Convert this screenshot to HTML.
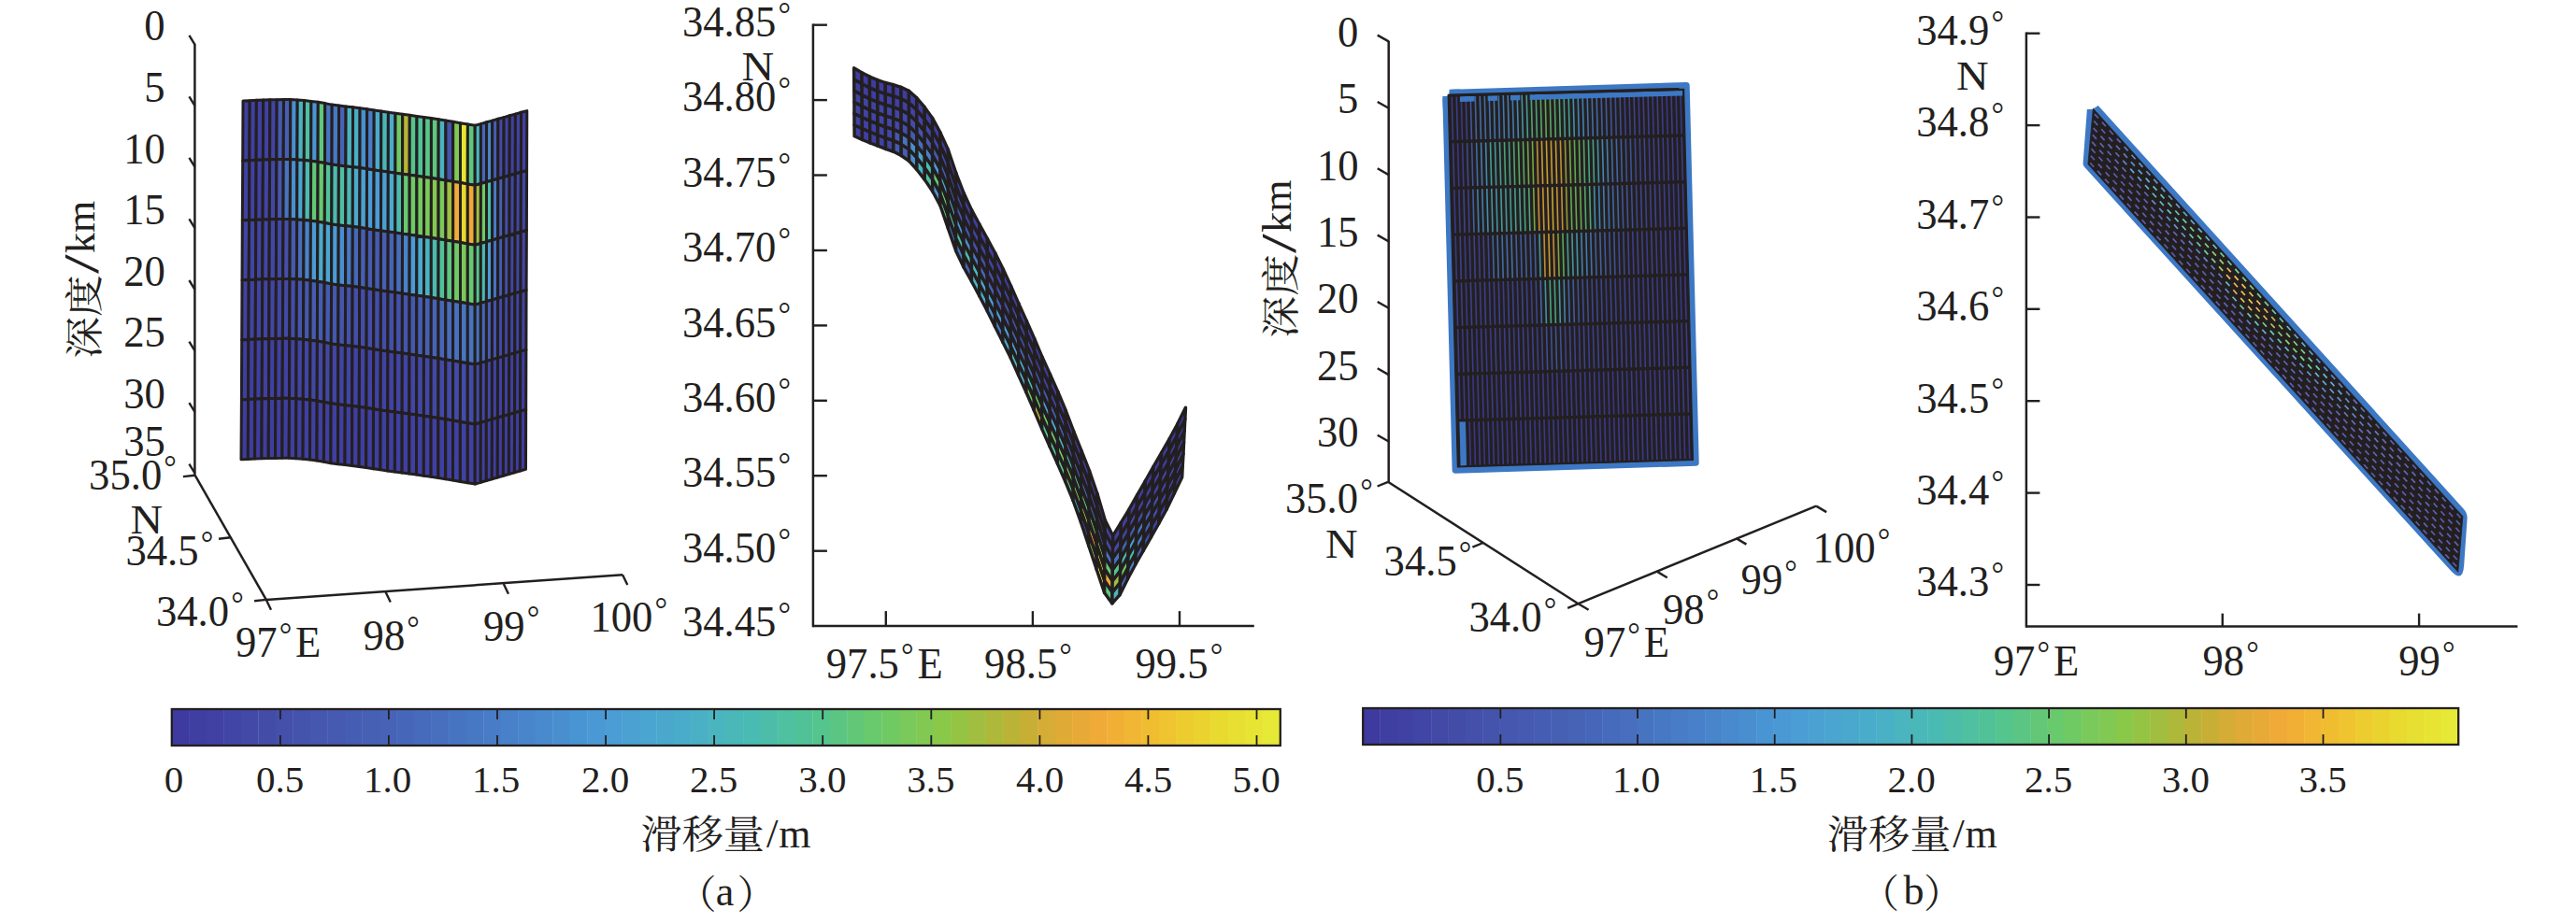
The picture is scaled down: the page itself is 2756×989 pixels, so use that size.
<!DOCTYPE html>
<html lang="zh"><head><meta charset="utf-8"><title>figure</title><style>html,body{margin:0;padding:0;background:#fff;overflow:hidden}svg{display:block}</style></head><body>
<svg width="2756" height="989" viewBox="0 0 2756 989" font-family='"Liberation Serif","Noto Serif CJK SC",serif' fill="#231f20">
<rect width="2756" height="989" fill="#ffffff"/>
<line x1="208.4" y1="47" x2="208.4" y2="508.7" stroke="#231f20" stroke-width="2.5" stroke-linecap="butt"/>
<line x1="208.4" y1="47.6" x2="202.4" y2="37.8" stroke="#231f20" stroke-width="2.4" stroke-linecap="butt"/>
<g transform="translate(154.3 43.4)"><text font-size="46.5" transform="scale(0.96 1)">0</text></g>
<line x1="208.4" y1="113.2" x2="202.4" y2="103.4" stroke="#231f20" stroke-width="2.4" stroke-linecap="butt"/>
<g transform="translate(154.3 109)"><text font-size="46.5" transform="scale(0.96 1)">5</text></g>
<line x1="208.4" y1="178.7" x2="202.4" y2="168.9" stroke="#231f20" stroke-width="2.4" stroke-linecap="butt"/>
<g transform="translate(132.3 174.5)"><text font-size="46.5" transform="scale(0.96 1)">10</text></g>
<line x1="208.4" y1="244.2" x2="202.4" y2="234.4" stroke="#231f20" stroke-width="2.4" stroke-linecap="butt"/>
<g transform="translate(132.3 240)"><text font-size="46.5" transform="scale(0.96 1)">15</text></g>
<line x1="208.4" y1="309.8" x2="202.4" y2="300" stroke="#231f20" stroke-width="2.4" stroke-linecap="butt"/>
<g transform="translate(132.3 305.6)"><text font-size="46.5" transform="scale(0.96 1)">20</text></g>
<line x1="208.4" y1="375.4" x2="202.4" y2="365.6" stroke="#231f20" stroke-width="2.4" stroke-linecap="butt"/>
<g transform="translate(132.3 371.2)"><text font-size="46.5" transform="scale(0.96 1)">25</text></g>
<line x1="208.4" y1="440.9" x2="202.4" y2="431.1" stroke="#231f20" stroke-width="2.4" stroke-linecap="butt"/>
<g transform="translate(132.3 436.7)"><text font-size="46.5" transform="scale(0.96 1)">30</text></g>
<line x1="208.4" y1="506.4" x2="202.4" y2="496.6" stroke="#231f20" stroke-width="2.4" stroke-linecap="butt"/>
<g transform="translate(132.3 487.7)"><text font-size="46.5" transform="scale(0.96 1)">35</text></g>
<line x1="208.6" y1="508.7" x2="284.8" y2="641.9" stroke="#231f20" stroke-width="2.5" stroke-linecap="butt"/>
<line x1="284.8" y1="641.9" x2="666.1" y2="615.2" stroke="#231f20" stroke-width="2.5" stroke-linecap="butt"/>
<line x1="208.6" y1="508.7" x2="195.9" y2="510.1" stroke="#231f20" stroke-width="2.4" stroke-linecap="butt"/>
<line x1="246.7" y1="575.3" x2="234" y2="576.7" stroke="#231f20" stroke-width="2.4" stroke-linecap="butt"/>
<line x1="284.8" y1="641.9" x2="272.1" y2="643.3" stroke="#231f20" stroke-width="2.4" stroke-linecap="butt"/>
<line x1="284.8" y1="641.9" x2="290" y2="652.7" stroke="#231f20" stroke-width="2.4" stroke-linecap="butt"/>
<line x1="412.6" y1="633.7" x2="417.8" y2="644.5" stroke="#231f20" stroke-width="2.4" stroke-linecap="butt"/>
<line x1="538.8" y1="625" x2="544" y2="635.8" stroke="#231f20" stroke-width="2.4" stroke-linecap="butt"/>
<line x1="666.1" y1="615.2" x2="671.3" y2="626" stroke="#231f20" stroke-width="2.4" stroke-linecap="butt"/>
<g transform="translate(95.1 524.1)"><text font-size="46.5" transform="scale(0.96 1)">35.0<tspan font-size="35.3" dx="2.2" dy="-12.2">°</tspan></text></g>
<g transform="translate(134.5 604.8)"><text font-size="46.5" transform="scale(0.96 1)">34.5<tspan font-size="35.3" dx="2.2" dy="-12.2">°</tspan></text></g>
<g transform="translate(167 670.3)"><text font-size="46.5" transform="scale(0.96 1)">34.0<tspan font-size="35.3" dx="2.2" dy="-12.2">°</tspan></text></g>
<g transform="translate(139.6 570.7)"><text font-size="44" transform="scale(1.09 1)">N</text></g>
<g transform="translate(251.9 703.3)"><text font-size="46.5" transform="scale(0.96 1)">97<tspan font-size="35.3" dx="2.2" dy="-12.2">°</tspan><tspan dx="4" dy="12.2">E</tspan></text></g>
<g transform="translate(388.6 696)"><text font-size="46.5" transform="scale(0.96 1)">98<tspan font-size="35.3" dx="2.2" dy="-12.2">°</tspan></text></g>
<g transform="translate(517 685.6)"><text font-size="46.5" transform="scale(0.96 1)">99<tspan font-size="35.3" dx="2.2" dy="-12.2">°</tspan></text></g>
<g transform="translate(631.5 676.2)"><text font-size="46.5" transform="scale(0.96 1)">100<tspan font-size="35.3" dx="2.2" dy="-12.2">°</tspan></text></g>
<g transform="translate(104.9 383.8) rotate(-90)"><text font-size="41.3" transform="scale(1.087 1)">深度</text></g>
<g transform="translate(105.1 293) rotate(-90)"><text font-size="52" transform="scale(1.43 1)">/</text></g>
<g transform="translate(100.5 270.9) rotate(-90)"><text font-size="44">km</text></g>
<g stroke="#231f20" stroke-width="3.0" stroke-linejoin="round">
<polygon points="260,108.1 267.2,107.7 266.9,171.7 259.7,172.1" fill="#403fa2"/>
<polygon points="267.2,107.7 274.4,107.3 274.1,171.3 266.9,171.7" fill="#403fa2"/>
<polygon points="274.4,107.3 281.7,107 281.4,170.9 274.1,171.3" fill="#403fa2"/>
<polygon points="281.7,107 288.9,106.8 288.6,170.8 281.4,170.9" fill="#4041a3"/>
<polygon points="288.9,106.8 296.2,106.7 295.9,170.6 288.6,170.8" fill="#4144a4"/>
<polygon points="296.2,106.7 303.5,106.5 303.2,170.5 295.9,170.6" fill="#455bb1"/>
<polygon points="303.5,106.5 310.8,106.5 310.6,170.5 303.2,170.5" fill="#465fb4"/>
<polygon points="310.8,106.5 318.2,107 317.9,170.9 310.6,170.5" fill="#498fd0"/>
<polygon points="318.2,107 325.5,107.5 325.3,171.4 317.9,170.9" fill="#4ab3c0"/>
<polygon points="325.5,107.5 332.9,108.4 332.7,172.3 325.3,171.4" fill="#4ebfa4"/>
<polygon points="332.9,108.4 340.3,109.3 340.1,173.3 332.7,172.3" fill="#4a95d3"/>
<polygon points="340.3,109.3 347.7,110.6 347.5,174.6 340.1,173.3" fill="#5ec77f"/>
<polygon points="347.7,110.6 355.2,112.1 355,176 347.5,174.6" fill="#4773c0"/>
<polygon points="355.2,112.1 362.6,113.1 362.4,177 355,176" fill="#4778c4"/>
<polygon points="362.6,113.1 370.1,113.9 369.9,177.9 362.4,177" fill="#4663b6"/>
<polygon points="370.1,113.9 377.6,114.7 377.4,178.7 369.9,177.9" fill="#4ab3c0"/>
<polygon points="377.6,114.7 385.1,115.7 385,179.6 377.4,178.7" fill="#4aaec7"/>
<polygon points="385.1,115.7 392.7,116.8 392.5,180.8 385,179.6" fill="#498fd0"/>
<polygon points="392.7,116.8 400.2,118 400.1,181.9 392.5,180.8" fill="#487dc7"/>
<polygon points="400.2,118 407.8,119.1 407.7,183.1 400.1,181.9" fill="#4aaacd"/>
<polygon points="407.8,119.1 415.4,120.2 415.3,184.1 407.7,183.1" fill="#4ab7b8"/>
<polygon points="415.4,120.2 423,121.2 422.9,185.2 415.3,184.1" fill="#4aaccb"/>
<polygon points="423,121.2 430.7,122.3 430.6,186.2 422.9,185.2" fill="#6fca65"/>
<polygon points="430.7,122.3 438.3,123.3 438.2,187.3 430.6,186.2" fill="#b7b438"/>
<polygon points="438.3,123.3 446,124.4 445.9,188.3 438.2,187.3" fill="#55c58d"/>
<polygon points="446,124.4 453.7,125.5 453.6,189.4 445.9,188.3" fill="#50c299"/>
<polygon points="453.7,125.5 461.4,126.6 461.4,190.5 453.6,189.4" fill="#59c686"/>
<polygon points="461.4,126.6 469.2,127.8 469.1,191.8 461.4,190.5" fill="#5ec77f"/>
<polygon points="469.2,127.8 476.9,129.1 476.9,193 469.1,191.8" fill="#4ab3c0"/>
<polygon points="476.9,129.1 484.7,130.3 484.7,194.3 476.9,193" fill="#4453ac"/>
<polygon points="484.7,130.3 492.5,131.7 492.5,195.6 484.7,194.3" fill="#7fc955"/>
<polygon points="492.5,131.7 500.4,133 500.3,196.9 492.5,195.6" fill="#e7e533"/>
<polygon points="500.4,133 508.2,134.3 508.2,198.2 500.3,196.9" fill="#5ec77f"/>
<polygon points="508.2,134.3 514.4,132.6 514.4,196.5 508.2,198.2" fill="#4ab5bc"/>
<polygon points="514.4,132.6 520.6,130.8 520.5,194.8 514.4,196.5" fill="#4668ba"/>
<polygon points="520.6,130.8 526.7,129.1 526.7,193 520.5,194.8" fill="#4986cc"/>
<polygon points="526.7,129.1 532.9,127.3 532.8,191.3 526.7,193" fill="#465fb4"/>
<polygon points="532.9,127.3 539.1,125.6 539,189.5 532.8,191.3" fill="#434ba7"/>
<polygon points="539.1,125.6 545.3,123.8 545.1,187.8 539,189.5" fill="#4144a4"/>
<polygon points="545.3,123.8 551.4,122.1 551.3,186 545.1,187.8" fill="#4041a3"/>
<polygon points="551.4,122.1 557.6,120.3 557.4,184.3 551.3,186" fill="#4041a3"/>
<polygon points="557.6,120.3 563.8,118.6 563.6,182.6 557.4,184.3" fill="#4041a3"/>
<polygon points="259.7,172.1 266.9,171.7 266.6,235.6 259.3,236" fill="#4041a3"/>
<polygon points="266.9,171.7 274.1,171.3 273.8,235.2 266.6,235.6" fill="#4041a3"/>
<polygon points="274.1,171.3 281.4,170.9 281.1,234.9 273.8,235.2" fill="#4041a3"/>
<polygon points="281.4,170.9 288.6,170.8 288.3,234.7 281.1,234.9" fill="#4144a4"/>
<polygon points="288.6,170.8 295.9,170.6 295.6,234.6 288.3,234.7" fill="#4246a5"/>
<polygon points="295.9,170.6 303.2,170.5 303,234.4 295.6,234.6" fill="#4557af"/>
<polygon points="303.2,170.5 310.6,170.5 310.3,234.4 303,234.4" fill="#4773c0"/>
<polygon points="310.6,170.5 317.9,170.9 317.7,234.9 310.3,234.4" fill="#498fd0"/>
<polygon points="317.9,170.9 325.3,171.4 325,235.4 317.7,234.9" fill="#4aa5d0"/>
<polygon points="325.3,171.4 332.7,172.3 332.4,236.3 325,235.4" fill="#4bbbaf"/>
<polygon points="332.7,172.3 340.1,173.3 339.9,237.2 332.4,236.3" fill="#62c878"/>
<polygon points="340.1,173.3 347.5,174.6 347.3,238.5 339.9,237.2" fill="#66c972"/>
<polygon points="347.5,174.6 355,176 354.8,240 347.3,238.5" fill="#50c299"/>
<polygon points="355,176 362.4,177 362.2,241 354.8,240" fill="#4bbbaf"/>
<polygon points="362.4,177 369.9,177.9 369.7,241.8 362.2,241" fill="#4ebfa4"/>
<polygon points="369.9,177.9 377.4,178.7 377.3,242.6 369.7,241.8" fill="#4ab7b8"/>
<polygon points="377.4,178.7 385,179.6 384.8,243.6 377.3,242.6" fill="#4aaacd"/>
<polygon points="385,179.6 392.5,180.8 392.4,244.7 384.8,243.6" fill="#4aa0d3"/>
<polygon points="392.5,180.8 400.1,181.9 399.9,245.9 392.4,244.7" fill="#4a9bd6"/>
<polygon points="400.1,181.9 407.7,183.1 407.5,247 399.9,245.9" fill="#4a9bd6"/>
<polygon points="407.7,183.1 415.3,184.1 415.2,248.1 407.5,247" fill="#4aa0d3"/>
<polygon points="415.3,184.1 422.9,185.2 422.8,249.1 415.2,248.1" fill="#4aaacd"/>
<polygon points="422.9,185.2 430.6,186.2 430.5,250.2 422.8,249.1" fill="#4bbbaf"/>
<polygon points="430.6,186.2 438.2,187.3 438.2,251.2 430.5,250.2" fill="#66c972"/>
<polygon points="438.2,187.3 445.9,188.3 445.9,252.3 438.2,251.2" fill="#6fca65"/>
<polygon points="445.9,188.3 453.6,189.4 453.6,253.4 445.9,252.3" fill="#74c960"/>
<polygon points="453.6,189.4 461.4,190.5 461.3,254.5 453.6,253.4" fill="#7ac95a"/>
<polygon points="461.4,190.5 469.1,191.8 469.1,255.7 461.3,254.5" fill="#84c950"/>
<polygon points="469.1,191.8 476.9,193 476.9,257 469.1,255.7" fill="#7ac95a"/>
<polygon points="476.9,193 484.7,194.3 484.7,258.2 476.9,257" fill="#9fbf41"/>
<polygon points="484.7,194.3 492.5,195.6 492.5,259.6 484.7,258.2" fill="#f2ab38"/>
<polygon points="492.5,195.6 500.3,196.9 500.3,260.9 492.5,259.6" fill="#e8d82e"/>
<polygon points="500.3,196.9 508.2,198.2 508.2,262.2 500.3,260.9" fill="#eeaa38"/>
<polygon points="508.2,198.2 514.4,196.5 514.3,260.5 508.2,262.2" fill="#9fbf41"/>
<polygon points="514.4,196.5 520.5,194.8 520.5,258.7 514.3,260.5" fill="#6fca65"/>
<polygon points="520.5,194.8 526.7,193 526.6,257 520.5,258.7" fill="#4bbbaf"/>
<polygon points="526.7,193 532.8,191.3 532.7,255.2 526.6,257" fill="#487dc7"/>
<polygon points="532.8,191.3 539,189.5 538.8,253.5 532.7,255.2" fill="#465fb4"/>
<polygon points="539,189.5 545.1,187.8 545,251.7 538.8,253.5" fill="#444faa"/>
<polygon points="545.1,187.8 551.3,186 551.1,250 545,251.7" fill="#4246a5"/>
<polygon points="551.3,186 557.4,184.3 557.2,248.2 551.1,250" fill="#4246a5"/>
<polygon points="557.4,184.3 563.6,182.6 563.4,246.5 557.2,248.2" fill="#4246a5"/>
<polygon points="259.3,236 266.6,235.6 266.2,299.6 259,300" fill="#4144a4"/>
<polygon points="266.6,235.6 273.8,235.2 273.5,299.2 266.2,299.6" fill="#4144a4"/>
<polygon points="273.8,235.2 281.1,234.9 280.8,298.8 273.5,299.2" fill="#4144a4"/>
<polygon points="281.1,234.9 288.3,234.7 288,298.7 280.8,298.8" fill="#4246a5"/>
<polygon points="288.3,234.7 295.6,234.6 295.4,298.5 288,298.7" fill="#4246a5"/>
<polygon points="295.6,234.6 303,234.4 302.7,298.4 295.4,298.5" fill="#4248a6"/>
<polygon points="303,234.4 310.3,234.4 310,298.4 302.7,298.4" fill="#444faa"/>
<polygon points="310.3,234.4 317.7,234.9 317.4,298.8 310,298.4" fill="#455bb1"/>
<polygon points="317.7,234.9 325,235.4 324.8,299.3 317.4,298.8" fill="#476dbd"/>
<polygon points="325,235.4 332.4,236.3 332.2,300.2 324.8,299.3" fill="#4883ca"/>
<polygon points="332.4,236.3 339.9,237.2 339.6,301.2 332.2,300.2" fill="#4a9bd6"/>
<polygon points="339.9,237.2 347.3,238.5 347.1,302.5 339.6,301.2" fill="#4aaacd"/>
<polygon points="347.3,238.5 354.8,240 354.6,303.9 347.1,302.5" fill="#4aa5d0"/>
<polygon points="354.8,240 362.2,241 362,304.9 354.6,303.9" fill="#4a9bd6"/>
<polygon points="362.2,241 369.7,241.8 369.6,305.8 362,304.9" fill="#498fd0"/>
<polygon points="369.7,241.8 377.3,242.6 377.1,306.6 369.6,305.8" fill="#4778c4"/>
<polygon points="377.3,242.6 384.8,243.6 384.6,307.5 377.1,306.6" fill="#4668ba"/>
<polygon points="384.8,243.6 392.4,244.7 392.2,308.7 384.6,307.5" fill="#465fb4"/>
<polygon points="392.4,244.7 399.9,245.9 399.8,309.8 392.2,308.7" fill="#455bb1"/>
<polygon points="399.9,245.9 407.5,247 407.4,311 399.8,309.8" fill="#455bb1"/>
<polygon points="407.5,247 415.2,248.1 415,312 407.4,311" fill="#465fb4"/>
<polygon points="415.2,248.1 422.8,249.1 422.7,313.1 415,312" fill="#4663b6"/>
<polygon points="422.8,249.1 430.5,250.2 430.4,314.1 422.7,313.1" fill="#476dbd"/>
<polygon points="430.5,250.2 438.2,251.2 438.1,315.2 430.4,314.1" fill="#4883ca"/>
<polygon points="438.2,251.2 445.9,252.3 445.8,316.2 438.1,315.2" fill="#4a9bd6"/>
<polygon points="445.9,252.3 453.6,253.4 453.5,317.3 445.8,316.2" fill="#4aaacd"/>
<polygon points="453.6,253.4 461.3,254.5 461.3,318.4 453.5,317.3" fill="#4ab3c0"/>
<polygon points="461.3,254.5 469.1,255.7 469,319.7 461.3,318.4" fill="#4bbbaf"/>
<polygon points="469.1,255.7 476.9,257 476.8,320.9 469,319.7" fill="#50c299"/>
<polygon points="476.9,257 484.7,258.2 484.6,322.2 476.8,320.9" fill="#5ec77f"/>
<polygon points="484.7,258.2 492.5,259.6 492.5,323.5 484.6,322.2" fill="#6fca65"/>
<polygon points="492.5,259.6 500.3,260.9 500.3,324.8 492.5,323.5" fill="#7ac95a"/>
<polygon points="500.3,260.9 508.2,262.2 508.2,326.2 500.3,324.8" fill="#66c972"/>
<polygon points="508.2,262.2 514.3,260.5 514.3,324.4 508.2,326.2" fill="#55c58d"/>
<polygon points="514.3,260.5 520.5,258.7 520.4,322.7 514.3,324.4" fill="#4bbbaf"/>
<polygon points="520.5,258.7 526.6,257 526.5,320.9 520.4,322.7" fill="#4a9bd6"/>
<polygon points="526.6,257 532.7,255.2 532.6,319.2 526.5,320.9" fill="#4773c0"/>
<polygon points="532.7,255.2 538.8,253.5 538.7,317.4 532.6,319.2" fill="#455bb1"/>
<polygon points="538.8,253.5 545,251.7 544.8,315.7 538.7,317.4" fill="#444faa"/>
<polygon points="545,251.7 551.1,250 550.9,313.9 544.8,315.7" fill="#4246a5"/>
<polygon points="551.1,250 557.2,248.2 557,312.2 550.9,313.9" fill="#4246a5"/>
<polygon points="557.2,248.2 563.4,246.5 563.1,310.5 557,312.2" fill="#4246a5"/>
<polygon points="259,300 266.2,299.6 265.9,363.5 258.7,363.9" fill="#4143a3"/>
<polygon points="266.2,299.6 273.5,299.2 273.2,363.1 265.9,363.5" fill="#4143a3"/>
<polygon points="273.5,299.2 280.8,298.8 280.5,362.8 273.2,363.1" fill="#4143a3"/>
<polygon points="280.8,298.8 288,298.7 287.8,362.6 280.5,362.8" fill="#4145a4"/>
<polygon points="288,298.7 295.4,298.5 295.1,362.5 287.8,362.6" fill="#4145a4"/>
<polygon points="295.4,298.5 302.7,298.4 302.4,362.3 295.1,362.5" fill="#4145a4"/>
<polygon points="302.7,298.4 310,298.4 309.8,362.3 302.4,362.3" fill="#4249a6"/>
<polygon points="310,298.4 317.4,298.8 317.1,362.8 309.8,362.3" fill="#434da9"/>
<polygon points="317.4,298.8 324.8,299.3 324.5,363.3 317.1,362.8" fill="#4455ad"/>
<polygon points="324.8,299.3 332.2,300.2 332,364.2 324.5,363.3" fill="#4558af"/>
<polygon points="332.2,300.2 339.6,301.2 339.4,365.1 332,364.2" fill="#455cb2"/>
<polygon points="339.6,301.2 347.1,302.5 346.9,366.4 339.4,365.1" fill="#455cb2"/>
<polygon points="347.1,302.5 354.6,303.9 354.3,367.9 346.9,366.4" fill="#455ab0"/>
<polygon points="354.6,303.9 362,304.9 361.8,368.9 354.3,367.9" fill="#4558af"/>
<polygon points="362,304.9 369.6,305.8 369.4,369.7 361.8,368.9" fill="#4455ad"/>
<polygon points="369.6,305.8 377.1,306.6 376.9,370.5 369.4,369.7" fill="#4451ab"/>
<polygon points="377.1,306.6 384.6,307.5 384.5,371.5 376.9,370.5" fill="#444faa"/>
<polygon points="384.6,307.5 392.2,308.7 392.1,372.6 384.5,371.5" fill="#434da9"/>
<polygon points="392.2,308.7 399.8,309.8 399.7,373.8 392.1,372.6" fill="#434da9"/>
<polygon points="399.8,309.8 407.4,311 407.3,374.9 399.7,373.8" fill="#434da9"/>
<polygon points="407.4,311 415,312 414.9,376 407.3,374.9" fill="#434da9"/>
<polygon points="415,312 422.7,313.1 422.6,377 414.9,376" fill="#444faa"/>
<polygon points="422.7,313.1 430.4,314.1 430.3,378.1 422.6,377" fill="#4451ab"/>
<polygon points="430.4,314.1 438.1,315.2 438,379.1 430.3,378.1" fill="#4455ad"/>
<polygon points="438.1,315.2 445.8,316.2 445.7,380.2 438,379.1" fill="#4558af"/>
<polygon points="445.8,316.2 453.5,317.3 453.4,381.3 445.7,380.2" fill="#455cb2"/>
<polygon points="453.5,317.3 461.3,318.4 461.2,382.4 453.4,381.3" fill="#465fb4"/>
<polygon points="461.3,318.4 469,319.7 469,383.6 461.2,382.4" fill="#4663b6"/>
<polygon points="469,319.7 476.8,320.9 476.8,384.9 469,383.6" fill="#4667b9"/>
<polygon points="476.8,320.9 484.6,322.2 484.6,386.1 476.8,384.9" fill="#476cbc"/>
<polygon points="484.6,322.2 492.5,323.5 492.5,387.5 484.6,386.1" fill="#4771bf"/>
<polygon points="492.5,323.5 500.3,324.8 500.3,388.8 492.5,387.5" fill="#4775c2"/>
<polygon points="500.3,324.8 508.2,326.2 508.2,390.1 500.3,388.8" fill="#4773c0"/>
<polygon points="508.2,326.2 514.3,324.4 514.3,388.4 508.2,390.1" fill="#4771bf"/>
<polygon points="514.3,324.4 520.4,322.7 520.4,386.6 514.3,388.4" fill="#4667b9"/>
<polygon points="520.4,322.7 526.5,320.9 526.4,384.9 520.4,386.6" fill="#455cb2"/>
<polygon points="526.5,320.9 532.6,319.2 532.5,383.1 526.4,384.9" fill="#4451ab"/>
<polygon points="532.6,319.2 538.7,317.4 538.6,381.4 532.5,383.1" fill="#4249a6"/>
<polygon points="538.7,317.4 544.8,315.7 544.7,379.6 538.6,381.4" fill="#4145a4"/>
<polygon points="544.8,315.7 550.9,313.9 550.8,377.9 544.7,379.6" fill="#4145a4"/>
<polygon points="550.9,313.9 557,312.2 556.8,376.1 550.8,377.9" fill="#4143a3"/>
<polygon points="557,312.2 563.1,310.5 562.9,374.4 556.8,376.1" fill="#4143a3"/>
<polygon points="258.7,363.9 265.9,363.5 265.6,427.5 258.4,427.9" fill="#3f3ea1"/>
<polygon points="265.9,363.5 273.2,363.1 272.9,427.1 265.6,427.5" fill="#3f3ea1"/>
<polygon points="273.2,363.1 280.5,362.8 280.2,426.7 272.9,427.1" fill="#3f3ea1"/>
<polygon points="280.5,362.8 287.8,362.6 287.5,426.6 280.2,426.7" fill="#403fa2"/>
<polygon points="287.8,362.6 295.1,362.5 294.8,426.4 287.5,426.6" fill="#403fa2"/>
<polygon points="295.1,362.5 302.4,362.3 302.1,426.3 294.8,426.4" fill="#403fa2"/>
<polygon points="302.4,362.3 309.8,362.3 309.5,426.3 302.1,426.3" fill="#4041a2"/>
<polygon points="309.8,362.3 317.1,362.8 316.9,426.7 309.5,426.3" fill="#4142a3"/>
<polygon points="317.1,362.8 324.5,363.3 324.3,427.2 316.9,426.7" fill="#4144a4"/>
<polygon points="324.5,363.3 332,364.2 331.7,428.1 324.3,427.2" fill="#4145a5"/>
<polygon points="332,364.2 339.4,365.1 339.2,429.1 331.7,428.1" fill="#4247a5"/>
<polygon points="339.4,365.1 346.9,366.4 346.7,430.4 339.2,429.1" fill="#4247a5"/>
<polygon points="346.9,366.4 354.3,367.9 354.1,431.8 346.7,430.4" fill="#4247a5"/>
<polygon points="354.3,367.9 361.8,368.9 361.7,432.8 354.1,431.8" fill="#4145a5"/>
<polygon points="361.8,368.9 369.4,369.7 369.2,433.7 361.7,432.8" fill="#4144a4"/>
<polygon points="369.4,369.7 376.9,370.5 376.7,434.5 369.2,433.7" fill="#4144a4"/>
<polygon points="376.9,370.5 384.5,371.5 384.3,435.4 376.7,434.5" fill="#4142a3"/>
<polygon points="384.5,371.5 392.1,372.6 391.9,436.6 384.3,435.4" fill="#4142a3"/>
<polygon points="392.1,372.6 399.7,373.8 399.5,437.7 391.9,436.6" fill="#4142a3"/>
<polygon points="399.7,373.8 407.3,374.9 407.1,438.9 399.5,437.7" fill="#4142a3"/>
<polygon points="407.3,374.9 414.9,376 414.8,439.9 407.1,438.9" fill="#4142a3"/>
<polygon points="414.9,376 422.6,377 422.5,441 414.8,439.9" fill="#4142a3"/>
<polygon points="422.6,377 430.3,378.1 430.2,442 422.5,441" fill="#4144a4"/>
<polygon points="430.3,378.1 438,379.1 437.9,443.1 430.2,442" fill="#4144a4"/>
<polygon points="438,379.1 445.7,380.2 445.6,444.1 437.9,443.1" fill="#4145a5"/>
<polygon points="445.7,380.2 453.4,381.3 453.4,445.2 445.6,444.1" fill="#4247a5"/>
<polygon points="453.4,381.3 461.2,382.4 461.1,446.3 453.4,445.2" fill="#4247a5"/>
<polygon points="461.2,382.4 469,383.6 468.9,447.6 461.1,446.3" fill="#4248a6"/>
<polygon points="469,383.6 476.8,384.9 476.7,448.8 468.9,447.6" fill="#4249a7"/>
<polygon points="476.8,384.9 484.6,386.1 484.6,450.1 476.7,448.8" fill="#4249a7"/>
<polygon points="484.6,386.1 492.5,387.5 492.4,451.4 484.6,450.1" fill="#434ba7"/>
<polygon points="492.5,387.5 500.3,388.8 500.3,452.7 492.4,451.4" fill="#434ca8"/>
<polygon points="500.3,388.8 508.2,390.1 508.2,454.1 500.3,452.7" fill="#434ca8"/>
<polygon points="508.2,390.1 514.3,388.4 514.3,452.3 508.2,454.1" fill="#434ba7"/>
<polygon points="514.3,388.4 520.4,386.6 520.3,450.6 514.3,452.3" fill="#4248a6"/>
<polygon points="520.4,386.6 526.4,384.9 526.4,448.8 520.3,450.6" fill="#4145a5"/>
<polygon points="526.4,384.9 532.5,383.1 532.4,447.1 526.4,448.8" fill="#4142a3"/>
<polygon points="532.5,383.1 538.6,381.4 538.5,445.3 532.4,447.1" fill="#4041a2"/>
<polygon points="538.6,381.4 544.7,379.6 544.5,443.6 538.5,445.3" fill="#403fa2"/>
<polygon points="544.7,379.6 550.8,377.9 550.6,441.8 544.5,443.6" fill="#403fa2"/>
<polygon points="550.8,377.9 556.8,376.1 556.6,440.1 550.6,441.8" fill="#3f3ea1"/>
<polygon points="556.8,376.1 562.9,374.4 562.7,438.4 556.6,440.1" fill="#3f3ea1"/>
<polygon points="258.4,427.9 265.6,427.5 265.3,491.4 258,491.8" fill="#3f3ca0"/>
<polygon points="265.6,427.5 272.9,427.1 272.6,491 265.3,491.4" fill="#3f3ca0"/>
<polygon points="272.9,427.1 280.2,426.7 279.9,490.7 272.6,491" fill="#3f3ca0"/>
<polygon points="280.2,426.7 287.5,426.6 287.2,490.5 279.9,490.7" fill="#3f3da0"/>
<polygon points="287.5,426.6 294.8,426.4 294.5,490.4 287.2,490.5" fill="#3f3da0"/>
<polygon points="294.8,426.4 302.1,426.3 301.9,490.2 294.5,490.4" fill="#3f3da0"/>
<polygon points="302.1,426.3 309.5,426.3 309.2,490.2 301.9,490.2" fill="#3f3da0"/>
<polygon points="309.5,426.3 316.9,426.7 316.6,490.7 309.2,490.2" fill="#3f3ea1"/>
<polygon points="316.9,426.7 324.3,427.2 324.1,491.2 316.6,490.7" fill="#3f3ea1"/>
<polygon points="324.3,427.2 331.7,428.1 331.5,492.1 324.1,491.2" fill="#403fa2"/>
<polygon points="331.7,428.1 339.2,429.1 339,493 331.5,492.1" fill="#403fa2"/>
<polygon points="339.2,429.1 346.7,430.4 346.4,494.3 339,493" fill="#403fa2"/>
<polygon points="346.7,430.4 354.1,431.8 353.9,495.8 346.4,494.3" fill="#403fa2"/>
<polygon points="354.1,431.8 361.7,432.8 361.5,496.8 353.9,495.8" fill="#403fa2"/>
<polygon points="361.7,432.8 369.2,433.7 369,497.6 361.5,496.8" fill="#403fa2"/>
<polygon points="369.2,433.7 376.7,434.5 376.6,498.4 369,497.6" fill="#3f3ea1"/>
<polygon points="376.7,434.5 384.3,435.4 384.1,499.4 376.6,498.4" fill="#3f3ea1"/>
<polygon points="384.3,435.4 391.9,436.6 391.7,500.5 384.1,499.4" fill="#3f3ea1"/>
<polygon points="391.9,436.6 399.5,437.7 399.4,501.7 391.7,500.5" fill="#3f3ea1"/>
<polygon points="399.5,437.7 407.1,438.9 407,502.8 399.4,501.7" fill="#3f3ea1"/>
<polygon points="407.1,438.9 414.8,439.9 414.7,503.9 407,502.8" fill="#3f3ea1"/>
<polygon points="414.8,439.9 422.5,441 422.4,504.9 414.7,503.9" fill="#3f3ea1"/>
<polygon points="422.5,441 430.2,442 430.1,506 422.4,504.9" fill="#3f3ea1"/>
<polygon points="430.2,442 437.9,443.1 437.8,507 430.1,506" fill="#403fa2"/>
<polygon points="437.9,443.1 445.6,444.1 445.5,508.1 437.8,507" fill="#403fa2"/>
<polygon points="445.6,444.1 453.4,445.2 453.3,509.2 445.5,508.1" fill="#403fa2"/>
<polygon points="453.4,445.2 461.1,446.3 461.1,510.3 453.3,509.2" fill="#403fa2"/>
<polygon points="461.1,446.3 468.9,447.6 468.9,511.5 461.1,510.3" fill="#4040a2"/>
<polygon points="468.9,447.6 476.7,448.8 476.7,512.8 468.9,511.5" fill="#4040a2"/>
<polygon points="476.7,448.8 484.6,450.1 484.5,514 476.7,512.8" fill="#4040a2"/>
<polygon points="484.6,450.1 492.4,451.4 492.4,515.4 484.5,514" fill="#4041a3"/>
<polygon points="492.4,451.4 500.3,452.7 500.3,516.7 492.4,515.4" fill="#4041a3"/>
<polygon points="500.3,452.7 508.2,454.1 508.2,518 500.3,516.7" fill="#4041a3"/>
<polygon points="508.2,454.1 514.3,452.3 514.2,516.3 508.2,518" fill="#4040a2"/>
<polygon points="514.3,452.3 520.3,450.6 520.3,514.5 514.2,516.3" fill="#403fa2"/>
<polygon points="520.3,450.6 526.4,448.8 526.3,512.8 520.3,514.5" fill="#403fa2"/>
<polygon points="526.4,448.8 532.4,447.1 532.3,511 526.3,512.8" fill="#3f3ea1"/>
<polygon points="532.4,447.1 538.5,445.3 538.4,509.3 532.3,511" fill="#3f3da0"/>
<polygon points="538.5,445.3 544.5,443.6 544.4,507.5 538.4,509.3" fill="#3f3da0"/>
<polygon points="544.5,443.6 550.6,441.8 550.4,505.8 544.4,507.5" fill="#3f3da0"/>
<polygon points="550.6,441.8 556.6,440.1 556.4,504 550.4,505.8" fill="#3f3ca0"/>
<polygon points="556.6,440.1 562.7,438.4 562.5,502.3 556.4,504" fill="#3f3ca0"/>
</g>
<line x1="869.9" y1="25.5" x2="869.9" y2="671.3" stroke="#231f20" stroke-width="2.5" stroke-linecap="butt"/>
<line x1="869.9" y1="670.1" x2="1341.8" y2="670.1" stroke="#231f20" stroke-width="2.5" stroke-linecap="butt"/>
<line x1="869.9" y1="26.7" x2="884.9" y2="26.7" stroke="#231f20" stroke-width="2.4" stroke-linecap="butt"/>
<g transform="translate(730 38.9)"><text font-size="46.5" transform="scale(0.96 1)">34.85<tspan font-size="35.3" dx="2.2" dy="-12.2">°</tspan></text></g>
<line x1="869.9" y1="107.1" x2="884.9" y2="107.1" stroke="#231f20" stroke-width="2.4" stroke-linecap="butt"/>
<g transform="translate(730 119.3)"><text font-size="46.5" transform="scale(0.96 1)">34.80<tspan font-size="35.3" dx="2.2" dy="-12.2">°</tspan></text></g>
<line x1="869.9" y1="187.5" x2="884.9" y2="187.5" stroke="#231f20" stroke-width="2.4" stroke-linecap="butt"/>
<g transform="translate(730 199.7)"><text font-size="46.5" transform="scale(0.96 1)">34.75<tspan font-size="35.3" dx="2.2" dy="-12.2">°</tspan></text></g>
<line x1="869.9" y1="268" x2="884.9" y2="268" stroke="#231f20" stroke-width="2.4" stroke-linecap="butt"/>
<g transform="translate(730 280.2)"><text font-size="46.5" transform="scale(0.96 1)">34.70<tspan font-size="35.3" dx="2.2" dy="-12.2">°</tspan></text></g>
<line x1="869.9" y1="348.4" x2="884.9" y2="348.4" stroke="#231f20" stroke-width="2.4" stroke-linecap="butt"/>
<g transform="translate(730 360.6)"><text font-size="46.5" transform="scale(0.96 1)">34.65<tspan font-size="35.3" dx="2.2" dy="-12.2">°</tspan></text></g>
<line x1="869.9" y1="428.8" x2="884.9" y2="428.8" stroke="#231f20" stroke-width="2.4" stroke-linecap="butt"/>
<g transform="translate(730 441)"><text font-size="46.5" transform="scale(0.96 1)">34.60<tspan font-size="35.3" dx="2.2" dy="-12.2">°</tspan></text></g>
<line x1="869.9" y1="509.2" x2="884.9" y2="509.2" stroke="#231f20" stroke-width="2.4" stroke-linecap="butt"/>
<g transform="translate(730 521.4)"><text font-size="46.5" transform="scale(0.96 1)">34.55<tspan font-size="35.3" dx="2.2" dy="-12.2">°</tspan></text></g>
<line x1="869.9" y1="589.7" x2="884.9" y2="589.7" stroke="#231f20" stroke-width="2.4" stroke-linecap="butt"/>
<g transform="translate(730 601.9)"><text font-size="46.5" transform="scale(0.96 1)">34.50<tspan font-size="35.3" dx="2.2" dy="-12.2">°</tspan></text></g>
<g transform="translate(730 681.1)"><text font-size="46.5" transform="scale(0.96 1)">34.45<tspan font-size="35.3" dx="2.2" dy="-12.2">°</tspan></text></g>
<line x1="947.8" y1="670.1" x2="947.8" y2="654.1" stroke="#231f20" stroke-width="2.4" stroke-linecap="butt"/>
<line x1="1104.9" y1="670.1" x2="1104.9" y2="654.1" stroke="#231f20" stroke-width="2.4" stroke-linecap="butt"/>
<line x1="1262" y1="670.1" x2="1262" y2="654.1" stroke="#231f20" stroke-width="2.4" stroke-linecap="butt"/>
<g transform="translate(883.8 725.5)"><text font-size="46.5" transform="scale(0.96 1)">97.5<tspan font-size="35.3" dx="2.2" dy="-12.2">°</tspan><tspan dx="4" dy="12.2">E</tspan></text></g>
<g transform="translate(1053.1 725.5)"><text font-size="46.5" transform="scale(0.96 1)">98.5<tspan font-size="35.3" dx="2.2" dy="-12.2">°</tspan></text></g>
<g transform="translate(1214.5 725.5)"><text font-size="46.5" transform="scale(0.96 1)">99.5<tspan font-size="35.3" dx="2.2" dy="-12.2">°</tspan></text></g>
<g transform="translate(793.6 86.1)"><text font-size="44" transform="scale(1.09 1)">N</text></g>
<g stroke="#231f20" stroke-width="3.4" stroke-linejoin="round">
<polygon points="914.1,145.8 922.4,149.5 922.4,137.5 914,133.7" fill="#403fa2"/>
<polygon points="922.4,149.5 930.8,153 930.7,141.2 922.4,137.5" fill="#403fa2"/>
<polygon points="930.8,153 939.2,156.2 939.1,144.5 930.7,141.2" fill="#403fa2"/>
<polygon points="939.2,156.2 947.5,159.4 947.5,147.6 939.1,144.5" fill="#4041a3"/>
<polygon points="947.5,159.4 955.9,162.3 955.8,150.4 947.5,147.6" fill="#4144a4"/>
<polygon points="955.9,162.3 964.2,166.5 964.2,154.3 955.8,150.4" fill="#455bb1"/>
<polygon points="964.2,166.5 972.6,172.3 972.6,159.8 964.2,154.3" fill="#465fb4"/>
<polygon points="972.6,172.3 980.9,181.5 980.9,168.7 972.6,159.8" fill="#498fd0"/>
<polygon points="980.9,181.5 989.3,192.4 989.3,179.5 980.9,168.7" fill="#4ab3c0"/>
<polygon points="989.3,192.4 997.7,204.7 997.7,191.7 989.3,179.5" fill="#4ebfa4"/>
<polygon points="997.7,204.7 1006,220.3 1006,207.3 997.7,191.7" fill="#4a95d3"/>
<polygon points="1006,220.3 1014.4,244.6 1014.4,230.6 1006,207.3" fill="#5ec77f"/>
<polygon points="1014.4,244.6 1022.7,268.5 1022.7,254.6 1014.4,230.6" fill="#4773c0"/>
<polygon points="1022.7,268.5 1031.1,286.2 1031.1,272.9 1022.7,254.6" fill="#4778c4"/>
<polygon points="1031.1,286.2 1039.5,301.2 1039.5,288.5 1031.1,272.9" fill="#4663b6"/>
<polygon points="1039.5,301.2 1047.8,316.7 1047.8,303.9 1039.5,288.5" fill="#4ab3c0"/>
<polygon points="1047.8,316.7 1056.2,332.8 1056.2,320 1047.8,303.9" fill="#4aaec7"/>
<polygon points="1056.2,332.8 1064.5,349.6 1064.6,336.5 1056.2,320" fill="#498fd0"/>
<polygon points="1064.5,349.6 1072.9,366.3 1072.9,353.2 1064.6,336.5" fill="#487dc7"/>
<polygon points="1072.9,366.3 1081.3,383.1 1081.3,370.3 1072.9,353.2" fill="#4aaacd"/>
<polygon points="1081.3,383.1 1089.6,401.6 1089.7,388.8 1081.3,370.3" fill="#4ab7b8"/>
<polygon points="1089.6,401.6 1098,420 1098,407.2 1089.7,388.8" fill="#4aaccb"/>
<polygon points="1098,420 1106.3,439.3 1106.4,426.5 1098,407.2" fill="#6fca65"/>
<polygon points="1106.3,439.3 1114.7,459.1 1114.8,446.3 1106.4,426.5" fill="#b7b438"/>
<polygon points="1114.7,459.1 1123,477.9 1123.1,465 1114.8,446.3" fill="#55c58d"/>
<polygon points="1123,477.9 1131.4,496.4 1131.5,483.6 1123.1,465" fill="#50c299"/>
<polygon points="1131.4,496.4 1139.8,515.5 1139.9,502.8 1131.5,483.6" fill="#59c686"/>
<polygon points="1139.8,515.5 1148.1,535.8 1148.2,523.5 1139.9,502.8" fill="#5ec77f"/>
<polygon points="1148.1,535.8 1156.5,559.1 1156.6,546.4 1148.2,523.5" fill="#4ab3c0"/>
<polygon points="1156.5,559.1 1164.8,584.1 1164.9,570.8 1156.6,546.4" fill="#4453ac"/>
<polygon points="1164.8,584.1 1173.2,609.5 1173.3,595.9 1164.9,570.8" fill="#7fc955"/>
<polygon points="1173.2,609.5 1181.6,634.5 1181.7,621.5 1173.3,595.9" fill="#e7e533"/>
<polygon points="1181.6,634.5 1189.9,645.9 1190,633.8 1181.7,621.5" fill="#5ec77f"/>
<polygon points="1189.9,645.9 1198.2,636.5 1198.4,623.6 1190,633.8" fill="#4ab5bc"/>
<polygon points="1198.2,636.5 1206.5,619.8 1206.8,607.4 1198.4,623.6" fill="#4668ba"/>
<polygon points="1206.5,619.8 1214.8,604.2 1215.1,591.8 1206.8,607.4" fill="#4986cc"/>
<polygon points="1214.8,604.2 1223.1,589.6 1223.5,577.1 1215.1,591.8" fill="#465fb4"/>
<polygon points="1223.1,589.6 1231.4,575.1 1231.9,562.5 1223.5,577.1" fill="#434ba7"/>
<polygon points="1231.4,575.1 1239.7,560.5 1240.2,547.9 1231.9,562.5" fill="#4144a4"/>
<polygon points="1239.7,560.5 1248.1,545.2 1248.6,532.6 1240.2,547.9" fill="#4041a3"/>
<polygon points="1248.1,545.2 1256.4,528 1256.9,515.6 1248.6,532.6" fill="#4041a3"/>
<polygon points="1256.4,528 1264.7,510.7 1265.3,498.3 1256.9,515.6" fill="#4041a3"/>
<polygon points="914,133.7 922.4,137.5 922.3,125.5 913.9,121.5" fill="#4041a3"/>
<polygon points="922.4,137.5 930.7,141.2 930.7,129.4 922.3,125.5" fill="#4041a3"/>
<polygon points="930.7,141.2 939.1,144.5 939,132.7 930.7,129.4" fill="#4041a3"/>
<polygon points="939.1,144.5 947.5,147.6 947.4,135.8 939,132.7" fill="#4144a4"/>
<polygon points="947.5,147.6 955.8,150.4 955.8,138.4 947.4,135.8" fill="#4246a5"/>
<polygon points="955.8,150.4 964.2,154.3 964.2,142.1 955.8,138.4" fill="#4557af"/>
<polygon points="964.2,154.3 972.6,159.8 972.5,147.3 964.2,142.1" fill="#4773c0"/>
<polygon points="972.6,159.8 980.9,168.7 980.9,155.9 972.5,147.3" fill="#498fd0"/>
<polygon points="980.9,168.7 989.3,179.5 989.3,166.5 980.9,155.9" fill="#4aa5d0"/>
<polygon points="989.3,179.5 997.7,191.7 997.6,178.6 989.3,166.5" fill="#4bbbaf"/>
<polygon points="997.7,191.7 1006,207.3 1006,194.2 997.6,178.6" fill="#62c878"/>
<polygon points="1006,207.3 1014.4,230.6 1014.4,216.5 1006,194.2" fill="#66c972"/>
<polygon points="1014.4,230.6 1022.7,254.6 1022.8,240.7 1014.4,216.5" fill="#50c299"/>
<polygon points="1022.7,254.6 1031.1,272.9 1031.1,259.7 1022.8,240.7" fill="#4bbbaf"/>
<polygon points="1031.1,272.9 1039.5,288.5 1039.5,275.8 1031.1,259.7" fill="#4ebfa4"/>
<polygon points="1039.5,288.5 1047.8,303.9 1047.9,291.2 1039.5,275.8" fill="#4ab7b8"/>
<polygon points="1047.8,303.9 1056.2,320 1056.2,307.1 1047.9,291.2" fill="#4aaacd"/>
<polygon points="1056.2,320 1064.6,336.5 1064.6,323.4 1056.2,307.1" fill="#4aa0d3"/>
<polygon points="1064.6,336.5 1072.9,353.2 1073,340.2 1064.6,323.4" fill="#4a9bd6"/>
<polygon points="1072.9,353.2 1081.3,370.3 1081.4,357.5 1073,340.2" fill="#4a9bd6"/>
<polygon points="1081.3,370.3 1089.7,388.8 1089.7,376.1 1081.4,357.5" fill="#4aa0d3"/>
<polygon points="1089.7,388.8 1098,407.2 1098.1,394.5 1089.7,376.1" fill="#4aaacd"/>
<polygon points="1098,407.2 1106.4,426.5 1106.5,413.7 1098.1,394.5" fill="#4bbbaf"/>
<polygon points="1106.4,426.5 1114.8,446.3 1114.8,433.5 1106.5,413.7" fill="#66c972"/>
<polygon points="1114.8,446.3 1123.1,465 1123.2,452.2 1114.8,433.5" fill="#6fca65"/>
<polygon points="1123.1,465 1131.5,483.6 1131.6,470.8 1123.2,452.2" fill="#74c960"/>
<polygon points="1131.5,483.6 1139.9,502.8 1139.9,490.2 1131.6,470.8" fill="#7ac95a"/>
<polygon points="1139.9,502.8 1148.2,523.5 1148.3,511.1 1139.9,490.2" fill="#84c950"/>
<polygon points="1148.2,523.5 1156.6,546.4 1156.7,533.7 1148.3,511.1" fill="#7ac95a"/>
<polygon points="1156.6,546.4 1164.9,570.8 1165.1,557.4 1156.7,533.7" fill="#9fbf41"/>
<polygon points="1164.9,570.8 1173.3,595.9 1173.4,582.4 1165.1,557.4" fill="#f2ab38"/>
<polygon points="1173.3,595.9 1181.7,621.5 1181.8,608.6 1173.4,582.4" fill="#e8d82e"/>
<polygon points="1181.7,621.5 1190,633.8 1190.2,621.8 1181.8,608.6" fill="#eeaa38"/>
<polygon points="1190,633.8 1198.4,623.6 1198.6,610.8 1190.2,621.8" fill="#9fbf41"/>
<polygon points="1198.4,623.6 1206.8,607.4 1207,594.9 1198.6,610.8" fill="#6fca65"/>
<polygon points="1206.8,607.4 1215.1,591.8 1215.4,579.4 1207,594.9" fill="#4bbbaf"/>
<polygon points="1215.1,591.8 1223.5,577.1 1223.9,564.7 1215.4,579.4" fill="#487dc7"/>
<polygon points="1223.5,577.1 1231.9,562.5 1232.3,549.9 1223.9,564.7" fill="#465fb4"/>
<polygon points="1231.9,562.5 1240.2,547.9 1240.7,535.2 1232.3,549.9" fill="#444faa"/>
<polygon points="1240.2,547.9 1248.6,532.6 1249.1,520 1240.7,535.2" fill="#4246a5"/>
<polygon points="1248.6,532.6 1256.9,515.6 1257.5,503.2 1249.1,520" fill="#4246a5"/>
<polygon points="1256.9,515.6 1265.3,498.3 1266,485.8 1257.5,503.2" fill="#4246a5"/>
<polygon points="913.9,121.5 922.3,125.5 922.2,113.6 913.9,109.3" fill="#4144a4"/>
<polygon points="922.3,125.5 930.7,129.4 930.6,117.6 922.2,113.6" fill="#4144a4"/>
<polygon points="930.7,129.4 939,132.7 939,120.9 930.6,117.6" fill="#4144a4"/>
<polygon points="939,132.7 947.4,135.8 947.4,123.9 939,120.9" fill="#4246a5"/>
<polygon points="947.4,135.8 955.8,138.4 955.7,126.5 947.4,123.9" fill="#4246a5"/>
<polygon points="955.8,138.4 964.2,142.1 964.1,129.9 955.7,126.5" fill="#4248a6"/>
<polygon points="964.2,142.1 972.5,147.3 972.5,134.8 964.1,129.9" fill="#444faa"/>
<polygon points="972.5,147.3 980.9,155.9 980.9,143.1 972.5,134.8" fill="#455bb1"/>
<polygon points="980.9,155.9 989.3,166.5 989.3,153.6 980.9,143.1" fill="#476dbd"/>
<polygon points="989.3,166.5 997.6,178.6 997.6,165.6 989.3,153.6" fill="#4883ca"/>
<polygon points="997.6,178.6 1006,194.2 1006,181.1 997.6,165.6" fill="#4a9bd6"/>
<polygon points="1006,194.2 1014.4,216.5 1014.4,202.4 1006,181.1" fill="#4aaacd"/>
<polygon points="1014.4,216.5 1022.8,240.7 1022.8,226.8 1014.4,202.4" fill="#4aa5d0"/>
<polygon points="1022.8,240.7 1031.1,259.7 1031.1,246.5 1022.8,226.8" fill="#4a9bd6"/>
<polygon points="1031.1,259.7 1039.5,275.8 1039.5,263 1031.1,246.5" fill="#498fd0"/>
<polygon points="1039.5,275.8 1047.9,291.2 1047.9,278.5 1039.5,263" fill="#4778c4"/>
<polygon points="1047.9,291.2 1056.2,307.1 1056.3,294.2 1047.9,278.5" fill="#4668ba"/>
<polygon points="1056.2,307.1 1064.6,323.4 1064.7,310.3 1056.3,294.2" fill="#465fb4"/>
<polygon points="1064.6,323.4 1073,340.2 1073,327.1 1064.7,310.3" fill="#455bb1"/>
<polygon points="1073,340.2 1081.4,357.5 1081.4,344.7 1073,327.1" fill="#455bb1"/>
<polygon points="1081.4,357.5 1089.7,376.1 1089.8,363.3 1081.4,344.7" fill="#465fb4"/>
<polygon points="1089.7,376.1 1098.1,394.5 1098.2,381.8 1089.8,363.3" fill="#4663b6"/>
<polygon points="1098.1,394.5 1106.5,413.7 1106.5,400.9 1098.2,381.8" fill="#476dbd"/>
<polygon points="1106.5,413.7 1114.8,433.5 1114.9,420.7 1106.5,400.9" fill="#4883ca"/>
<polygon points="1114.8,433.5 1123.2,452.2 1123.3,439.3 1114.9,420.7" fill="#4a9bd6"/>
<polygon points="1123.2,452.2 1131.6,470.8 1131.7,457.9 1123.3,439.3" fill="#4aaacd"/>
<polygon points="1131.6,470.8 1139.9,490.2 1140,477.5 1131.7,457.9" fill="#4ab3c0"/>
<polygon points="1139.9,490.2 1148.3,511.1 1148.4,498.7 1140,477.5" fill="#4bbbaf"/>
<polygon points="1148.3,511.1 1156.7,533.7 1156.8,520.9 1148.4,498.7" fill="#50c299"/>
<polygon points="1156.7,533.7 1165.1,557.4 1165.2,544 1156.8,520.9" fill="#5ec77f"/>
<polygon points="1165.1,557.4 1173.4,582.4 1173.6,568.8 1165.2,544" fill="#6fca65"/>
<polygon points="1173.4,582.4 1181.8,608.6 1181.9,595.6 1173.6,568.8" fill="#7ac95a"/>
<polygon points="1181.8,608.6 1190.2,621.8 1190.3,609.7 1181.9,595.6" fill="#66c972"/>
<polygon points="1190.2,621.8 1198.6,610.8 1198.8,597.9 1190.3,609.7" fill="#55c58d"/>
<polygon points="1198.6,610.8 1207,594.9 1207.3,582.5 1198.8,597.9" fill="#4bbbaf"/>
<polygon points="1207,594.9 1215.4,579.4 1215.7,567 1207.3,582.5" fill="#4a9bd6"/>
<polygon points="1215.4,579.4 1223.9,564.7 1224.2,552.2 1215.7,567" fill="#4773c0"/>
<polygon points="1223.9,564.7 1232.3,549.9 1232.7,537.4 1224.2,552.2" fill="#455bb1"/>
<polygon points="1232.3,549.9 1240.7,535.2 1241.2,522.6 1232.7,537.4" fill="#444faa"/>
<polygon points="1240.7,535.2 1249.1,520 1249.6,507.4 1241.2,522.6" fill="#4246a5"/>
<polygon points="1249.1,520 1257.5,503.2 1258.1,490.8 1249.6,507.4" fill="#4246a5"/>
<polygon points="1257.5,503.2 1266,485.8 1266.6,473.4 1258.1,490.8" fill="#4246a5"/>
<polygon points="913.9,109.3 922.2,113.6 922.2,101.6 913.8,97.1" fill="#4143a3"/>
<polygon points="922.2,113.6 930.6,117.6 930.6,105.7 922.2,101.6" fill="#4143a3"/>
<polygon points="930.6,117.6 939,120.9 938.9,109.1 930.6,105.7" fill="#4143a3"/>
<polygon points="939,120.9 947.4,123.9 947.3,112.1 938.9,109.1" fill="#4145a4"/>
<polygon points="947.4,123.9 955.7,126.5 955.7,114.5 947.3,112.1" fill="#4145a4"/>
<polygon points="955.7,126.5 964.1,129.9 964.1,117.7 955.7,114.5" fill="#4145a4"/>
<polygon points="964.1,129.9 972.5,134.8 972.5,122.3 964.1,117.7" fill="#4249a6"/>
<polygon points="972.5,134.8 980.9,143.1 980.9,130.4 972.5,122.3" fill="#434da9"/>
<polygon points="980.9,143.1 989.3,153.6 989.2,140.6 980.9,130.4" fill="#4455ad"/>
<polygon points="989.3,153.6 997.6,165.6 997.6,152.5 989.2,140.6" fill="#4558af"/>
<polygon points="997.6,165.6 1006,181.1 1006,168 997.6,152.5" fill="#455cb2"/>
<polygon points="1006,181.1 1014.4,202.4 1014.4,188.4 1006,168" fill="#455cb2"/>
<polygon points="1014.4,202.4 1022.8,226.8 1022.8,212.9 1014.4,188.4" fill="#455ab0"/>
<polygon points="1022.8,226.8 1031.1,246.5 1031.2,233.2 1022.8,212.9" fill="#4558af"/>
<polygon points="1031.1,246.5 1039.5,263 1039.5,250.3 1031.2,233.2" fill="#4455ad"/>
<polygon points="1039.5,263 1047.9,278.5 1047.9,265.7 1039.5,250.3" fill="#4451ab"/>
<polygon points="1047.9,278.5 1056.3,294.2 1056.3,281.4 1047.9,265.7" fill="#444faa"/>
<polygon points="1056.3,294.2 1064.7,310.3 1064.7,297.2 1056.3,281.4" fill="#434da9"/>
<polygon points="1064.7,310.3 1073,327.1 1073.1,314 1064.7,297.2" fill="#434da9"/>
<polygon points="1073,327.1 1081.4,344.7 1081.5,331.9 1073.1,314" fill="#434da9"/>
<polygon points="1081.4,344.7 1089.8,363.3 1089.8,350.6 1081.5,331.9" fill="#434da9"/>
<polygon points="1089.8,363.3 1098.2,381.8 1098.2,369 1089.8,350.6" fill="#444faa"/>
<polygon points="1098.2,381.8 1106.5,400.9 1106.6,388.1 1098.2,369" fill="#4451ab"/>
<polygon points="1106.5,400.9 1114.9,420.7 1115,407.9 1106.6,388.1" fill="#4455ad"/>
<polygon points="1114.9,420.7 1123.3,439.3 1123.4,426.4 1115,407.9" fill="#4558af"/>
<polygon points="1123.3,439.3 1131.7,457.9 1131.8,445.1 1123.4,426.4" fill="#455cb2"/>
<polygon points="1131.7,457.9 1140,477.5 1140.1,464.8 1131.8,445.1" fill="#465fb4"/>
<polygon points="1140,477.5 1148.4,498.7 1148.5,486.4 1140.1,464.8" fill="#4663b6"/>
<polygon points="1148.4,498.7 1156.8,520.9 1156.9,508.2 1148.5,486.4" fill="#4667b9"/>
<polygon points="1156.8,520.9 1165.2,544 1165.3,530.7 1156.9,508.2" fill="#476cbc"/>
<polygon points="1165.2,544 1173.6,568.8 1173.7,555.3 1165.3,530.7" fill="#4771bf"/>
<polygon points="1173.6,568.8 1181.9,595.6 1182.1,582.7 1173.7,555.3" fill="#4775c2"/>
<polygon points="1181.9,595.6 1190.3,609.7 1190.4,597.6 1182.1,582.7" fill="#4773c0"/>
<polygon points="1190.3,609.7 1198.8,597.9 1199,585.1 1190.4,597.6" fill="#4771bf"/>
<polygon points="1198.8,597.9 1207.3,582.5 1207.5,570 1199,585.1" fill="#4667b9"/>
<polygon points="1207.3,582.5 1215.7,567 1216,554.7 1207.5,570" fill="#455cb2"/>
<polygon points="1215.7,567 1224.2,552.2 1224.6,539.7 1216,554.7" fill="#4451ab"/>
<polygon points="1224.2,552.2 1232.7,537.4 1233.1,524.8 1224.6,539.7" fill="#4249a6"/>
<polygon points="1232.7,537.4 1241.2,522.6 1241.6,509.9 1233.1,524.8" fill="#4145a4"/>
<polygon points="1241.2,522.6 1249.6,507.4 1250.2,494.8 1241.6,509.9" fill="#4145a4"/>
<polygon points="1249.6,507.4 1258.1,490.8 1258.7,478.4 1250.2,494.8" fill="#4143a3"/>
<polygon points="1258.1,490.8 1266.6,473.4 1267.2,461 1258.7,478.4" fill="#4143a3"/>
<polygon points="913.8,97.1 922.2,101.6 922.1,89.6 913.7,85" fill="#3f3ea1"/>
<polygon points="922.2,101.6 930.6,105.7 930.5,93.9 922.1,89.6" fill="#3f3ea1"/>
<polygon points="930.6,105.7 938.9,109.1 938.9,97.4 930.5,93.9" fill="#3f3ea1"/>
<polygon points="938.9,109.1 947.3,112.1 947.3,100.3 938.9,97.4" fill="#403fa2"/>
<polygon points="947.3,112.1 955.7,114.5 955.7,102.6 947.3,100.3" fill="#403fa2"/>
<polygon points="955.7,114.5 964.1,117.7 964.1,105.5 955.7,102.6" fill="#403fa2"/>
<polygon points="964.1,117.7 972.5,122.3 972.4,109.9 964.1,105.5" fill="#4041a2"/>
<polygon points="972.5,122.3 980.9,130.4 980.8,117.6 972.4,109.9" fill="#4142a3"/>
<polygon points="980.9,130.4 989.2,140.6 989.2,127.7 980.8,117.6" fill="#4144a4"/>
<polygon points="989.2,140.6 997.6,152.5 997.6,139.5 989.2,127.7" fill="#4145a5"/>
<polygon points="997.6,152.5 1006,168 1006,155 997.6,139.5" fill="#4247a5"/>
<polygon points="1006,168 1014.4,188.4 1014.4,174.3 1006,155" fill="#4247a5"/>
<polygon points="1014.4,188.4 1022.8,212.9 1022.8,199 1014.4,174.3" fill="#4247a5"/>
<polygon points="1022.8,212.9 1031.2,233.2 1031.2,220 1022.8,199" fill="#4145a5"/>
<polygon points="1031.2,233.2 1039.5,250.3 1039.6,237.6 1031.2,220" fill="#4144a4"/>
<polygon points="1039.5,250.3 1047.9,265.7 1047.9,253 1039.6,237.6" fill="#4144a4"/>
<polygon points="1047.9,265.7 1056.3,281.4 1056.3,268.5 1047.9,253" fill="#4142a3"/>
<polygon points="1056.3,281.4 1064.7,297.2 1064.7,284.1 1056.3,268.5" fill="#4142a3"/>
<polygon points="1064.7,297.2 1073.1,314 1073.1,301 1064.7,284.1" fill="#4142a3"/>
<polygon points="1073.1,314 1081.5,331.9 1081.5,319.1 1073.1,301" fill="#4142a3"/>
<polygon points="1081.5,331.9 1089.8,350.6 1089.9,337.8 1081.5,319.1" fill="#4142a3"/>
<polygon points="1089.8,350.6 1098.2,369 1098.3,356.3 1089.9,337.8" fill="#4142a3"/>
<polygon points="1098.2,369 1106.6,388.1 1106.7,375.3 1098.3,356.3" fill="#4144a4"/>
<polygon points="1106.6,388.1 1115,407.9 1115.1,395.1 1106.7,375.3" fill="#4144a4"/>
<polygon points="1115,407.9 1123.4,426.4 1123.5,413.6 1115.1,395.1" fill="#4145a5"/>
<polygon points="1123.4,426.4 1131.8,445.1 1131.8,432.3 1123.5,413.6" fill="#4247a5"/>
<polygon points="1131.8,445.1 1140.1,464.8 1140.2,452.2 1131.8,432.3" fill="#4247a5"/>
<polygon points="1140.1,464.8 1148.5,486.4 1148.6,474 1140.2,452.2" fill="#4248a6"/>
<polygon points="1148.5,486.4 1156.9,508.2 1157,495.5 1148.6,474" fill="#4249a7"/>
<polygon points="1156.9,508.2 1165.3,530.7 1165.4,517.3 1157,495.5" fill="#4249a7"/>
<polygon points="1165.3,530.7 1173.7,555.3 1173.8,541.7 1165.4,517.3" fill="#434ba7"/>
<polygon points="1173.7,555.3 1182.1,582.7 1182.2,569.7 1173.8,541.7" fill="#434ca8"/>
<polygon points="1182.1,582.7 1190.4,597.6 1190.6,585.5 1182.2,569.7" fill="#434ca8"/>
<polygon points="1190.4,597.6 1199,585.1 1199.2,572.3 1190.6,585.5" fill="#434ba7"/>
<polygon points="1199,585.1 1207.5,570 1207.8,557.5 1199.2,572.3" fill="#4248a6"/>
<polygon points="1207.5,570 1216,554.7 1216.3,542.3 1207.8,557.5" fill="#4145a5"/>
<polygon points="1216,554.7 1224.6,539.7 1224.9,527.2 1216.3,542.3" fill="#4142a3"/>
<polygon points="1224.6,539.7 1233.1,524.8 1233.5,512.2 1224.9,527.2" fill="#4041a2"/>
<polygon points="1233.1,524.8 1241.6,509.9 1242.1,497.2 1233.5,512.2" fill="#403fa2"/>
<polygon points="1241.6,509.9 1250.2,494.8 1250.7,482.2 1242.1,497.2" fill="#403fa2"/>
<polygon points="1250.2,494.8 1258.7,478.4 1259.3,466 1250.7,482.2" fill="#3f3ea1"/>
<polygon points="1258.7,478.4 1267.2,461 1267.9,448.5 1259.3,466" fill="#3f3ea1"/>
<polygon points="913.7,85 922.1,89.6 922,77.7 913.6,72.8" fill="#3f3ca0"/>
<polygon points="922.1,89.6 930.5,93.9 930.4,82.1 922,77.7" fill="#3f3ca0"/>
<polygon points="930.5,93.9 938.9,97.4 938.8,85.6 930.4,82.1" fill="#3f3ca0"/>
<polygon points="938.9,97.4 947.3,100.3 947.2,88.5 938.8,85.6" fill="#3f3da0"/>
<polygon points="947.3,100.3 955.7,102.6 955.6,90.6 947.2,88.5" fill="#3f3da0"/>
<polygon points="955.7,102.6 964.1,105.5 964,93.3 955.6,90.6" fill="#3f3da0"/>
<polygon points="964.1,105.5 972.4,109.9 972.4,97.4 964,93.3" fill="#3f3da0"/>
<polygon points="972.4,109.9 980.8,117.6 980.8,104.8 972.4,97.4" fill="#3f3ea1"/>
<polygon points="980.8,117.6 989.2,127.7 989.2,114.7 980.8,104.8" fill="#3f3ea1"/>
<polygon points="989.2,127.7 997.6,139.5 997.6,126.4 989.2,114.7" fill="#403fa2"/>
<polygon points="997.6,139.5 1006,155 1006,141.9 997.6,126.4" fill="#403fa2"/>
<polygon points="1006,155 1014.4,174.3 1014.4,160.3 1006,141.9" fill="#403fa2"/>
<polygon points="1014.4,174.3 1022.8,199 1022.8,185.1 1014.4,160.3" fill="#403fa2"/>
<polygon points="1022.8,199 1031.2,220 1031.2,206.8 1022.8,185.1" fill="#403fa2"/>
<polygon points="1031.2,220 1039.6,237.6 1039.6,224.9 1031.2,206.8" fill="#403fa2"/>
<polygon points="1039.6,237.6 1047.9,253 1048,240.3 1039.6,224.9" fill="#3f3ea1"/>
<polygon points="1047.9,253 1056.3,268.5 1056.4,255.6 1048,240.3" fill="#3f3ea1"/>
<polygon points="1056.3,268.5 1064.7,284.1 1064.8,271 1056.4,255.6" fill="#3f3ea1"/>
<polygon points="1064.7,284.1 1073.1,301 1073.2,287.9 1064.8,271" fill="#3f3ea1"/>
<polygon points="1073.1,301 1081.5,319.1 1081.6,306.3 1073.2,287.9" fill="#3f3ea1"/>
<polygon points="1081.5,319.1 1089.9,337.8 1090,325.1 1081.6,306.3" fill="#3f3ea1"/>
<polygon points="1089.9,337.8 1098.3,356.3 1098.4,343.6 1090,325.1" fill="#3f3ea1"/>
<polygon points="1098.3,356.3 1106.7,375.3 1106.7,362.5 1098.4,343.6" fill="#3f3ea1"/>
<polygon points="1106.7,375.3 1115.1,395.1 1115.1,382.3 1106.7,362.5" fill="#403fa2"/>
<polygon points="1115.1,395.1 1123.5,413.6 1123.5,400.7 1115.1,382.3" fill="#403fa2"/>
<polygon points="1123.5,413.6 1131.8,432.3 1131.9,419.5 1123.5,400.7" fill="#403fa2"/>
<polygon points="1131.8,432.3 1140.2,452.2 1140.3,439.5 1131.9,419.5" fill="#403fa2"/>
<polygon points="1140.2,452.2 1148.6,474 1148.7,461.6 1140.3,439.5" fill="#4040a2"/>
<polygon points="1148.6,474 1157,495.5 1157.1,482.7 1148.7,461.6" fill="#4040a2"/>
<polygon points="1157,495.5 1165.4,517.3 1165.5,503.9 1157.1,482.7" fill="#4040a2"/>
<polygon points="1165.4,517.3 1173.8,541.7 1173.9,528.2 1165.5,503.9" fill="#4041a3"/>
<polygon points="1173.8,541.7 1182.2,569.7 1182.3,556.8 1173.9,528.2" fill="#4041a3"/>
<polygon points="1182.2,569.7 1190.6,585.5 1190.7,573.4 1182.3,556.8" fill="#4041a3"/>
<polygon points="1190.6,585.5 1199.2,572.3 1199.3,559.4 1190.7,573.4" fill="#4040a2"/>
<polygon points="1199.2,572.3 1207.8,557.5 1208,545.1 1199.3,559.4" fill="#403fa2"/>
<polygon points="1207.8,557.5 1216.3,542.3 1216.6,529.9 1208,545.1" fill="#403fa2"/>
<polygon points="1216.3,542.3 1224.9,527.2 1225.3,514.8 1216.6,529.9" fill="#3f3ea1"/>
<polygon points="1224.9,527.2 1233.5,512.2 1233.9,499.7 1225.3,514.8" fill="#3f3da0"/>
<polygon points="1233.5,512.2 1242.1,497.2 1242.6,484.6 1233.9,499.7" fill="#3f3da0"/>
<polygon points="1242.1,497.2 1250.7,482.2 1251.2,469.6 1242.6,484.6" fill="#3f3da0"/>
<polygon points="1250.7,482.2 1259.3,466 1259.9,453.6 1251.2,469.6" fill="#3f3ca0"/>
<polygon points="1259.3,466 1267.9,448.5 1268.5,436.1 1259.9,453.6" fill="#3f3ca0"/>
</g>
<line x1="1485.7" y1="43.8" x2="1485.7" y2="516" stroke="#231f20" stroke-width="2.5" stroke-linecap="butt"/>
<line x1="1485.7" y1="44.4" x2="1473.7" y2="37.6" stroke="#231f20" stroke-width="2.4" stroke-linecap="butt"/>
<g transform="translate(1431 49.9)"><text font-size="46.5" transform="scale(0.96 1)">0</text></g>
<line x1="1485.7" y1="115.8" x2="1473.7" y2="109" stroke="#231f20" stroke-width="2.4" stroke-linecap="butt"/>
<g transform="translate(1431 121.2)"><text font-size="46.5" transform="scale(0.96 1)">5</text></g>
<line x1="1485.7" y1="187.1" x2="1473.7" y2="180.3" stroke="#231f20" stroke-width="2.4" stroke-linecap="butt"/>
<g transform="translate(1409 192.6)"><text font-size="46.5" transform="scale(0.96 1)">10</text></g>
<line x1="1485.7" y1="258.4" x2="1473.7" y2="251.6" stroke="#231f20" stroke-width="2.4" stroke-linecap="butt"/>
<g transform="translate(1409 263.9)"><text font-size="46.5" transform="scale(0.96 1)">15</text></g>
<line x1="1485.7" y1="329.8" x2="1473.7" y2="323" stroke="#231f20" stroke-width="2.4" stroke-linecap="butt"/>
<g transform="translate(1409 335.3)"><text font-size="46.5" transform="scale(0.96 1)">20</text></g>
<line x1="1485.7" y1="401.1" x2="1473.7" y2="394.3" stroke="#231f20" stroke-width="2.4" stroke-linecap="butt"/>
<g transform="translate(1409 406.6)"><text font-size="46.5" transform="scale(0.96 1)">25</text></g>
<line x1="1485.7" y1="472.5" x2="1473.7" y2="465.7" stroke="#231f20" stroke-width="2.4" stroke-linecap="butt"/>
<g transform="translate(1409 478)"><text font-size="46.5" transform="scale(0.96 1)">30</text></g>
<line x1="1485" y1="515.8" x2="1688.6" y2="646.2" stroke="#231f20" stroke-width="2.5" stroke-linecap="butt"/>
<line x1="1688.6" y1="646.2" x2="1943.1" y2="541.6" stroke="#231f20" stroke-width="2.5" stroke-linecap="butt"/>
<line x1="1485" y1="515.8" x2="1473.6" y2="520.5" stroke="#231f20" stroke-width="2.4" stroke-linecap="butt"/>
<line x1="1586.8" y1="581" x2="1575.4" y2="585.7" stroke="#231f20" stroke-width="2.4" stroke-linecap="butt"/>
<line x1="1688.6" y1="646.2" x2="1677.2" y2="650.9" stroke="#231f20" stroke-width="2.4" stroke-linecap="butt"/>
<line x1="1688.6" y1="646.2" x2="1699.6" y2="652.7" stroke="#231f20" stroke-width="2.4" stroke-linecap="butt"/>
<line x1="1772.7" y1="611.7" x2="1783.7" y2="618.2" stroke="#231f20" stroke-width="2.4" stroke-linecap="butt"/>
<line x1="1857.4" y1="576.1" x2="1868.4" y2="582.6" stroke="#231f20" stroke-width="2.4" stroke-linecap="butt"/>
<line x1="1943.1" y1="541.6" x2="1954.1" y2="548.1" stroke="#231f20" stroke-width="2.4" stroke-linecap="butt"/>
<g transform="translate(1375 548.8)"><text font-size="46.5" transform="scale(0.96 1)">35.0<tspan font-size="35.3" dx="2.2" dy="-12.2">°</tspan></text></g>
<g transform="translate(1480.6 616.4)"><text font-size="46.5" transform="scale(0.96 1)">34.5<tspan font-size="35.3" dx="2.2" dy="-12.2">°</tspan></text></g>
<g transform="translate(1571.5 676.1)"><text font-size="46.5" transform="scale(0.96 1)">34.0<tspan font-size="35.3" dx="2.2" dy="-12.2">°</tspan></text></g>
<g transform="translate(1418 596.9)"><text font-size="44" transform="scale(1.09 1)">N</text></g>
<g transform="translate(1694.6 703.4)"><text font-size="46.5" transform="scale(0.96 1)">97<tspan font-size="35.3" dx="2.2" dy="-12.2">°</tspan><tspan dx="4" dy="12.2">E</tspan></text></g>
<g transform="translate(1779 667.5)"><text font-size="46.5" transform="scale(0.96 1)">98<tspan font-size="35.3" dx="2.2" dy="-12.2">°</tspan></text></g>
<g transform="translate(1862.6 635.8)"><text font-size="46.5" transform="scale(0.96 1)">99<tspan font-size="35.3" dx="2.2" dy="-12.2">°</tspan></text></g>
<g transform="translate(1939.6 602)"><text font-size="46.5" transform="scale(0.96 1)">100<tspan font-size="35.3" dx="2.2" dy="-12.2">°</tspan></text></g>
<g transform="translate(1385.4 361.7) rotate(-90)"><text font-size="41.3" transform="scale(1.087 1)">深度</text></g>
<g transform="translate(1385.6 270.9) rotate(-90)"><text font-size="52" transform="scale(1.43 1)">/</text></g>
<g transform="translate(1381 248.8) rotate(-90)"><text font-size="44">km</text></g>
<polygon points="1554.2,99.4 1804.1,91.6 1814.1,495.2 1557.2,503.1 1547,106.6 1554.2,106.6" fill="#3d78c4" stroke="#3d78c4" stroke-width="7.2" stroke-linejoin="round"/>
<polygon points="1550.6,95.8 1562,95.5 1562,104 1550.6,104" fill="#3d78c4"/>
<polygon points="1543.4,103 1551,103 1551,116 1543.8,116" fill="#3d78c4"/>
<polygon points="1549.2,102 1801.6,95.3 1811.4,492.5 1559.4,499.9" fill="#231f20" stroke="#231f20" stroke-width="1.2" stroke-linejoin="miter"/>
<line x1="1553.3" y1="103.6" x2="1554.5" y2="149.9" stroke="#3a3a88" stroke-width="1.6"/>
<line x1="1558.3" y1="103.5" x2="1559.5" y2="149.8" stroke="#3b3d8a" stroke-width="1.6"/>
<line x1="1563.3" y1="103.3" x2="1564.5" y2="149.7" stroke="#3a3888" stroke-width="1.6"/>
<line x1="1568.3" y1="103.2" x2="1569.5" y2="149.5" stroke="#3c3f8b" stroke-width="1.6"/>
<line x1="1573.3" y1="103.1" x2="1574.5" y2="149.4" stroke="#3f589a" stroke-width="1.6"/>
<line x1="1578.3" y1="102.9" x2="1579.5" y2="149.3" stroke="#4065a2" stroke-width="1.6"/>
<line x1="1583.3" y1="102.8" x2="1584.5" y2="149.1" stroke="#406fa8" stroke-width="1.6"/>
<line x1="1588.3" y1="102.7" x2="1589.5" y2="149" stroke="#406ca6" stroke-width="1.6"/>
<line x1="1593.3" y1="102.5" x2="1594.5" y2="148.9" stroke="#406ea8" stroke-width="1.6"/>
<line x1="1598.3" y1="102.4" x2="1599.4" y2="148.7" stroke="#4177ac" stroke-width="1.6"/>
<line x1="1603.3" y1="102.3" x2="1604.4" y2="148.6" stroke="#4072a9" stroke-width="1.6"/>
<line x1="1608.3" y1="102.1" x2="1609.4" y2="148.5" stroke="#4179ad" stroke-width="1.6"/>
<line x1="1613.2" y1="102" x2="1614.4" y2="148.3" stroke="#427eb0" stroke-width="1.6"/>
<line x1="1618.2" y1="101.9" x2="1619.4" y2="148.2" stroke="#4179ad" stroke-width="1.6"/>
<line x1="1623.2" y1="101.7" x2="1624.4" y2="148" stroke="#4289ae" stroke-width="1.6"/>
<line x1="1628.2" y1="101.6" x2="1629.4" y2="147.9" stroke="#4294a2" stroke-width="1.6"/>
<line x1="1633.2" y1="101.5" x2="1634.4" y2="147.8" stroke="#449e8f" stroke-width="1.6"/>
<line x1="1638.2" y1="101.3" x2="1639.4" y2="147.6" stroke="#4ca475" stroke-width="1.6"/>
<line x1="1643.2" y1="101.2" x2="1644.4" y2="147.5" stroke="#4ba478" stroke-width="1.6"/>
<line x1="1648.2" y1="101.1" x2="1649.4" y2="147.4" stroke="#54a669" stroke-width="1.6"/>
<line x1="1653.2" y1="100.9" x2="1654.3" y2="147.2" stroke="#64a853" stroke-width="1.6"/>
<line x1="1658.2" y1="100.8" x2="1659.3" y2="147.1" stroke="#58a764" stroke-width="1.6"/>
<line x1="1663.2" y1="100.7" x2="1664.3" y2="147" stroke="#56a765" stroke-width="1.6"/>
<line x1="1668.2" y1="100.5" x2="1669.3" y2="146.8" stroke="#4fa572" stroke-width="1.6"/>
<line x1="1673.1" y1="100.4" x2="1674.3" y2="146.7" stroke="#459f8b" stroke-width="1.6"/>
<line x1="1678.1" y1="100.3" x2="1679.3" y2="146.6" stroke="#449e90" stroke-width="1.6"/>
<line x1="1683.1" y1="100.1" x2="1684.3" y2="146.4" stroke="#4290a9" stroke-width="1.6"/>
<line x1="1688.1" y1="100" x2="1689.3" y2="146.3" stroke="#4283b2" stroke-width="1.6"/>
<line x1="1693.1" y1="99.9" x2="1694.3" y2="146.2" stroke="#4282b2" stroke-width="1.6"/>
<line x1="1698.1" y1="99.7" x2="1699.3" y2="146" stroke="#4174aa" stroke-width="1.6"/>
<line x1="1703.1" y1="99.6" x2="1704.3" y2="145.9" stroke="#406ea8" stroke-width="1.6"/>
<line x1="1708.1" y1="99.5" x2="1709.2" y2="145.8" stroke="#406ba6" stroke-width="1.6"/>
<line x1="1713.1" y1="99.4" x2="1714.2" y2="145.6" stroke="#405d9d" stroke-width="1.6"/>
<line x1="1718.1" y1="99.2" x2="1719.2" y2="145.5" stroke="#3f5c9c" stroke-width="1.6"/>
<line x1="1723.1" y1="99.1" x2="1724.2" y2="145.4" stroke="#3f5598" stroke-width="1.6"/>
<line x1="1728.1" y1="99" x2="1729.2" y2="145.2" stroke="#3e4c92" stroke-width="1.6"/>
<line x1="1733" y1="98.8" x2="1734.2" y2="145.1" stroke="#3e4b91" stroke-width="1.6"/>
<line x1="1738" y1="98.7" x2="1739.2" y2="145" stroke="#3c418c" stroke-width="1.6"/>
<line x1="1743" y1="98.6" x2="1744.2" y2="144.8" stroke="#3c408b" stroke-width="1.6"/>
<line x1="1748" y1="98.4" x2="1749.2" y2="144.7" stroke="#3c448d" stroke-width="1.6"/>
<line x1="1753" y1="98.3" x2="1754.2" y2="144.6" stroke="#3b3d8a" stroke-width="1.6"/>
<line x1="1758" y1="98.2" x2="1759.2" y2="144.4" stroke="#3c3f8b" stroke-width="1.6"/>
<line x1="1763" y1="98" x2="1764.1" y2="144.3" stroke="#3c408c" stroke-width="1.6"/>
<line x1="1768" y1="97.9" x2="1769.1" y2="144.2" stroke="#3a3a88" stroke-width="1.6"/>
<line x1="1773" y1="97.8" x2="1774.1" y2="144" stroke="#3b3f8b" stroke-width="1.6"/>
<line x1="1778" y1="97.6" x2="1779.1" y2="143.9" stroke="#3b3c8a" stroke-width="1.6"/>
<line x1="1783" y1="97.5" x2="1784.1" y2="143.8" stroke="#393888" stroke-width="1.6"/>
<line x1="1788" y1="97.4" x2="1789.1" y2="143.6" stroke="#3b3d8a" stroke-width="1.6"/>
<line x1="1793" y1="97.2" x2="1794.1" y2="143.5" stroke="#393888" stroke-width="1.6"/>
<line x1="1797.9" y1="97.1" x2="1799.1" y2="143.3" stroke="#393887" stroke-width="1.6"/>
<line x1="1554.6" y1="153.3" x2="1555.8" y2="199.7" stroke="#3b3d8a" stroke-width="1.6"/>
<line x1="1559.6" y1="153.2" x2="1560.8" y2="199.5" stroke="#3a3888" stroke-width="1.6"/>
<line x1="1564.6" y1="153.1" x2="1565.8" y2="199.4" stroke="#3b3c8a" stroke-width="1.6"/>
<line x1="1569.6" y1="152.9" x2="1570.8" y2="199.3" stroke="#3d4990" stroke-width="1.6"/>
<line x1="1574.6" y1="152.8" x2="1575.8" y2="199.1" stroke="#3f5498" stroke-width="1.6"/>
<line x1="1579.6" y1="152.7" x2="1580.8" y2="199" stroke="#406ca6" stroke-width="1.6"/>
<line x1="1584.6" y1="152.5" x2="1585.7" y2="198.8" stroke="#417caf" stroke-width="1.6"/>
<line x1="1589.6" y1="152.4" x2="1590.7" y2="198.7" stroke="#4288af" stroke-width="1.6"/>
<line x1="1594.5" y1="152.3" x2="1595.7" y2="198.6" stroke="#429c98" stroke-width="1.6"/>
<line x1="1599.5" y1="152.1" x2="1600.7" y2="198.4" stroke="#429a98" stroke-width="1.6"/>
<line x1="1604.5" y1="152" x2="1605.7" y2="198.3" stroke="#449d91" stroke-width="1.6"/>
<line x1="1609.5" y1="151.9" x2="1610.7" y2="198.2" stroke="#48a37d" stroke-width="1.6"/>
<line x1="1614.5" y1="151.7" x2="1615.7" y2="198" stroke="#47a183" stroke-width="1.6"/>
<line x1="1619.5" y1="151.6" x2="1620.7" y2="197.9" stroke="#50a570" stroke-width="1.6"/>
<line x1="1624.5" y1="151.4" x2="1625.7" y2="197.8" stroke="#59a861" stroke-width="1.6"/>
<line x1="1629.5" y1="151.3" x2="1630.7" y2="197.6" stroke="#58a763" stroke-width="1.6"/>
<line x1="1634.5" y1="151.2" x2="1635.6" y2="197.5" stroke="#70a847" stroke-width="1.6"/>
<line x1="1639.5" y1="151" x2="1640.6" y2="197.4" stroke="#78a640" stroke-width="1.6"/>
<line x1="1644.5" y1="150.9" x2="1645.6" y2="197.2" stroke="#be8f33" stroke-width="1.6"/>
<line x1="1649.4" y1="150.8" x2="1650.6" y2="197.1" stroke="#c89b2f" stroke-width="1.6"/>
<line x1="1654.4" y1="150.6" x2="1655.6" y2="196.9" stroke="#c79c2f" stroke-width="1.6"/>
<line x1="1659.4" y1="150.5" x2="1660.6" y2="196.8" stroke="#c79e2e" stroke-width="1.6"/>
<line x1="1664.4" y1="150.4" x2="1665.6" y2="196.7" stroke="#c89a30" stroke-width="1.6"/>
<line x1="1669.4" y1="150.2" x2="1670.6" y2="196.5" stroke="#bc8f33" stroke-width="1.6"/>
<line x1="1674.4" y1="150.1" x2="1675.6" y2="196.4" stroke="#979834" stroke-width="1.6"/>
<line x1="1679.4" y1="150" x2="1680.6" y2="196.3" stroke="#76a741" stroke-width="1.6"/>
<line x1="1684.4" y1="149.8" x2="1685.5" y2="196.1" stroke="#60a857" stroke-width="1.6"/>
<line x1="1689.4" y1="149.7" x2="1690.5" y2="196" stroke="#63a854" stroke-width="1.6"/>
<line x1="1694.4" y1="149.6" x2="1695.5" y2="195.9" stroke="#54a66a" stroke-width="1.6"/>
<line x1="1699.4" y1="149.4" x2="1700.5" y2="195.7" stroke="#48a47c" stroke-width="1.6"/>
<line x1="1704.3" y1="149.3" x2="1705.5" y2="195.6" stroke="#47a184" stroke-width="1.6"/>
<line x1="1709.3" y1="149.2" x2="1710.5" y2="195.4" stroke="#4292a6" stroke-width="1.6"/>
<line x1="1714.3" y1="149" x2="1715.5" y2="195.3" stroke="#4288af" stroke-width="1.6"/>
<line x1="1719.3" y1="148.9" x2="1720.5" y2="195.2" stroke="#427eb0" stroke-width="1.6"/>
<line x1="1724.3" y1="148.8" x2="1725.5" y2="195" stroke="#406aa5" stroke-width="1.6"/>
<line x1="1729.3" y1="148.6" x2="1730.5" y2="194.9" stroke="#4067a4" stroke-width="1.6"/>
<line x1="1734.3" y1="148.5" x2="1735.4" y2="194.8" stroke="#405e9d" stroke-width="1.6"/>
<line x1="1739.3" y1="148.4" x2="1740.4" y2="194.6" stroke="#3e5296" stroke-width="1.6"/>
<line x1="1744.3" y1="148.2" x2="1745.4" y2="194.5" stroke="#3e5195" stroke-width="1.6"/>
<line x1="1749.3" y1="148.1" x2="1750.4" y2="194.4" stroke="#3d478f" stroke-width="1.6"/>
<line x1="1754.3" y1="148" x2="1755.4" y2="194.2" stroke="#3c428c" stroke-width="1.6"/>
<line x1="1759.2" y1="147.8" x2="1760.4" y2="194.1" stroke="#3d468e" stroke-width="1.6"/>
<line x1="1764.2" y1="147.7" x2="1765.4" y2="194" stroke="#3b3f8b" stroke-width="1.6"/>
<line x1="1769.2" y1="147.6" x2="1770.4" y2="193.8" stroke="#3c408c" stroke-width="1.6"/>
<line x1="1774.2" y1="147.4" x2="1775.4" y2="193.7" stroke="#3c418c" stroke-width="1.6"/>
<line x1="1779.2" y1="147.3" x2="1780.3" y2="193.5" stroke="#3a3b88" stroke-width="1.6"/>
<line x1="1784.2" y1="147.2" x2="1785.3" y2="193.4" stroke="#3b3f8b" stroke-width="1.6"/>
<line x1="1789.2" y1="147" x2="1790.3" y2="193.3" stroke="#3b3c89" stroke-width="1.6"/>
<line x1="1794.2" y1="146.9" x2="1795.3" y2="193.1" stroke="#393887" stroke-width="1.6"/>
<line x1="1799.2" y1="146.7" x2="1800.3" y2="193" stroke="#3b3c89" stroke-width="1.6"/>
<line x1="1555.9" y1="203.1" x2="1557.1" y2="249.4" stroke="#3a3b89" stroke-width="1.6"/>
<line x1="1560.9" y1="202.9" x2="1562.1" y2="249.3" stroke="#3b3c89" stroke-width="1.6"/>
<line x1="1565.9" y1="202.8" x2="1567.1" y2="249.1" stroke="#3c448d" stroke-width="1.6"/>
<line x1="1570.9" y1="202.7" x2="1572" y2="249" stroke="#3c408b" stroke-width="1.6"/>
<line x1="1575.9" y1="202.5" x2="1577" y2="248.8" stroke="#40609f" stroke-width="1.6"/>
<line x1="1580.8" y1="202.4" x2="1582" y2="248.7" stroke="#417cae" stroke-width="1.6"/>
<line x1="1585.8" y1="202.2" x2="1587" y2="248.6" stroke="#427fb0" stroke-width="1.6"/>
<line x1="1590.8" y1="202.1" x2="1592" y2="248.4" stroke="#428dac" stroke-width="1.6"/>
<line x1="1595.8" y1="202" x2="1597" y2="248.3" stroke="#4294a4" stroke-width="1.6"/>
<line x1="1600.8" y1="201.8" x2="1602" y2="248.2" stroke="#4293a5" stroke-width="1.6"/>
<line x1="1605.8" y1="201.7" x2="1607" y2="248" stroke="#429c98" stroke-width="1.6"/>
<line x1="1610.8" y1="201.6" x2="1612" y2="247.9" stroke="#42999b" stroke-width="1.6"/>
<line x1="1615.8" y1="201.4" x2="1616.9" y2="247.7" stroke="#429c97" stroke-width="1.6"/>
<line x1="1620.8" y1="201.3" x2="1621.9" y2="247.6" stroke="#46a087" stroke-width="1.6"/>
<line x1="1625.7" y1="201.2" x2="1626.9" y2="247.5" stroke="#449e90" stroke-width="1.6"/>
<line x1="1630.7" y1="201" x2="1631.9" y2="247.3" stroke="#47a281" stroke-width="1.6"/>
<line x1="1635.7" y1="200.9" x2="1636.9" y2="247.2" stroke="#4ba478" stroke-width="1.6"/>
<line x1="1640.7" y1="200.8" x2="1641.9" y2="247.1" stroke="#7ca43e" stroke-width="1.6"/>
<line x1="1645.7" y1="200.6" x2="1646.9" y2="246.9" stroke="#c58f34" stroke-width="1.6"/>
<line x1="1650.7" y1="200.5" x2="1651.9" y2="246.8" stroke="#c89432" stroke-width="1.6"/>
<line x1="1655.7" y1="200.3" x2="1656.9" y2="246.6" stroke="#c89a30" stroke-width="1.6"/>
<line x1="1660.7" y1="200.2" x2="1661.8" y2="246.5" stroke="#c5a62c" stroke-width="1.6"/>
<line x1="1665.7" y1="200.1" x2="1666.8" y2="246.4" stroke="#c89133" stroke-width="1.6"/>
<line x1="1670.7" y1="199.9" x2="1671.8" y2="246.2" stroke="#c18f33" stroke-width="1.6"/>
<line x1="1675.6" y1="199.8" x2="1676.8" y2="246.1" stroke="#929a36" stroke-width="1.6"/>
<line x1="1680.6" y1="199.7" x2="1681.8" y2="246" stroke="#63a854" stroke-width="1.6"/>
<line x1="1685.6" y1="199.5" x2="1686.8" y2="245.8" stroke="#68a850" stroke-width="1.6"/>
<line x1="1690.6" y1="199.4" x2="1691.8" y2="245.7" stroke="#63a854" stroke-width="1.6"/>
<line x1="1695.6" y1="199.3" x2="1696.8" y2="245.5" stroke="#55a768" stroke-width="1.6"/>
<line x1="1700.6" y1="199.1" x2="1701.8" y2="245.4" stroke="#4aa479" stroke-width="1.6"/>
<line x1="1705.6" y1="199" x2="1706.7" y2="245.3" stroke="#4290aa" stroke-width="1.6"/>
<line x1="1710.6" y1="198.8" x2="1711.7" y2="245.1" stroke="#427fb0" stroke-width="1.6"/>
<line x1="1715.6" y1="198.7" x2="1716.7" y2="245" stroke="#427db0" stroke-width="1.6"/>
<line x1="1720.6" y1="198.6" x2="1721.7" y2="244.9" stroke="#406ea8" stroke-width="1.6"/>
<line x1="1725.5" y1="198.4" x2="1726.7" y2="244.7" stroke="#4068a4" stroke-width="1.6"/>
<line x1="1730.5" y1="198.3" x2="1731.7" y2="244.6" stroke="#4064a1" stroke-width="1.6"/>
<line x1="1735.5" y1="198.2" x2="1736.7" y2="244.4" stroke="#3f5698" stroke-width="1.6"/>
<line x1="1740.5" y1="198" x2="1741.7" y2="244.3" stroke="#3f5498" stroke-width="1.6"/>
<line x1="1745.5" y1="197.9" x2="1746.7" y2="244.2" stroke="#3e4e94" stroke-width="1.6"/>
<line x1="1750.5" y1="197.8" x2="1751.6" y2="244" stroke="#3c448e" stroke-width="1.6"/>
<line x1="1755.5" y1="197.6" x2="1756.6" y2="243.9" stroke="#3d478f" stroke-width="1.6"/>
<line x1="1760.5" y1="197.5" x2="1761.6" y2="243.8" stroke="#3c428c" stroke-width="1.6"/>
<line x1="1765.5" y1="197.4" x2="1766.6" y2="243.6" stroke="#3c408c" stroke-width="1.6"/>
<line x1="1770.5" y1="197.2" x2="1771.6" y2="243.5" stroke="#3c448d" stroke-width="1.6"/>
<line x1="1775.4" y1="197.1" x2="1776.6" y2="243.3" stroke="#3b3c89" stroke-width="1.6"/>
<line x1="1780.4" y1="196.9" x2="1781.6" y2="243.2" stroke="#3b3e8b" stroke-width="1.6"/>
<line x1="1785.4" y1="196.8" x2="1786.6" y2="243.1" stroke="#3c3f8b" stroke-width="1.6"/>
<line x1="1790.4" y1="196.7" x2="1791.6" y2="242.9" stroke="#393888" stroke-width="1.6"/>
<line x1="1795.4" y1="196.5" x2="1796.5" y2="242.8" stroke="#3b3c89" stroke-width="1.6"/>
<line x1="1800.4" y1="196.4" x2="1801.5" y2="242.7" stroke="#3a3988" stroke-width="1.6"/>
<line x1="1557.2" y1="252.8" x2="1558.4" y2="299.1" stroke="#393888" stroke-width="1.6"/>
<line x1="1562.2" y1="252.7" x2="1563.3" y2="299" stroke="#3c408b" stroke-width="1.6"/>
<line x1="1567.1" y1="252.5" x2="1568.3" y2="298.9" stroke="#3b3c89" stroke-width="1.6"/>
<line x1="1572.1" y1="252.4" x2="1573.3" y2="298.7" stroke="#3b3c89" stroke-width="1.6"/>
<line x1="1577.1" y1="252.2" x2="1578.3" y2="298.6" stroke="#3c438c" stroke-width="1.6"/>
<line x1="1582.1" y1="252.1" x2="1583.3" y2="298.4" stroke="#3b3d8a" stroke-width="1.6"/>
<line x1="1587.1" y1="252" x2="1588.3" y2="298.3" stroke="#3c418c" stroke-width="1.6"/>
<line x1="1592.1" y1="251.8" x2="1593.3" y2="298.2" stroke="#3c448e" stroke-width="1.6"/>
<line x1="1597.1" y1="251.7" x2="1598.3" y2="298" stroke="#4064a1" stroke-width="1.6"/>
<line x1="1602.1" y1="251.6" x2="1603.2" y2="297.9" stroke="#406ca7" stroke-width="1.6"/>
<line x1="1607.1" y1="251.4" x2="1608.2" y2="297.7" stroke="#406ea8" stroke-width="1.6"/>
<line x1="1612" y1="251.3" x2="1613.2" y2="297.6" stroke="#406da8" stroke-width="1.6"/>
<line x1="1617" y1="251.1" x2="1618.2" y2="297.5" stroke="#4070a9" stroke-width="1.6"/>
<line x1="1622" y1="251" x2="1623.2" y2="297.3" stroke="#40609f" stroke-width="1.6"/>
<line x1="1627" y1="250.9" x2="1628.2" y2="297.2" stroke="#3f5b9c" stroke-width="1.6"/>
<line x1="1632" y1="250.7" x2="1633.2" y2="297" stroke="#40609f" stroke-width="1.6"/>
<line x1="1637" y1="250.6" x2="1638.2" y2="296.9" stroke="#3f599b" stroke-width="1.6"/>
<line x1="1642" y1="250.5" x2="1643.1" y2="296.8" stroke="#405d9d" stroke-width="1.6"/>
<line x1="1647" y1="250.3" x2="1648.1" y2="296.6" stroke="#4295a1" stroke-width="1.6"/>
<line x1="1652" y1="250.2" x2="1653.1" y2="296.5" stroke="#bc8f32" stroke-width="1.6"/>
<line x1="1656.9" y1="250" x2="1658.1" y2="296.3" stroke="#c79d2f" stroke-width="1.6"/>
<line x1="1661.9" y1="249.9" x2="1663.1" y2="296.2" stroke="#c58f34" stroke-width="1.6"/>
<line x1="1666.9" y1="249.8" x2="1668.1" y2="296.1" stroke="#7aa53f" stroke-width="1.6"/>
<line x1="1671.9" y1="249.6" x2="1673.1" y2="295.9" stroke="#5ba85d" stroke-width="1.6"/>
<line x1="1676.9" y1="249.5" x2="1678.1" y2="295.8" stroke="#449f8d" stroke-width="1.6"/>
<line x1="1681.9" y1="249.4" x2="1683.1" y2="295.6" stroke="#42989e" stroke-width="1.6"/>
<line x1="1686.9" y1="249.2" x2="1688" y2="295.5" stroke="#4292a7" stroke-width="1.6"/>
<line x1="1691.9" y1="249.1" x2="1693" y2="295.4" stroke="#4281b1" stroke-width="1.6"/>
<line x1="1696.9" y1="248.9" x2="1698" y2="295.2" stroke="#417bae" stroke-width="1.6"/>
<line x1="1701.8" y1="248.8" x2="1703" y2="295.1" stroke="#406fa8" stroke-width="1.6"/>
<line x1="1706.8" y1="248.7" x2="1708" y2="295" stroke="#4060a0" stroke-width="1.6"/>
<line x1="1711.8" y1="248.5" x2="1713" y2="294.8" stroke="#4062a0" stroke-width="1.6"/>
<line x1="1716.8" y1="248.4" x2="1718" y2="294.7" stroke="#3f599b" stroke-width="1.6"/>
<line x1="1721.8" y1="248.3" x2="1723" y2="294.5" stroke="#3f5397" stroke-width="1.6"/>
<line x1="1726.8" y1="248.1" x2="1727.9" y2="294.4" stroke="#3f5497" stroke-width="1.6"/>
<line x1="1731.8" y1="248" x2="1732.9" y2="294.3" stroke="#3d4a91" stroke-width="1.6"/>
<line x1="1736.8" y1="247.8" x2="1737.9" y2="294.1" stroke="#3d488f" stroke-width="1.6"/>
<line x1="1741.8" y1="247.7" x2="1742.9" y2="294" stroke="#3c448e" stroke-width="1.6"/>
<line x1="1746.7" y1="247.6" x2="1747.9" y2="293.8" stroke="#3b3e8b" stroke-width="1.6"/>
<line x1="1751.7" y1="247.4" x2="1752.9" y2="293.7" stroke="#3c438c" stroke-width="1.6"/>
<line x1="1756.7" y1="247.3" x2="1757.9" y2="293.6" stroke="#3c418c" stroke-width="1.6"/>
<line x1="1761.7" y1="247.2" x2="1762.9" y2="293.4" stroke="#3b3c89" stroke-width="1.6"/>
<line x1="1766.7" y1="247" x2="1767.8" y2="293.3" stroke="#3c428c" stroke-width="1.6"/>
<line x1="1771.7" y1="246.9" x2="1772.8" y2="293.1" stroke="#3b3c8a" stroke-width="1.6"/>
<line x1="1776.7" y1="246.7" x2="1777.8" y2="293" stroke="#3a3c89" stroke-width="1.6"/>
<line x1="1781.7" y1="246.6" x2="1782.8" y2="292.9" stroke="#3c408c" stroke-width="1.6"/>
<line x1="1786.7" y1="246.5" x2="1787.8" y2="292.7" stroke="#3a3988" stroke-width="1.6"/>
<line x1="1791.6" y1="246.3" x2="1792.8" y2="292.6" stroke="#3a3c89" stroke-width="1.6"/>
<line x1="1796.6" y1="246.2" x2="1797.8" y2="292.4" stroke="#3b3c8a" stroke-width="1.6"/>
<line x1="1801.6" y1="246.1" x2="1802.8" y2="292.3" stroke="#393687" stroke-width="1.6"/>
<line x1="1558.4" y1="302.5" x2="1559.6" y2="348.9" stroke="#3b3c8a" stroke-width="1.6"/>
<line x1="1563.4" y1="302.4" x2="1564.6" y2="348.7" stroke="#3b3c8a" stroke-width="1.6"/>
<line x1="1568.4" y1="302.3" x2="1569.6" y2="348.6" stroke="#3a3888" stroke-width="1.6"/>
<line x1="1573.4" y1="302.1" x2="1574.6" y2="348.4" stroke="#3c408b" stroke-width="1.6"/>
<line x1="1578.4" y1="302" x2="1579.6" y2="348.3" stroke="#3b3c89" stroke-width="1.6"/>
<line x1="1583.4" y1="301.8" x2="1584.6" y2="348.2" stroke="#3a3c89" stroke-width="1.6"/>
<line x1="1588.4" y1="301.7" x2="1589.5" y2="348" stroke="#3c418c" stroke-width="1.6"/>
<line x1="1593.4" y1="301.6" x2="1594.5" y2="347.9" stroke="#3a3c89" stroke-width="1.6"/>
<line x1="1598.3" y1="301.4" x2="1599.5" y2="347.7" stroke="#3b3f8b" stroke-width="1.6"/>
<line x1="1603.3" y1="301.3" x2="1604.5" y2="347.6" stroke="#3c418c" stroke-width="1.6"/>
<line x1="1608.3" y1="301.1" x2="1609.5" y2="347.5" stroke="#3b3c89" stroke-width="1.6"/>
<line x1="1613.3" y1="301" x2="1614.5" y2="347.3" stroke="#3c428c" stroke-width="1.6"/>
<line x1="1618.3" y1="300.9" x2="1619.5" y2="347.2" stroke="#3c408c" stroke-width="1.6"/>
<line x1="1623.3" y1="300.7" x2="1624.5" y2="347" stroke="#3b3d8a" stroke-width="1.6"/>
<line x1="1628.3" y1="300.6" x2="1629.4" y2="346.9" stroke="#3c448d" stroke-width="1.6"/>
<line x1="1633.3" y1="300.4" x2="1634.4" y2="346.8" stroke="#3c408c" stroke-width="1.6"/>
<line x1="1638.2" y1="300.3" x2="1639.4" y2="346.6" stroke="#3c408c" stroke-width="1.6"/>
<line x1="1643.2" y1="300.2" x2="1644.4" y2="346.5" stroke="#3d458e" stroke-width="1.6"/>
<line x1="1648.2" y1="300" x2="1649.4" y2="346.3" stroke="#4068a4" stroke-width="1.6"/>
<line x1="1653.2" y1="299.9" x2="1654.4" y2="346.2" stroke="#4290a8" stroke-width="1.6"/>
<line x1="1658.2" y1="299.7" x2="1659.4" y2="346" stroke="#48a47c" stroke-width="1.6"/>
<line x1="1663.2" y1="299.6" x2="1664.4" y2="345.9" stroke="#47a282" stroke-width="1.6"/>
<line x1="1668.2" y1="299.5" x2="1669.3" y2="345.8" stroke="#42999b" stroke-width="1.6"/>
<line x1="1673.2" y1="299.3" x2="1674.3" y2="345.6" stroke="#4284b1" stroke-width="1.6"/>
<line x1="1678.1" y1="299.2" x2="1679.3" y2="345.5" stroke="#4066a3" stroke-width="1.6"/>
<line x1="1683.1" y1="299" x2="1684.3" y2="345.3" stroke="#405c9c" stroke-width="1.6"/>
<line x1="1688.1" y1="298.9" x2="1689.3" y2="345.2" stroke="#3e5195" stroke-width="1.6"/>
<line x1="1693.1" y1="298.8" x2="1694.3" y2="345.1" stroke="#3e4d93" stroke-width="1.6"/>
<line x1="1698.1" y1="298.6" x2="1699.3" y2="344.9" stroke="#3e4c92" stroke-width="1.6"/>
<line x1="1703.1" y1="298.5" x2="1704.2" y2="344.8" stroke="#3c448e" stroke-width="1.6"/>
<line x1="1708.1" y1="298.4" x2="1709.2" y2="344.6" stroke="#3d468f" stroke-width="1.6"/>
<line x1="1713.1" y1="298.2" x2="1714.2" y2="344.5" stroke="#3c448d" stroke-width="1.6"/>
<line x1="1718.1" y1="298.1" x2="1719.2" y2="344.4" stroke="#3b3c8a" stroke-width="1.6"/>
<line x1="1723" y1="297.9" x2="1724.2" y2="344.2" stroke="#3c428c" stroke-width="1.6"/>
<line x1="1728" y1="297.8" x2="1729.2" y2="344.1" stroke="#3b3e8b" stroke-width="1.6"/>
<line x1="1733" y1="297.7" x2="1734.2" y2="343.9" stroke="#3b3c8a" stroke-width="1.6"/>
<line x1="1738" y1="297.5" x2="1739.2" y2="343.8" stroke="#3c418c" stroke-width="1.6"/>
<line x1="1743" y1="297.4" x2="1744.1" y2="343.6" stroke="#3a3c89" stroke-width="1.6"/>
<line x1="1748" y1="297.2" x2="1749.1" y2="343.5" stroke="#3b3d8a" stroke-width="1.6"/>
<line x1="1753" y1="297.1" x2="1754.1" y2="343.4" stroke="#3c408c" stroke-width="1.6"/>
<line x1="1758" y1="297" x2="1759.1" y2="343.2" stroke="#3a3988" stroke-width="1.6"/>
<line x1="1762.9" y1="296.8" x2="1764.1" y2="343.1" stroke="#3b3e8b" stroke-width="1.6"/>
<line x1="1767.9" y1="296.7" x2="1769.1" y2="342.9" stroke="#3b3d8a" stroke-width="1.6"/>
<line x1="1772.9" y1="296.5" x2="1774.1" y2="342.8" stroke="#3a3888" stroke-width="1.6"/>
<line x1="1777.9" y1="296.4" x2="1779.1" y2="342.7" stroke="#3b3f8b" stroke-width="1.6"/>
<line x1="1782.9" y1="296.3" x2="1784" y2="342.5" stroke="#3a3a88" stroke-width="1.6"/>
<line x1="1787.9" y1="296.1" x2="1789" y2="342.4" stroke="#3a3988" stroke-width="1.6"/>
<line x1="1792.9" y1="296" x2="1794" y2="342.2" stroke="#3b3d8a" stroke-width="1.6"/>
<line x1="1797.9" y1="295.8" x2="1799" y2="342.1" stroke="#393787" stroke-width="1.6"/>
<line x1="1802.8" y1="295.7" x2="1804" y2="342" stroke="#3a3a88" stroke-width="1.6"/>
<line x1="1559.7" y1="352.3" x2="1560.9" y2="398.6" stroke="#3b3c89" stroke-width="1.6"/>
<line x1="1564.7" y1="352.1" x2="1565.9" y2="398.5" stroke="#393787" stroke-width="1.6"/>
<line x1="1569.7" y1="352" x2="1570.9" y2="398.3" stroke="#3b3c89" stroke-width="1.6"/>
<line x1="1574.7" y1="351.8" x2="1575.9" y2="398.2" stroke="#3b3c89" stroke-width="1.6"/>
<line x1="1579.7" y1="351.7" x2="1580.8" y2="398" stroke="#393888" stroke-width="1.6"/>
<line x1="1584.6" y1="351.6" x2="1585.8" y2="397.9" stroke="#3b3e8b" stroke-width="1.6"/>
<line x1="1589.6" y1="351.4" x2="1590.8" y2="397.8" stroke="#3a3b88" stroke-width="1.6"/>
<line x1="1594.6" y1="351.3" x2="1595.8" y2="397.6" stroke="#3a3a88" stroke-width="1.6"/>
<line x1="1599.6" y1="351.1" x2="1600.8" y2="397.5" stroke="#3c408c" stroke-width="1.6"/>
<line x1="1604.6" y1="351" x2="1605.8" y2="397.3" stroke="#3a3a88" stroke-width="1.6"/>
<line x1="1609.6" y1="350.9" x2="1610.8" y2="397.2" stroke="#3b3d8a" stroke-width="1.6"/>
<line x1="1614.6" y1="350.7" x2="1615.7" y2="397" stroke="#3c408c" stroke-width="1.6"/>
<line x1="1619.6" y1="350.6" x2="1620.7" y2="396.9" stroke="#3a3a88" stroke-width="1.6"/>
<line x1="1624.5" y1="350.4" x2="1625.7" y2="396.8" stroke="#3c408c" stroke-width="1.6"/>
<line x1="1629.5" y1="350.3" x2="1630.7" y2="396.6" stroke="#3c3f8b" stroke-width="1.6"/>
<line x1="1634.5" y1="350.2" x2="1635.7" y2="396.5" stroke="#3b3c89" stroke-width="1.6"/>
<line x1="1639.5" y1="350" x2="1640.7" y2="396.3" stroke="#3c428c" stroke-width="1.6"/>
<line x1="1644.5" y1="349.9" x2="1645.7" y2="396.2" stroke="#3b3e8a" stroke-width="1.6"/>
<line x1="1649.5" y1="349.7" x2="1650.6" y2="396" stroke="#3c438d" stroke-width="1.6"/>
<line x1="1654.5" y1="349.6" x2="1655.6" y2="395.9" stroke="#3e4f94" stroke-width="1.6"/>
<line x1="1659.5" y1="349.4" x2="1660.6" y2="395.7" stroke="#3e5095" stroke-width="1.6"/>
<line x1="1664.4" y1="349.3" x2="1665.6" y2="395.6" stroke="#3f5498" stroke-width="1.6"/>
<line x1="1669.4" y1="349.2" x2="1670.6" y2="395.5" stroke="#3e4f94" stroke-width="1.6"/>
<line x1="1674.4" y1="349" x2="1675.6" y2="395.3" stroke="#3c438c" stroke-width="1.6"/>
<line x1="1679.4" y1="348.9" x2="1680.6" y2="395.2" stroke="#3c448e" stroke-width="1.6"/>
<line x1="1684.4" y1="348.7" x2="1685.5" y2="395" stroke="#3c418c" stroke-width="1.6"/>
<line x1="1689.4" y1="348.6" x2="1690.5" y2="394.9" stroke="#3b3f8b" stroke-width="1.6"/>
<line x1="1694.4" y1="348.5" x2="1695.5" y2="394.7" stroke="#3c448d" stroke-width="1.6"/>
<line x1="1699.3" y1="348.3" x2="1700.5" y2="394.6" stroke="#3b3f8b" stroke-width="1.6"/>
<line x1="1704.3" y1="348.2" x2="1705.5" y2="394.5" stroke="#3c408b" stroke-width="1.6"/>
<line x1="1709.3" y1="348" x2="1710.5" y2="394.3" stroke="#3c438c" stroke-width="1.6"/>
<line x1="1714.3" y1="347.9" x2="1715.5" y2="394.2" stroke="#3b3c89" stroke-width="1.6"/>
<line x1="1719.3" y1="347.8" x2="1720.5" y2="394" stroke="#3c408c" stroke-width="1.6"/>
<line x1="1724.3" y1="347.6" x2="1725.4" y2="393.9" stroke="#3c408c" stroke-width="1.6"/>
<line x1="1729.3" y1="347.5" x2="1730.4" y2="393.7" stroke="#3a3c89" stroke-width="1.6"/>
<line x1="1734.3" y1="347.3" x2="1735.4" y2="393.6" stroke="#3c418c" stroke-width="1.6"/>
<line x1="1739.2" y1="347.2" x2="1740.4" y2="393.5" stroke="#3b3d8a" stroke-width="1.6"/>
<line x1="1744.2" y1="347" x2="1745.4" y2="393.3" stroke="#3a3c89" stroke-width="1.6"/>
<line x1="1749.2" y1="346.9" x2="1750.4" y2="393.2" stroke="#3c408c" stroke-width="1.6"/>
<line x1="1754.2" y1="346.8" x2="1755.4" y2="393" stroke="#3a3b88" stroke-width="1.6"/>
<line x1="1759.2" y1="346.6" x2="1760.3" y2="392.9" stroke="#3b3c8a" stroke-width="1.6"/>
<line x1="1764.2" y1="346.5" x2="1765.3" y2="392.7" stroke="#3b3f8b" stroke-width="1.6"/>
<line x1="1769.2" y1="346.3" x2="1770.3" y2="392.6" stroke="#3a3888" stroke-width="1.6"/>
<line x1="1774.1" y1="346.2" x2="1775.3" y2="392.5" stroke="#3b3d8a" stroke-width="1.6"/>
<line x1="1779.1" y1="346.1" x2="1780.3" y2="392.3" stroke="#3b3c89" stroke-width="1.6"/>
<line x1="1784.1" y1="345.9" x2="1785.3" y2="392.2" stroke="#393888" stroke-width="1.6"/>
<line x1="1789.1" y1="345.8" x2="1790.3" y2="392" stroke="#3b3e8a" stroke-width="1.6"/>
<line x1="1794.1" y1="345.6" x2="1795.2" y2="391.9" stroke="#3a3988" stroke-width="1.6"/>
<line x1="1799.1" y1="345.5" x2="1800.2" y2="391.7" stroke="#393888" stroke-width="1.6"/>
<line x1="1804.1" y1="345.4" x2="1805.2" y2="391.6" stroke="#3b3d8a" stroke-width="1.6"/>
<line x1="1561" y1="402" x2="1562.2" y2="448.3" stroke="#393787" stroke-width="1.6"/>
<line x1="1566" y1="401.9" x2="1567.2" y2="448.2" stroke="#3a3988" stroke-width="1.6"/>
<line x1="1571" y1="401.7" x2="1572.1" y2="448.1" stroke="#3b3c89" stroke-width="1.6"/>
<line x1="1575.9" y1="401.6" x2="1577.1" y2="447.9" stroke="#393687" stroke-width="1.6"/>
<line x1="1580.9" y1="401.4" x2="1582.1" y2="447.8" stroke="#3a3b89" stroke-width="1.6"/>
<line x1="1585.9" y1="401.3" x2="1587.1" y2="447.6" stroke="#3a3a88" stroke-width="1.6"/>
<line x1="1590.9" y1="401.2" x2="1592.1" y2="447.5" stroke="#393687" stroke-width="1.6"/>
<line x1="1595.9" y1="401" x2="1597.1" y2="447.3" stroke="#3b3c8a" stroke-width="1.6"/>
<line x1="1600.9" y1="400.9" x2="1602.1" y2="447.2" stroke="#393888" stroke-width="1.6"/>
<line x1="1605.9" y1="400.7" x2="1607" y2="447" stroke="#393888" stroke-width="1.6"/>
<line x1="1610.8" y1="400.6" x2="1612" y2="446.9" stroke="#3b3c8a" stroke-width="1.6"/>
<line x1="1615.8" y1="400.4" x2="1617" y2="446.8" stroke="#393787" stroke-width="1.6"/>
<line x1="1620.8" y1="400.3" x2="1622" y2="446.6" stroke="#3a3a88" stroke-width="1.6"/>
<line x1="1625.8" y1="400.2" x2="1627" y2="446.5" stroke="#3b3c89" stroke-width="1.6"/>
<line x1="1630.8" y1="400" x2="1632" y2="446.3" stroke="#393687" stroke-width="1.6"/>
<line x1="1635.8" y1="399.9" x2="1636.9" y2="446.2" stroke="#3a3c89" stroke-width="1.6"/>
<line x1="1640.8" y1="399.7" x2="1641.9" y2="446" stroke="#3a3a88" stroke-width="1.6"/>
<line x1="1645.7" y1="399.6" x2="1646.9" y2="445.9" stroke="#393787" stroke-width="1.6"/>
<line x1="1650.7" y1="399.4" x2="1651.9" y2="445.7" stroke="#3b3c8a" stroke-width="1.6"/>
<line x1="1655.7" y1="399.3" x2="1656.9" y2="445.6" stroke="#393888" stroke-width="1.6"/>
<line x1="1660.7" y1="399.1" x2="1661.9" y2="445.5" stroke="#393888" stroke-width="1.6"/>
<line x1="1665.7" y1="399" x2="1666.9" y2="445.3" stroke="#3b3c8a" stroke-width="1.6"/>
<line x1="1670.7" y1="398.9" x2="1671.8" y2="445.2" stroke="#393687" stroke-width="1.6"/>
<line x1="1675.7" y1="398.7" x2="1676.8" y2="445" stroke="#3a3a88" stroke-width="1.6"/>
<line x1="1680.6" y1="398.6" x2="1681.8" y2="444.9" stroke="#3a3c89" stroke-width="1.6"/>
<line x1="1685.6" y1="398.4" x2="1686.8" y2="444.7" stroke="#393687" stroke-width="1.6"/>
<line x1="1690.6" y1="398.3" x2="1691.8" y2="444.6" stroke="#3b3c89" stroke-width="1.6"/>
<line x1="1695.6" y1="398.1" x2="1696.8" y2="444.4" stroke="#3a3988" stroke-width="1.6"/>
<line x1="1700.6" y1="398" x2="1701.8" y2="444.3" stroke="#393787" stroke-width="1.6"/>
<line x1="1705.6" y1="397.9" x2="1706.7" y2="444.1" stroke="#3b3c8a" stroke-width="1.6"/>
<line x1="1710.6" y1="397.7" x2="1711.7" y2="444" stroke="#393887" stroke-width="1.6"/>
<line x1="1715.6" y1="397.6" x2="1716.7" y2="443.9" stroke="#3a3888" stroke-width="1.6"/>
<line x1="1720.5" y1="397.4" x2="1721.7" y2="443.7" stroke="#3b3c89" stroke-width="1.6"/>
<line x1="1725.5" y1="397.3" x2="1726.7" y2="443.6" stroke="#393687" stroke-width="1.6"/>
<line x1="1730.5" y1="397.1" x2="1731.7" y2="443.4" stroke="#3a3b88" stroke-width="1.6"/>
<line x1="1735.5" y1="397" x2="1736.6" y2="443.3" stroke="#3a3b88" stroke-width="1.6"/>
<line x1="1740.5" y1="396.9" x2="1741.6" y2="443.1" stroke="#393687" stroke-width="1.6"/>
<line x1="1745.5" y1="396.7" x2="1746.6" y2="443" stroke="#3b3c89" stroke-width="1.6"/>
<line x1="1750.5" y1="396.6" x2="1751.6" y2="442.8" stroke="#3a3888" stroke-width="1.6"/>
<line x1="1755.4" y1="396.4" x2="1756.6" y2="442.7" stroke="#393887" stroke-width="1.6"/>
<line x1="1760.4" y1="396.3" x2="1761.6" y2="442.6" stroke="#3b3c8a" stroke-width="1.6"/>
<line x1="1765.4" y1="396.1" x2="1766.6" y2="442.4" stroke="#393787" stroke-width="1.6"/>
<line x1="1770.4" y1="396" x2="1771.5" y2="442.3" stroke="#3a3988" stroke-width="1.6"/>
<line x1="1775.4" y1="395.9" x2="1776.5" y2="442.1" stroke="#3b3c89" stroke-width="1.6"/>
<line x1="1780.4" y1="395.7" x2="1781.5" y2="442" stroke="#393687" stroke-width="1.6"/>
<line x1="1785.4" y1="395.6" x2="1786.5" y2="441.8" stroke="#3a3c89" stroke-width="1.6"/>
<line x1="1790.3" y1="395.4" x2="1791.5" y2="441.7" stroke="#3a3a88" stroke-width="1.6"/>
<line x1="1795.3" y1="395.3" x2="1796.5" y2="441.5" stroke="#393787" stroke-width="1.6"/>
<line x1="1800.3" y1="395.1" x2="1801.5" y2="441.4" stroke="#3b3c8a" stroke-width="1.6"/>
<line x1="1805.3" y1="395" x2="1806.4" y2="441.3" stroke="#393888" stroke-width="1.6"/>
<line x1="1562.3" y1="451.7" x2="1563.4" y2="498.1" stroke="#393687" stroke-width="1.6"/>
<line x1="1567.2" y1="451.6" x2="1568.4" y2="497.9" stroke="#3b3c89" stroke-width="1.6"/>
<line x1="1572.2" y1="451.5" x2="1573.4" y2="497.8" stroke="#393687" stroke-width="1.6"/>
<line x1="1577.2" y1="451.3" x2="1578.4" y2="497.6" stroke="#393888" stroke-width="1.6"/>
<line x1="1582.2" y1="451.2" x2="1583.4" y2="497.5" stroke="#3a3b89" stroke-width="1.6"/>
<line x1="1587.2" y1="451" x2="1588.4" y2="497.3" stroke="#393687" stroke-width="1.6"/>
<line x1="1592.2" y1="450.9" x2="1593.4" y2="497.2" stroke="#3a3a88" stroke-width="1.6"/>
<line x1="1597.2" y1="450.7" x2="1598.3" y2="497.1" stroke="#3a3988" stroke-width="1.6"/>
<line x1="1602.1" y1="450.6" x2="1603.3" y2="496.9" stroke="#393687" stroke-width="1.6"/>
<line x1="1607.1" y1="450.4" x2="1608.3" y2="496.8" stroke="#3a3c89" stroke-width="1.6"/>
<line x1="1612.1" y1="450.3" x2="1613.3" y2="496.6" stroke="#393887" stroke-width="1.6"/>
<line x1="1617.1" y1="450.2" x2="1618.3" y2="496.5" stroke="#393787" stroke-width="1.6"/>
<line x1="1622.1" y1="450" x2="1623.3" y2="496.3" stroke="#3b3c89" stroke-width="1.6"/>
<line x1="1627.1" y1="449.9" x2="1628.2" y2="496.2" stroke="#393687" stroke-width="1.6"/>
<line x1="1632.1" y1="449.7" x2="1633.2" y2="496" stroke="#3a3988" stroke-width="1.6"/>
<line x1="1637" y1="449.6" x2="1638.2" y2="495.9" stroke="#3a3b88" stroke-width="1.6"/>
<line x1="1642" y1="449.4" x2="1643.2" y2="495.7" stroke="#393687" stroke-width="1.6"/>
<line x1="1647" y1="449.3" x2="1648.2" y2="495.6" stroke="#3a3b88" stroke-width="1.6"/>
<line x1="1652" y1="449.1" x2="1653.2" y2="495.4" stroke="#3a3888" stroke-width="1.6"/>
<line x1="1657" y1="449" x2="1658.1" y2="495.3" stroke="#393687" stroke-width="1.6"/>
<line x1="1662" y1="448.9" x2="1663.1" y2="495.2" stroke="#3b3c89" stroke-width="1.6"/>
<line x1="1666.9" y1="448.7" x2="1668.1" y2="495" stroke="#393787" stroke-width="1.6"/>
<line x1="1671.9" y1="448.6" x2="1673.1" y2="494.9" stroke="#393887" stroke-width="1.6"/>
<line x1="1676.9" y1="448.4" x2="1678.1" y2="494.7" stroke="#3a3c89" stroke-width="1.6"/>
<line x1="1681.9" y1="448.3" x2="1683.1" y2="494.6" stroke="#393687" stroke-width="1.6"/>
<line x1="1686.9" y1="448.1" x2="1688" y2="494.4" stroke="#3a3988" stroke-width="1.6"/>
<line x1="1691.9" y1="448" x2="1693" y2="494.3" stroke="#3a3a88" stroke-width="1.6"/>
<line x1="1696.9" y1="447.8" x2="1698" y2="494.1" stroke="#393687" stroke-width="1.6"/>
<line x1="1701.8" y1="447.7" x2="1703" y2="494" stroke="#3a3b89" stroke-width="1.6"/>
<line x1="1706.8" y1="447.5" x2="1708" y2="493.8" stroke="#393888" stroke-width="1.6"/>
<line x1="1711.8" y1="447.4" x2="1713" y2="493.7" stroke="#393687" stroke-width="1.6"/>
<line x1="1716.8" y1="447.3" x2="1718" y2="493.5" stroke="#3b3c89" stroke-width="1.6"/>
<line x1="1721.8" y1="447.1" x2="1722.9" y2="493.4" stroke="#393687" stroke-width="1.6"/>
<line x1="1726.8" y1="447" x2="1727.9" y2="493.3" stroke="#393888" stroke-width="1.6"/>
<line x1="1731.7" y1="446.8" x2="1732.9" y2="493.1" stroke="#3a3c89" stroke-width="1.6"/>
<line x1="1736.7" y1="446.7" x2="1737.9" y2="493" stroke="#393687" stroke-width="1.6"/>
<line x1="1741.7" y1="446.5" x2="1742.9" y2="492.8" stroke="#3a3a88" stroke-width="1.6"/>
<line x1="1746.7" y1="446.4" x2="1747.9" y2="492.7" stroke="#3a3a88" stroke-width="1.6"/>
<line x1="1751.7" y1="446.2" x2="1752.8" y2="492.5" stroke="#393687" stroke-width="1.6"/>
<line x1="1756.7" y1="446.1" x2="1757.8" y2="492.4" stroke="#3a3c89" stroke-width="1.6"/>
<line x1="1761.7" y1="446" x2="1762.8" y2="492.2" stroke="#393888" stroke-width="1.6"/>
<line x1="1766.6" y1="445.8" x2="1767.8" y2="492.1" stroke="#393787" stroke-width="1.6"/>
<line x1="1771.6" y1="445.7" x2="1772.8" y2="491.9" stroke="#3b3c89" stroke-width="1.6"/>
<line x1="1776.6" y1="445.5" x2="1777.8" y2="491.8" stroke="#393687" stroke-width="1.6"/>
<line x1="1781.6" y1="445.4" x2="1782.7" y2="491.6" stroke="#3a3888" stroke-width="1.6"/>
<line x1="1786.6" y1="445.2" x2="1787.7" y2="491.5" stroke="#3a3b89" stroke-width="1.6"/>
<line x1="1791.6" y1="445.1" x2="1792.7" y2="491.3" stroke="#393687" stroke-width="1.6"/>
<line x1="1796.6" y1="444.9" x2="1797.7" y2="491.2" stroke="#3a3a88" stroke-width="1.6"/>
<line x1="1801.5" y1="444.8" x2="1802.7" y2="491.1" stroke="#3a3988" stroke-width="1.6"/>
<line x1="1806.5" y1="444.7" x2="1807.7" y2="490.9" stroke="#393687" stroke-width="1.6"/>
<polygon points="1561.9,103.3 1577.6,102.8 1577.6,108.4 1561.9,108.9" fill="#3d78c4"/>
<polygon points="1591.7,102.5 1602,102.2 1602,107.8 1591.7,108.1" fill="#3d78c4"/>
<polygon points="1616,101.8 1626.3,101.6 1626.3,107.2 1616,107.4" fill="#3d78c4"/>
<polygon points="1636.6,101.3 1801,96.9 1801,102.5 1636.6,106.9" fill="#3d78c4"/>
<line x1="1550.2" y1="102" x2="1795.4" y2="95.5" stroke="#231f20" stroke-width="3.2" stroke-linecap="round"/>
<line x1="1800.7" y1="96" x2="1802.0" y2="150" stroke="#231f20" stroke-width="1.6"/>
<polygon points="1561.5,451.6 1567.9,451.4 1569,498 1562.6,498.4" fill="#3d78c4"/>
<line x1="2167.9" y1="34.5" x2="2167.9" y2="671.8" stroke="#231f20" stroke-width="2.5" stroke-linecap="butt"/>
<line x1="2167.9" y1="670.6" x2="2693.5" y2="670.6" stroke="#231f20" stroke-width="2.5" stroke-linecap="butt"/>
<line x1="2167.9" y1="35.7" x2="2182.4" y2="35.7" stroke="#231f20" stroke-width="2.4" stroke-linecap="butt"/>
<g transform="translate(2050.2 48)"><text font-size="46.5" transform="scale(0.96 1)">34.9<tspan font-size="35.3" dx="2.2" dy="-12.2">°</tspan></text></g>
<line x1="2167.9" y1="134.1" x2="2182.4" y2="134.1" stroke="#231f20" stroke-width="2.4" stroke-linecap="butt"/>
<g transform="translate(2050.2 146.4)"><text font-size="46.5" transform="scale(0.96 1)">34.8<tspan font-size="35.3" dx="2.2" dy="-12.2">°</tspan></text></g>
<line x1="2167.9" y1="232.5" x2="2182.4" y2="232.5" stroke="#231f20" stroke-width="2.4" stroke-linecap="butt"/>
<g transform="translate(2050.2 244.8)"><text font-size="46.5" transform="scale(0.96 1)">34.7<tspan font-size="35.3" dx="2.2" dy="-12.2">°</tspan></text></g>
<line x1="2167.9" y1="330.8" x2="2182.4" y2="330.8" stroke="#231f20" stroke-width="2.4" stroke-linecap="butt"/>
<g transform="translate(2050.2 343.1)"><text font-size="46.5" transform="scale(0.96 1)">34.6<tspan font-size="35.3" dx="2.2" dy="-12.2">°</tspan></text></g>
<line x1="2167.9" y1="429.2" x2="2182.4" y2="429.2" stroke="#231f20" stroke-width="2.4" stroke-linecap="butt"/>
<g transform="translate(2050.2 441.5)"><text font-size="46.5" transform="scale(0.96 1)">34.5<tspan font-size="35.3" dx="2.2" dy="-12.2">°</tspan></text></g>
<line x1="2167.9" y1="527.6" x2="2182.4" y2="527.6" stroke="#231f20" stroke-width="2.4" stroke-linecap="butt"/>
<g transform="translate(2050.2 539.9)"><text font-size="46.5" transform="scale(0.96 1)">34.4<tspan font-size="35.3" dx="2.2" dy="-12.2">°</tspan></text></g>
<line x1="2167.9" y1="626" x2="2182.4" y2="626" stroke="#231f20" stroke-width="2.4" stroke-linecap="butt"/>
<g transform="translate(2050.2 638.3)"><text font-size="46.5" transform="scale(0.96 1)">34.3<tspan font-size="35.3" dx="2.2" dy="-12.2">°</tspan></text></g>
<line x1="2377.8" y1="670.6" x2="2377.8" y2="656.6" stroke="#231f20" stroke-width="2.4" stroke-linecap="butt"/>
<line x1="2588.1" y1="670.6" x2="2588.1" y2="656.6" stroke="#231f20" stroke-width="2.4" stroke-linecap="butt"/>
<g transform="translate(2093 96)"><text font-size="44" transform="scale(1.09 1)">N</text></g>
<g transform="translate(2132.8 723)"><text font-size="46.5" transform="scale(0.96 1)">97<tspan font-size="35.3" dx="2.2" dy="-12.2">°</tspan><tspan dx="4" dy="12.2">E</tspan></text></g>
<g transform="translate(2356.4 723)"><text font-size="46.5" transform="scale(0.96 1)">98<tspan font-size="35.3" dx="2.2" dy="-12.2">°</tspan></text></g>
<g transform="translate(2566.2 723)"><text font-size="46.5" transform="scale(0.96 1)">99<tspan font-size="35.3" dx="2.2" dy="-12.2">°</tspan></text></g>
<path d="M2232.9 117.1 L2238.5 117 L2244.8 113 L2636 544.9 Q2640 549.3 2639.6 555.3 L2636.2 605.1 Q2634.9 625.1 2621.5 610.3 L2230.1 178.8 Q2228.4 176.9 2228.6 174.4 Z" fill="#3d78c4"/>
<polygon points="2239.4,116.2 2634.9,552.7 2629.8,612.3 2233.9,175.8" fill="#231f20" stroke="#231f20" stroke-width="0.8" stroke-linejoin="miter"/>
<line x1="2241" y1="122.1" x2="2245" y2="126.5" stroke="#5f5fb1" stroke-width="1.7"/>
<line x1="2248.9" y1="130.8" x2="2252.9" y2="135.2" stroke="#5f62b3" stroke-width="1.7"/>
<line x1="2256.8" y1="139.5" x2="2260.8" y2="144" stroke="#5f5db0" stroke-width="1.7"/>
<line x1="2264.7" y1="148.3" x2="2268.8" y2="152.7" stroke="#6064b3" stroke-width="1.7"/>
<line x1="2272.6" y1="157" x2="2276.7" y2="161.4" stroke="#647ec3" stroke-width="1.7"/>
<line x1="2280.5" y1="165.7" x2="2284.6" y2="170.2" stroke="#648ccc" stroke-width="1.7"/>
<line x1="2288.5" y1="174.4" x2="2292.5" y2="178.9" stroke="#6596d2" stroke-width="1.7"/>
<line x1="2296.4" y1="183.2" x2="2300.4" y2="187.6" stroke="#6593d0" stroke-width="1.7"/>
<line x1="2304.3" y1="191.9" x2="2308.3" y2="196.4" stroke="#6595d2" stroke-width="1.7"/>
<line x1="2312.2" y1="200.6" x2="2316.2" y2="205.1" stroke="#669ed7" stroke-width="1.7"/>
<line x1="2320.1" y1="209.4" x2="2324.1" y2="213.8" stroke="#6599d3" stroke-width="1.7"/>
<line x1="2328" y1="218.1" x2="2332" y2="222.5" stroke="#66a1d8" stroke-width="1.7"/>
<line x1="2335.9" y1="226.8" x2="2340" y2="231.3" stroke="#67a6da" stroke-width="1.7"/>
<line x1="2343.8" y1="235.6" x2="2347.9" y2="240" stroke="#66a1d8" stroke-width="1.7"/>
<line x1="2351.7" y1="244.3" x2="2355.8" y2="248.7" stroke="#67b2d8" stroke-width="1.7"/>
<line x1="2359.7" y1="253" x2="2363.7" y2="257.5" stroke="#67bdcc" stroke-width="1.7"/>
<line x1="2367.6" y1="261.7" x2="2371.6" y2="266.2" stroke="#69c8b8" stroke-width="1.7"/>
<line x1="2375.5" y1="270.5" x2="2379.5" y2="274.9" stroke="#72ce9d" stroke-width="1.7"/>
<line x1="2383.4" y1="279.2" x2="2387.4" y2="283.7" stroke="#70ce9f" stroke-width="1.7"/>
<line x1="2391.3" y1="287.9" x2="2395.3" y2="292.4" stroke="#79d090" stroke-width="1.7"/>
<line x1="2399.2" y1="296.7" x2="2403.2" y2="301.1" stroke="#8bd279" stroke-width="1.7"/>
<line x1="2407.1" y1="305.4" x2="2411.1" y2="309.8" stroke="#7ed18a" stroke-width="1.7"/>
<line x1="2415" y1="314.1" x2="2419.1" y2="318.6" stroke="#7cd18c" stroke-width="1.7"/>
<line x1="2422.9" y1="322.9" x2="2427" y2="327.3" stroke="#74cf99" stroke-width="1.7"/>
<line x1="2430.8" y1="331.6" x2="2434.9" y2="336" stroke="#6ac8b3" stroke-width="1.7"/>
<line x1="2438.8" y1="340.3" x2="2442.8" y2="344.8" stroke="#69c8b8" stroke-width="1.7"/>
<line x1="2446.7" y1="349" x2="2450.7" y2="353.5" stroke="#67b9d3" stroke-width="1.7"/>
<line x1="2454.6" y1="357.8" x2="2458.6" y2="362.2" stroke="#67abdd" stroke-width="1.7"/>
<line x1="2462.5" y1="366.5" x2="2466.5" y2="371" stroke="#67aadd" stroke-width="1.7"/>
<line x1="2470.4" y1="375.2" x2="2474.4" y2="379.7" stroke="#669bd4" stroke-width="1.7"/>
<line x1="2478.3" y1="384" x2="2482.3" y2="388.4" stroke="#6595d2" stroke-width="1.7"/>
<line x1="2486.2" y1="392.7" x2="2490.3" y2="397.1" stroke="#6592d0" stroke-width="1.7"/>
<line x1="2494.1" y1="401.4" x2="2498.2" y2="405.9" stroke="#6484c7" stroke-width="1.7"/>
<line x1="2502" y1="410.2" x2="2506.1" y2="414.6" stroke="#6483c6" stroke-width="1.7"/>
<line x1="2510" y1="418.9" x2="2514" y2="423.3" stroke="#647bc1" stroke-width="1.7"/>
<line x1="2517.9" y1="427.6" x2="2521.9" y2="432.1" stroke="#6371bb" stroke-width="1.7"/>
<line x1="2525.8" y1="436.3" x2="2529.8" y2="440.8" stroke="#6370ba" stroke-width="1.7"/>
<line x1="2533.7" y1="445.1" x2="2537.7" y2="449.5" stroke="#6066b4" stroke-width="1.7"/>
<line x1="2541.6" y1="453.8" x2="2545.6" y2="458.3" stroke="#6064b3" stroke-width="1.7"/>
<line x1="2549.5" y1="462.5" x2="2553.5" y2="467" stroke="#6169b6" stroke-width="1.7"/>
<line x1="2557.4" y1="471.3" x2="2561.4" y2="475.7" stroke="#5f62b3" stroke-width="1.7"/>
<line x1="2565.3" y1="480" x2="2569.4" y2="484.4" stroke="#6064b3" stroke-width="1.7"/>
<line x1="2573.2" y1="488.7" x2="2577.3" y2="493.2" stroke="#6065b4" stroke-width="1.7"/>
<line x1="2581.1" y1="497.5" x2="2585.2" y2="501.9" stroke="#5f5fb1" stroke-width="1.7"/>
<line x1="2589.1" y1="506.2" x2="2593.1" y2="510.6" stroke="#5f64b3" stroke-width="1.7"/>
<line x1="2597" y1="514.9" x2="2601" y2="519.4" stroke="#5f61b3" stroke-width="1.7"/>
<line x1="2604.9" y1="523.6" x2="2608.9" y2="528.1" stroke="#5e5db0" stroke-width="1.7"/>
<line x1="2612.8" y1="532.4" x2="2616.8" y2="536.8" stroke="#5f62b3" stroke-width="1.7"/>
<line x1="2620.7" y1="541.1" x2="2624.7" y2="545.6" stroke="#5e5db0" stroke-width="1.7"/>
<line x1="2628.6" y1="549.8" x2="2632.6" y2="554.3" stroke="#5e5caf" stroke-width="1.7"/>
<line x1="2240.3" y1="129.5" x2="2244.3" y2="134" stroke="#5f62b3" stroke-width="1.7"/>
<line x1="2248.2" y1="138.2" x2="2252.3" y2="142.7" stroke="#5f5db0" stroke-width="1.7"/>
<line x1="2256.1" y1="147" x2="2260.2" y2="151.4" stroke="#5f61b3" stroke-width="1.7"/>
<line x1="2264" y1="155.7" x2="2268.1" y2="160.2" stroke="#626fb9" stroke-width="1.7"/>
<line x1="2272" y1="164.4" x2="2276" y2="168.9" stroke="#647ac1" stroke-width="1.7"/>
<line x1="2279.9" y1="173.2" x2="2283.9" y2="177.6" stroke="#6593d0" stroke-width="1.7"/>
<line x1="2287.8" y1="181.9" x2="2291.8" y2="186.3" stroke="#66a3d9" stroke-width="1.7"/>
<line x1="2295.7" y1="190.6" x2="2299.7" y2="195.1" stroke="#67b0d9" stroke-width="1.7"/>
<line x1="2303.6" y1="199.4" x2="2307.6" y2="203.8" stroke="#67c5c1" stroke-width="1.7"/>
<line x1="2311.5" y1="208.1" x2="2315.5" y2="212.5" stroke="#67c3c2" stroke-width="1.7"/>
<line x1="2319.4" y1="216.8" x2="2323.5" y2="221.3" stroke="#69c7ba" stroke-width="1.7"/>
<line x1="2327.3" y1="225.5" x2="2331.4" y2="230" stroke="#6dcda5" stroke-width="1.7"/>
<line x1="2335.2" y1="234.3" x2="2339.3" y2="238.7" stroke="#6ccbab" stroke-width="1.7"/>
<line x1="2343.2" y1="243" x2="2347.2" y2="247.5" stroke="#75cf97" stroke-width="1.7"/>
<line x1="2351.1" y1="251.7" x2="2355.1" y2="256.2" stroke="#7fd288" stroke-width="1.7"/>
<line x1="2359" y1="260.5" x2="2363" y2="264.9" stroke="#7ed189" stroke-width="1.7"/>
<line x1="2366.9" y1="269.2" x2="2370.9" y2="273.6" stroke="#98d26c" stroke-width="1.7"/>
<line x1="2374.8" y1="277.9" x2="2378.8" y2="282.4" stroke="#a0d064" stroke-width="1.7"/>
<line x1="2382.7" y1="286.7" x2="2386.7" y2="291.1" stroke="#e9b857" stroke-width="1.7"/>
<line x1="2390.6" y1="295.4" x2="2394.7" y2="299.8" stroke="#f3c453" stroke-width="1.7"/>
<line x1="2398.5" y1="304.1" x2="2402.6" y2="308.6" stroke="#f2c653" stroke-width="1.7"/>
<line x1="2406.5" y1="312.8" x2="2410.5" y2="317.3" stroke="#f2c852" stroke-width="1.7"/>
<line x1="2414.4" y1="321.6" x2="2418.4" y2="326" stroke="#f3c354" stroke-width="1.7"/>
<line x1="2422.3" y1="330.3" x2="2426.3" y2="334.8" stroke="#e7b857" stroke-width="1.7"/>
<line x1="2430.2" y1="339" x2="2434.2" y2="343.5" stroke="#c0c259" stroke-width="1.7"/>
<line x1="2438.1" y1="347.8" x2="2442.1" y2="352.2" stroke="#9ed166" stroke-width="1.7"/>
<line x1="2446" y1="356.5" x2="2450" y2="360.9" stroke="#87d27d" stroke-width="1.7"/>
<line x1="2453.9" y1="365.2" x2="2457.9" y2="369.7" stroke="#89d27a" stroke-width="1.7"/>
<line x1="2461.8" y1="374" x2="2465.9" y2="378.4" stroke="#79d091" stroke-width="1.7"/>
<line x1="2469.7" y1="382.7" x2="2473.8" y2="387.1" stroke="#6ecda4" stroke-width="1.7"/>
<line x1="2477.7" y1="391.4" x2="2481.7" y2="395.9" stroke="#6ccbac" stroke-width="1.7"/>
<line x1="2485.6" y1="400.1" x2="2489.6" y2="404.6" stroke="#67bbd0" stroke-width="1.7"/>
<line x1="2493.5" y1="408.9" x2="2497.5" y2="413.3" stroke="#67b1d9" stroke-width="1.7"/>
<line x1="2501.4" y1="417.6" x2="2505.4" y2="422.1" stroke="#67a6da" stroke-width="1.7"/>
<line x1="2509.3" y1="426.3" x2="2513.3" y2="430.8" stroke="#6591cf" stroke-width="1.7"/>
<line x1="2517.2" y1="435.1" x2="2521.2" y2="439.5" stroke="#648ecd" stroke-width="1.7"/>
<line x1="2525.1" y1="443.8" x2="2529.2" y2="448.2" stroke="#6484c7" stroke-width="1.7"/>
<line x1="2533" y1="452.5" x2="2537.1" y2="457" stroke="#6378bf" stroke-width="1.7"/>
<line x1="2540.9" y1="461.3" x2="2545" y2="465.7" stroke="#6377be" stroke-width="1.7"/>
<line x1="2548.9" y1="470" x2="2552.9" y2="474.4" stroke="#626cb8" stroke-width="1.7"/>
<line x1="2556.8" y1="478.7" x2="2560.8" y2="483.2" stroke="#6167b5" stroke-width="1.7"/>
<line x1="2564.7" y1="487.4" x2="2568.7" y2="491.9" stroke="#626bb7" stroke-width="1.7"/>
<line x1="2572.6" y1="496.2" x2="2576.6" y2="500.6" stroke="#5f64b3" stroke-width="1.7"/>
<line x1="2580.5" y1="504.9" x2="2584.5" y2="509.4" stroke="#6065b4" stroke-width="1.7"/>
<line x1="2588.4" y1="513.6" x2="2592.4" y2="518.1" stroke="#6066b5" stroke-width="1.7"/>
<line x1="2596.3" y1="522.4" x2="2600.4" y2="526.8" stroke="#5f5fb1" stroke-width="1.7"/>
<line x1="2604.2" y1="531.1" x2="2608.3" y2="535.5" stroke="#5f64b3" stroke-width="1.7"/>
<line x1="2612.2" y1="539.8" x2="2616.2" y2="544.3" stroke="#5f60b2" stroke-width="1.7"/>
<line x1="2620.1" y1="548.6" x2="2624.1" y2="553" stroke="#5e5caf" stroke-width="1.7"/>
<line x1="2628" y1="557.3" x2="2632" y2="561.7" stroke="#5f61b2" stroke-width="1.7"/>
<line x1="2239.6" y1="137" x2="2243.7" y2="141.4" stroke="#5f5fb2" stroke-width="1.7"/>
<line x1="2247.5" y1="145.7" x2="2251.6" y2="150.1" stroke="#5f61b2" stroke-width="1.7"/>
<line x1="2255.4" y1="154.4" x2="2259.5" y2="158.9" stroke="#6169b6" stroke-width="1.7"/>
<line x1="2263.4" y1="163.2" x2="2267.4" y2="167.6" stroke="#6064b3" stroke-width="1.7"/>
<line x1="2271.3" y1="171.9" x2="2275.3" y2="176.3" stroke="#6487c8" stroke-width="1.7"/>
<line x1="2279.2" y1="180.6" x2="2283.2" y2="185.1" stroke="#66a3d8" stroke-width="1.7"/>
<line x1="2287.1" y1="189.3" x2="2291.1" y2="193.8" stroke="#67a7da" stroke-width="1.7"/>
<line x1="2295" y1="198.1" x2="2299" y2="202.5" stroke="#67b6d6" stroke-width="1.7"/>
<line x1="2302.9" y1="206.8" x2="2307" y2="211.3" stroke="#67bdcd" stroke-width="1.7"/>
<line x1="2310.8" y1="215.5" x2="2314.9" y2="220" stroke="#67bccf" stroke-width="1.7"/>
<line x1="2318.7" y1="224.3" x2="2322.8" y2="228.7" stroke="#67c5c1" stroke-width="1.7"/>
<line x1="2326.7" y1="233" x2="2330.7" y2="237.4" stroke="#67c3c4" stroke-width="1.7"/>
<line x1="2334.6" y1="241.7" x2="2338.6" y2="246.2" stroke="#67c5c0" stroke-width="1.7"/>
<line x1="2342.5" y1="250.5" x2="2346.5" y2="254.9" stroke="#6bcaaf" stroke-width="1.7"/>
<line x1="2350.4" y1="259.2" x2="2354.4" y2="263.6" stroke="#69c8b8" stroke-width="1.7"/>
<line x1="2358.3" y1="267.9" x2="2362.3" y2="272.4" stroke="#6ccca9" stroke-width="1.7"/>
<line x1="2366.2" y1="276.6" x2="2370.3" y2="281.1" stroke="#70ce9f" stroke-width="1.7"/>
<line x1="2374.1" y1="285.4" x2="2378.2" y2="289.8" stroke="#a4ce63" stroke-width="1.7"/>
<line x1="2382" y1="294.1" x2="2386.1" y2="298.6" stroke="#f1b858" stroke-width="1.7"/>
<line x1="2390" y1="302.8" x2="2394" y2="307.3" stroke="#f3bd56" stroke-width="1.7"/>
<line x1="2397.9" y1="311.6" x2="2401.9" y2="316" stroke="#f3c354" stroke-width="1.7"/>
<line x1="2405.8" y1="320.3" x2="2409.8" y2="324.7" stroke="#f1d050" stroke-width="1.7"/>
<line x1="2413.7" y1="329" x2="2417.7" y2="333.5" stroke="#f4ba57" stroke-width="1.7"/>
<line x1="2421.6" y1="337.8" x2="2425.6" y2="342.2" stroke="#edb857" stroke-width="1.7"/>
<line x1="2429.5" y1="346.5" x2="2433.6" y2="350.9" stroke="#bbc35a" stroke-width="1.7"/>
<line x1="2437.4" y1="355.2" x2="2441.5" y2="359.7" stroke="#89d27a" stroke-width="1.7"/>
<line x1="2445.3" y1="363.9" x2="2449.4" y2="368.4" stroke="#8ed275" stroke-width="1.7"/>
<line x1="2453.3" y1="372.7" x2="2457.3" y2="377.1" stroke="#89d27a" stroke-width="1.7"/>
<line x1="2461.2" y1="381.4" x2="2465.2" y2="385.9" stroke="#7bd18e" stroke-width="1.7"/>
<line x1="2469.1" y1="390.1" x2="2473.1" y2="394.6" stroke="#6fcda1" stroke-width="1.7"/>
<line x1="2477" y1="398.9" x2="2481" y2="403.3" stroke="#67b8d4" stroke-width="1.7"/>
<line x1="2484.9" y1="407.6" x2="2488.9" y2="412" stroke="#67a7da" stroke-width="1.7"/>
<line x1="2492.8" y1="416.3" x2="2496.9" y2="420.8" stroke="#67a5da" stroke-width="1.7"/>
<line x1="2500.7" y1="425.1" x2="2504.8" y2="429.5" stroke="#6595d2" stroke-width="1.7"/>
<line x1="2508.6" y1="433.8" x2="2512.7" y2="438.2" stroke="#658fce" stroke-width="1.7"/>
<line x1="2516.6" y1="442.5" x2="2520.6" y2="447" stroke="#648bcb" stroke-width="1.7"/>
<line x1="2524.5" y1="451.2" x2="2528.5" y2="455.7" stroke="#647cc2" stroke-width="1.7"/>
<line x1="2532.4" y1="460" x2="2536.4" y2="464.4" stroke="#647ac1" stroke-width="1.7"/>
<line x1="2540.3" y1="468.7" x2="2544.3" y2="473.2" stroke="#6374bd" stroke-width="1.7"/>
<line x1="2548.2" y1="477.4" x2="2552.2" y2="481.9" stroke="#6169b7" stroke-width="1.7"/>
<line x1="2556.1" y1="486.2" x2="2560.2" y2="490.6" stroke="#626cb8" stroke-width="1.7"/>
<line x1="2564" y1="494.9" x2="2568.1" y2="499.3" stroke="#6067b5" stroke-width="1.7"/>
<line x1="2571.9" y1="503.6" x2="2576" y2="508.1" stroke="#6064b4" stroke-width="1.7"/>
<line x1="2579.9" y1="512.4" x2="2583.9" y2="516.8" stroke="#6169b6" stroke-width="1.7"/>
<line x1="2587.8" y1="521.1" x2="2591.8" y2="525.5" stroke="#5f61b2" stroke-width="1.7"/>
<line x1="2595.7" y1="529.8" x2="2599.7" y2="534.3" stroke="#5f63b3" stroke-width="1.7"/>
<line x1="2603.6" y1="538.5" x2="2607.6" y2="543" stroke="#6064b3" stroke-width="1.7"/>
<line x1="2611.5" y1="547.3" x2="2615.5" y2="551.7" stroke="#5e5db0" stroke-width="1.7"/>
<line x1="2619.4" y1="556" x2="2623.5" y2="560.5" stroke="#5f61b2" stroke-width="1.7"/>
<line x1="2627.3" y1="564.7" x2="2631.4" y2="569.2" stroke="#5f5eb1" stroke-width="1.7"/>
<line x1="2238.9" y1="144.4" x2="2243" y2="148.9" stroke="#5e5db0" stroke-width="1.7"/>
<line x1="2246.8" y1="153.1" x2="2250.9" y2="157.6" stroke="#6064b3" stroke-width="1.7"/>
<line x1="2254.8" y1="161.9" x2="2258.8" y2="166.3" stroke="#5f61b2" stroke-width="1.7"/>
<line x1="2262.7" y1="170.6" x2="2266.7" y2="175.1" stroke="#5f61b2" stroke-width="1.7"/>
<line x1="2270.6" y1="179.3" x2="2274.6" y2="183.8" stroke="#6168b5" stroke-width="1.7"/>
<line x1="2278.5" y1="188.1" x2="2282.5" y2="192.5" stroke="#5f62b3" stroke-width="1.7"/>
<line x1="2286.4" y1="196.8" x2="2290.4" y2="201.2" stroke="#6066b5" stroke-width="1.7"/>
<line x1="2294.3" y1="205.5" x2="2298.4" y2="210" stroke="#6169b7" stroke-width="1.7"/>
<line x1="2302.2" y1="214.3" x2="2306.3" y2="218.7" stroke="#648acb" stroke-width="1.7"/>
<line x1="2310.2" y1="223" x2="2314.2" y2="227.4" stroke="#6593d1" stroke-width="1.7"/>
<line x1="2318.1" y1="231.7" x2="2322.1" y2="236.2" stroke="#6595d2" stroke-width="1.7"/>
<line x1="2326" y1="240.4" x2="2330" y2="244.9" stroke="#6594d2" stroke-width="1.7"/>
<line x1="2333.9" y1="249.2" x2="2337.9" y2="253.6" stroke="#6598d3" stroke-width="1.7"/>
<line x1="2341.8" y1="257.9" x2="2345.8" y2="262.4" stroke="#6487c8" stroke-width="1.7"/>
<line x1="2349.7" y1="266.6" x2="2353.8" y2="271.1" stroke="#6481c5" stroke-width="1.7"/>
<line x1="2357.6" y1="275.4" x2="2361.7" y2="279.8" stroke="#6486c8" stroke-width="1.7"/>
<line x1="2365.6" y1="284.1" x2="2369.6" y2="288.5" stroke="#647fc4" stroke-width="1.7"/>
<line x1="2373.5" y1="292.8" x2="2377.5" y2="297.3" stroke="#6484c7" stroke-width="1.7"/>
<line x1="2381.4" y1="301.6" x2="2385.4" y2="306" stroke="#67becb" stroke-width="1.7"/>
<line x1="2389.3" y1="310.3" x2="2393.3" y2="314.7" stroke="#e7b856" stroke-width="1.7"/>
<line x1="2397.2" y1="319" x2="2401.2" y2="323.5" stroke="#f2c753" stroke-width="1.7"/>
<line x1="2405.1" y1="327.7" x2="2409.1" y2="332.2" stroke="#f1b858" stroke-width="1.7"/>
<line x1="2413" y1="336.5" x2="2417.1" y2="340.9" stroke="#a2cf64" stroke-width="1.7"/>
<line x1="2420.9" y1="345.2" x2="2425" y2="349.7" stroke="#81d284" stroke-width="1.7"/>
<line x1="2428.9" y1="353.9" x2="2432.9" y2="358.4" stroke="#69c8b6" stroke-width="1.7"/>
<line x1="2436.8" y1="362.7" x2="2440.8" y2="367.1" stroke="#67c1c8" stroke-width="1.7"/>
<line x1="2444.7" y1="371.4" x2="2448.7" y2="375.8" stroke="#67bbd1" stroke-width="1.7"/>
<line x1="2452.6" y1="380.1" x2="2456.6" y2="384.6" stroke="#67a9dc" stroke-width="1.7"/>
<line x1="2460.5" y1="388.9" x2="2464.5" y2="393.3" stroke="#66a3d8" stroke-width="1.7"/>
<line x1="2468.4" y1="397.6" x2="2472.5" y2="402" stroke="#6596d2" stroke-width="1.7"/>
<line x1="2476.3" y1="406.3" x2="2480.4" y2="410.8" stroke="#6487c9" stroke-width="1.7"/>
<line x1="2484.3" y1="415" x2="2488.3" y2="419.5" stroke="#6489ca" stroke-width="1.7"/>
<line x1="2492.2" y1="423.8" x2="2496.2" y2="428.2" stroke="#647fc4" stroke-width="1.7"/>
<line x1="2500.1" y1="432.5" x2="2504.1" y2="437" stroke="#6479c0" stroke-width="1.7"/>
<line x1="2508" y1="441.2" x2="2512" y2="445.7" stroke="#6479c0" stroke-width="1.7"/>
<line x1="2515.9" y1="450" x2="2519.9" y2="454.4" stroke="#626fba" stroke-width="1.7"/>
<line x1="2523.8" y1="458.7" x2="2527.9" y2="463.1" stroke="#626db8" stroke-width="1.7"/>
<line x1="2531.7" y1="467.4" x2="2535.8" y2="471.9" stroke="#6169b7" stroke-width="1.7"/>
<line x1="2539.6" y1="476.2" x2="2543.7" y2="480.6" stroke="#5f63b3" stroke-width="1.7"/>
<line x1="2547.6" y1="484.9" x2="2551.6" y2="489.3" stroke="#6168b5" stroke-width="1.7"/>
<line x1="2555.5" y1="493.6" x2="2559.5" y2="498.1" stroke="#6066b4" stroke-width="1.7"/>
<line x1="2563.4" y1="502.3" x2="2567.4" y2="506.8" stroke="#5f61b2" stroke-width="1.7"/>
<line x1="2571.3" y1="511.1" x2="2575.3" y2="515.5" stroke="#6067b5" stroke-width="1.7"/>
<line x1="2579.2" y1="519.8" x2="2583.2" y2="524.3" stroke="#5f61b3" stroke-width="1.7"/>
<line x1="2587.1" y1="528.5" x2="2591.2" y2="533" stroke="#5f60b2" stroke-width="1.7"/>
<line x1="2595" y1="537.3" x2="2599.1" y2="541.7" stroke="#6064b4" stroke-width="1.7"/>
<line x1="2603" y1="546" x2="2607" y2="550.4" stroke="#5f5eb0" stroke-width="1.7"/>
<line x1="2610.9" y1="554.7" x2="2614.9" y2="559.2" stroke="#5f60b2" stroke-width="1.7"/>
<line x1="2618.8" y1="563.5" x2="2622.8" y2="567.9" stroke="#5f61b3" stroke-width="1.7"/>
<line x1="2626.7" y1="572.2" x2="2630.7" y2="576.6" stroke="#5e5aaf" stroke-width="1.7"/>
<line x1="2238.2" y1="151.9" x2="2242.3" y2="156.3" stroke="#5f61b3" stroke-width="1.7"/>
<line x1="2246.2" y1="160.6" x2="2250.2" y2="165" stroke="#5f61b3" stroke-width="1.7"/>
<line x1="2254.1" y1="169.3" x2="2258.1" y2="173.8" stroke="#5f5db0" stroke-width="1.7"/>
<line x1="2262" y1="178.1" x2="2266" y2="182.5" stroke="#6064b3" stroke-width="1.7"/>
<line x1="2269.9" y1="186.8" x2="2273.9" y2="191.2" stroke="#5f60b2" stroke-width="1.7"/>
<line x1="2277.8" y1="195.5" x2="2281.9" y2="200" stroke="#5f60b2" stroke-width="1.7"/>
<line x1="2285.7" y1="204.2" x2="2289.8" y2="208.7" stroke="#6066b4" stroke-width="1.7"/>
<line x1="2293.7" y1="213" x2="2297.7" y2="217.4" stroke="#5f60b2" stroke-width="1.7"/>
<line x1="2301.6" y1="221.7" x2="2305.6" y2="226.2" stroke="#5f64b3" stroke-width="1.7"/>
<line x1="2309.5" y1="230.4" x2="2313.5" y2="234.9" stroke="#6066b4" stroke-width="1.7"/>
<line x1="2317.4" y1="239.2" x2="2321.4" y2="243.6" stroke="#5f60b2" stroke-width="1.7"/>
<line x1="2325.3" y1="247.9" x2="2329.3" y2="252.3" stroke="#6067b5" stroke-width="1.7"/>
<line x1="2333.2" y1="256.6" x2="2337.3" y2="261.1" stroke="#6065b4" stroke-width="1.7"/>
<line x1="2341.1" y1="265.4" x2="2345.2" y2="269.8" stroke="#5f62b3" stroke-width="1.7"/>
<line x1="2349.1" y1="274.1" x2="2353.1" y2="278.5" stroke="#6169b6" stroke-width="1.7"/>
<line x1="2357" y1="282.8" x2="2361" y2="287.3" stroke="#6064b4" stroke-width="1.7"/>
<line x1="2364.9" y1="291.5" x2="2368.9" y2="296" stroke="#6065b4" stroke-width="1.7"/>
<line x1="2372.8" y1="300.3" x2="2376.8" y2="304.7" stroke="#626ab7" stroke-width="1.7"/>
<line x1="2380.7" y1="309" x2="2384.7" y2="313.5" stroke="#658ecd" stroke-width="1.7"/>
<line x1="2388.6" y1="317.7" x2="2392.7" y2="322.2" stroke="#67b9d2" stroke-width="1.7"/>
<line x1="2396.5" y1="326.5" x2="2400.6" y2="330.9" stroke="#6ecda3" stroke-width="1.7"/>
<line x1="2404.5" y1="335.2" x2="2408.5" y2="339.6" stroke="#6cccaa" stroke-width="1.7"/>
<line x1="2412.4" y1="343.9" x2="2416.4" y2="348.4" stroke="#67c3c4" stroke-width="1.7"/>
<line x1="2420.3" y1="352.7" x2="2424.3" y2="357.1" stroke="#67acdc" stroke-width="1.7"/>
<line x1="2428.2" y1="361.4" x2="2432.2" y2="365.8" stroke="#648dcd" stroke-width="1.7"/>
<line x1="2436.1" y1="370.1" x2="2440.1" y2="374.6" stroke="#6483c6" stroke-width="1.7"/>
<line x1="2444" y1="378.8" x2="2448.1" y2="383.3" stroke="#6377be" stroke-width="1.7"/>
<line x1="2451.9" y1="387.6" x2="2456" y2="392" stroke="#6373bc" stroke-width="1.7"/>
<line x1="2459.9" y1="396.3" x2="2463.9" y2="400.8" stroke="#6372bb" stroke-width="1.7"/>
<line x1="2467.8" y1="405" x2="2471.8" y2="409.5" stroke="#6169b7" stroke-width="1.7"/>
<line x1="2475.7" y1="413.8" x2="2479.7" y2="418.2" stroke="#626bb8" stroke-width="1.7"/>
<line x1="2483.6" y1="422.5" x2="2487.6" y2="426.9" stroke="#6169b6" stroke-width="1.7"/>
<line x1="2491.5" y1="431.2" x2="2495.5" y2="435.7" stroke="#5f61b3" stroke-width="1.7"/>
<line x1="2499.4" y1="440" x2="2503.5" y2="444.4" stroke="#6167b5" stroke-width="1.7"/>
<line x1="2507.3" y1="448.7" x2="2511.4" y2="453.1" stroke="#5f63b3" stroke-width="1.7"/>
<line x1="2515.3" y1="457.4" x2="2519.3" y2="461.9" stroke="#5f61b3" stroke-width="1.7"/>
<line x1="2523.2" y1="466.1" x2="2527.2" y2="470.6" stroke="#6066b5" stroke-width="1.7"/>
<line x1="2531.1" y1="474.9" x2="2535.1" y2="479.3" stroke="#5f60b2" stroke-width="1.7"/>
<line x1="2539" y1="483.6" x2="2543" y2="488.1" stroke="#5f62b3" stroke-width="1.7"/>
<line x1="2546.9" y1="492.3" x2="2550.9" y2="496.8" stroke="#6064b4" stroke-width="1.7"/>
<line x1="2554.8" y1="501.1" x2="2558.9" y2="505.5" stroke="#5f5eb1" stroke-width="1.7"/>
<line x1="2562.7" y1="509.8" x2="2566.8" y2="514.2" stroke="#5f63b3" stroke-width="1.7"/>
<line x1="2570.7" y1="518.5" x2="2574.7" y2="523" stroke="#5f62b3" stroke-width="1.7"/>
<line x1="2578.6" y1="527.3" x2="2582.6" y2="531.7" stroke="#5f5db0" stroke-width="1.7"/>
<line x1="2586.5" y1="536" x2="2590.5" y2="540.4" stroke="#5f64b3" stroke-width="1.7"/>
<line x1="2594.4" y1="544.7" x2="2598.4" y2="549.2" stroke="#5f5fb1" stroke-width="1.7"/>
<line x1="2602.3" y1="553.4" x2="2606.3" y2="557.9" stroke="#5f5eb0" stroke-width="1.7"/>
<line x1="2610.2" y1="562.2" x2="2614.3" y2="566.6" stroke="#5f62b3" stroke-width="1.7"/>
<line x1="2618.1" y1="570.9" x2="2622.2" y2="575.4" stroke="#5e5baf" stroke-width="1.7"/>
<line x1="2626.1" y1="579.6" x2="2630.1" y2="584.1" stroke="#5f5fb1" stroke-width="1.7"/>
<line x1="2237.6" y1="159.3" x2="2241.6" y2="163.8" stroke="#5f61b2" stroke-width="1.7"/>
<line x1="2245.5" y1="168" x2="2249.5" y2="172.5" stroke="#5e5baf" stroke-width="1.7"/>
<line x1="2253.4" y1="176.8" x2="2257.4" y2="181.2" stroke="#5f60b2" stroke-width="1.7"/>
<line x1="2261.3" y1="185.5" x2="2265.3" y2="190" stroke="#5f60b2" stroke-width="1.7"/>
<line x1="2269.2" y1="194.2" x2="2273.3" y2="198.7" stroke="#5e5cb0" stroke-width="1.7"/>
<line x1="2277.1" y1="203" x2="2281.2" y2="207.4" stroke="#5f63b3" stroke-width="1.7"/>
<line x1="2285.1" y1="211.7" x2="2289.1" y2="216.1" stroke="#5f5fb1" stroke-width="1.7"/>
<line x1="2293" y1="220.4" x2="2297" y2="224.9" stroke="#5f5fb1" stroke-width="1.7"/>
<line x1="2300.9" y1="229.2" x2="2304.9" y2="233.6" stroke="#6064b4" stroke-width="1.7"/>
<line x1="2308.8" y1="237.9" x2="2312.8" y2="242.3" stroke="#5f5fb1" stroke-width="1.7"/>
<line x1="2316.7" y1="246.6" x2="2320.7" y2="251.1" stroke="#5f62b3" stroke-width="1.7"/>
<line x1="2324.6" y1="255.3" x2="2328.7" y2="259.8" stroke="#6064b4" stroke-width="1.7"/>
<line x1="2332.5" y1="264.1" x2="2336.6" y2="268.5" stroke="#5f5fb1" stroke-width="1.7"/>
<line x1="2340.5" y1="272.8" x2="2344.5" y2="277.3" stroke="#6065b4" stroke-width="1.7"/>
<line x1="2348.4" y1="281.5" x2="2352.4" y2="286" stroke="#6064b3" stroke-width="1.7"/>
<line x1="2356.3" y1="290.3" x2="2360.3" y2="294.7" stroke="#5f60b2" stroke-width="1.7"/>
<line x1="2364.2" y1="299" x2="2368.2" y2="303.4" stroke="#6167b5" stroke-width="1.7"/>
<line x1="2372.1" y1="307.7" x2="2376.2" y2="312.2" stroke="#5f63b3" stroke-width="1.7"/>
<line x1="2380" y1="316.5" x2="2384.1" y2="320.9" stroke="#6168b6" stroke-width="1.7"/>
<line x1="2388" y1="325.2" x2="2392" y2="329.6" stroke="#6374bd" stroke-width="1.7"/>
<line x1="2395.9" y1="333.9" x2="2399.9" y2="338.4" stroke="#6376be" stroke-width="1.7"/>
<line x1="2403.8" y1="342.6" x2="2407.8" y2="347.1" stroke="#647ac1" stroke-width="1.7"/>
<line x1="2411.7" y1="351.4" x2="2415.7" y2="355.8" stroke="#6374bd" stroke-width="1.7"/>
<line x1="2419.6" y1="360.1" x2="2423.6" y2="364.6" stroke="#6168b5" stroke-width="1.7"/>
<line x1="2427.5" y1="368.8" x2="2431.6" y2="373.3" stroke="#6169b7" stroke-width="1.7"/>
<line x1="2435.4" y1="377.6" x2="2439.5" y2="382" stroke="#6066b5" stroke-width="1.7"/>
<line x1="2443.4" y1="386.3" x2="2447.4" y2="390.7" stroke="#5f64b3" stroke-width="1.7"/>
<line x1="2451.3" y1="395" x2="2455.3" y2="399.5" stroke="#6169b6" stroke-width="1.7"/>
<line x1="2459.2" y1="403.8" x2="2463.2" y2="408.2" stroke="#5f64b3" stroke-width="1.7"/>
<line x1="2467.1" y1="412.5" x2="2471.1" y2="416.9" stroke="#6064b3" stroke-width="1.7"/>
<line x1="2475" y1="421.2" x2="2479.1" y2="425.7" stroke="#6168b5" stroke-width="1.7"/>
<line x1="2482.9" y1="429.9" x2="2487" y2="434.4" stroke="#5f61b2" stroke-width="1.7"/>
<line x1="2490.9" y1="438.7" x2="2494.9" y2="443.1" stroke="#6065b4" stroke-width="1.7"/>
<line x1="2498.8" y1="447.4" x2="2502.8" y2="451.9" stroke="#6065b4" stroke-width="1.7"/>
<line x1="2506.7" y1="456.1" x2="2510.7" y2="460.6" stroke="#5f60b2" stroke-width="1.7"/>
<line x1="2514.6" y1="464.9" x2="2518.6" y2="469.3" stroke="#6066b4" stroke-width="1.7"/>
<line x1="2522.5" y1="473.6" x2="2526.5" y2="478" stroke="#5f62b3" stroke-width="1.7"/>
<line x1="2530.4" y1="482.3" x2="2534.5" y2="486.8" stroke="#5f60b2" stroke-width="1.7"/>
<line x1="2538.4" y1="491.1" x2="2542.4" y2="495.5" stroke="#6065b4" stroke-width="1.7"/>
<line x1="2546.3" y1="499.8" x2="2550.3" y2="504.2" stroke="#5f5fb1" stroke-width="1.7"/>
<line x1="2554.2" y1="508.5" x2="2558.2" y2="513" stroke="#5f61b3" stroke-width="1.7"/>
<line x1="2562.1" y1="517.2" x2="2566.1" y2="521.7" stroke="#5f64b3" stroke-width="1.7"/>
<line x1="2570" y1="526" x2="2574" y2="530.4" stroke="#5f5db0" stroke-width="1.7"/>
<line x1="2577.9" y1="534.7" x2="2582" y2="539.2" stroke="#5f62b3" stroke-width="1.7"/>
<line x1="2585.8" y1="543.4" x2="2589.9" y2="547.9" stroke="#5f61b2" stroke-width="1.7"/>
<line x1="2593.8" y1="552.2" x2="2597.8" y2="556.6" stroke="#5e5cb0" stroke-width="1.7"/>
<line x1="2601.7" y1="560.9" x2="2605.7" y2="565.3" stroke="#5f63b3" stroke-width="1.7"/>
<line x1="2609.6" y1="569.6" x2="2613.6" y2="574.1" stroke="#5f5eb0" stroke-width="1.7"/>
<line x1="2617.5" y1="578.4" x2="2621.5" y2="582.8" stroke="#5e5db0" stroke-width="1.7"/>
<line x1="2625.4" y1="587.1" x2="2629.5" y2="591.5" stroke="#5f62b3" stroke-width="1.7"/>
<line x1="2236.9" y1="166.8" x2="2240.9" y2="171.2" stroke="#5e5baf" stroke-width="1.7"/>
<line x1="2244.8" y1="175.5" x2="2248.8" y2="179.9" stroke="#5f5eb0" stroke-width="1.7"/>
<line x1="2252.7" y1="184.2" x2="2256.7" y2="188.7" stroke="#5f61b2" stroke-width="1.7"/>
<line x1="2260.6" y1="193" x2="2264.7" y2="197.4" stroke="#5e5aaf" stroke-width="1.7"/>
<line x1="2268.5" y1="201.7" x2="2272.6" y2="206.1" stroke="#5f5fb2" stroke-width="1.7"/>
<line x1="2276.5" y1="210.4" x2="2280.5" y2="214.9" stroke="#5f5fb1" stroke-width="1.7"/>
<line x1="2284.4" y1="219.1" x2="2288.4" y2="223.6" stroke="#5e5aaf" stroke-width="1.7"/>
<line x1="2292.3" y1="227.9" x2="2296.3" y2="232.3" stroke="#5f61b3" stroke-width="1.7"/>
<line x1="2300.2" y1="236.6" x2="2304.2" y2="241.1" stroke="#5e5db0" stroke-width="1.7"/>
<line x1="2308.1" y1="245.3" x2="2312.2" y2="249.8" stroke="#5e5cb0" stroke-width="1.7"/>
<line x1="2316" y1="254.1" x2="2320.1" y2="258.5" stroke="#5f61b3" stroke-width="1.7"/>
<line x1="2324" y1="262.8" x2="2328" y2="267.2" stroke="#5e5baf" stroke-width="1.7"/>
<line x1="2331.9" y1="271.5" x2="2335.9" y2="276" stroke="#5f5fb1" stroke-width="1.7"/>
<line x1="2339.8" y1="280.3" x2="2343.8" y2="284.7" stroke="#5f60b2" stroke-width="1.7"/>
<line x1="2347.7" y1="289" x2="2351.7" y2="293.4" stroke="#5e5aaf" stroke-width="1.7"/>
<line x1="2355.6" y1="297.7" x2="2359.7" y2="302.2" stroke="#5f60b2" stroke-width="1.7"/>
<line x1="2363.5" y1="306.4" x2="2367.6" y2="310.9" stroke="#5f5fb1" stroke-width="1.7"/>
<line x1="2371.5" y1="315.2" x2="2375.5" y2="319.6" stroke="#5e5baf" stroke-width="1.7"/>
<line x1="2379.4" y1="323.9" x2="2383.4" y2="328.4" stroke="#5f61b3" stroke-width="1.7"/>
<line x1="2387.3" y1="332.6" x2="2391.3" y2="337.1" stroke="#5e5cb0" stroke-width="1.7"/>
<line x1="2395.2" y1="341.4" x2="2399.2" y2="345.8" stroke="#5e5db0" stroke-width="1.7"/>
<line x1="2403.1" y1="350.1" x2="2407.2" y2="354.5" stroke="#5f61b3" stroke-width="1.7"/>
<line x1="2411" y1="358.8" x2="2415.1" y2="363.3" stroke="#5e5aaf" stroke-width="1.7"/>
<line x1="2419" y1="367.6" x2="2423" y2="372" stroke="#5f5fb1" stroke-width="1.7"/>
<line x1="2426.9" y1="376.3" x2="2430.9" y2="380.7" stroke="#5f60b2" stroke-width="1.7"/>
<line x1="2434.8" y1="385" x2="2438.8" y2="389.5" stroke="#5e5aaf" stroke-width="1.7"/>
<line x1="2442.7" y1="393.7" x2="2446.7" y2="398.2" stroke="#5f60b2" stroke-width="1.7"/>
<line x1="2450.6" y1="402.5" x2="2454.6" y2="406.9" stroke="#5f5eb1" stroke-width="1.7"/>
<line x1="2458.5" y1="411.2" x2="2462.6" y2="415.7" stroke="#5e5baf" stroke-width="1.7"/>
<line x1="2466.5" y1="419.9" x2="2470.5" y2="424.4" stroke="#5f61b3" stroke-width="1.7"/>
<line x1="2474.4" y1="428.7" x2="2478.4" y2="433.1" stroke="#5e5caf" stroke-width="1.7"/>
<line x1="2482.3" y1="437.4" x2="2486.3" y2="441.8" stroke="#5f5db0" stroke-width="1.7"/>
<line x1="2490.2" y1="446.1" x2="2494.2" y2="450.6" stroke="#5f61b2" stroke-width="1.7"/>
<line x1="2498.1" y1="454.9" x2="2502.1" y2="459.3" stroke="#5e5aaf" stroke-width="1.7"/>
<line x1="2506" y1="463.6" x2="2510.1" y2="468" stroke="#5f5fb1" stroke-width="1.7"/>
<line x1="2514" y1="472.3" x2="2518" y2="476.8" stroke="#5f5fb1" stroke-width="1.7"/>
<line x1="2521.9" y1="481" x2="2525.9" y2="485.5" stroke="#5e5aaf" stroke-width="1.7"/>
<line x1="2529.8" y1="489.8" x2="2533.8" y2="494.2" stroke="#5f61b2" stroke-width="1.7"/>
<line x1="2537.7" y1="498.5" x2="2541.7" y2="503" stroke="#5f5db0" stroke-width="1.7"/>
<line x1="2545.6" y1="507.2" x2="2549.6" y2="511.7" stroke="#5e5caf" stroke-width="1.7"/>
<line x1="2553.5" y1="516" x2="2557.6" y2="520.4" stroke="#5f61b3" stroke-width="1.7"/>
<line x1="2561.5" y1="524.7" x2="2565.5" y2="529.1" stroke="#5e5baf" stroke-width="1.7"/>
<line x1="2569.4" y1="533.4" x2="2573.4" y2="537.9" stroke="#5f5eb1" stroke-width="1.7"/>
<line x1="2577.3" y1="542.2" x2="2581.3" y2="546.6" stroke="#5f60b2" stroke-width="1.7"/>
<line x1="2585.2" y1="550.9" x2="2589.2" y2="555.3" stroke="#5e5aaf" stroke-width="1.7"/>
<line x1="2593.1" y1="559.6" x2="2597.1" y2="564.1" stroke="#5f60b2" stroke-width="1.7"/>
<line x1="2601" y1="568.3" x2="2605.1" y2="572.8" stroke="#5f5fb1" stroke-width="1.7"/>
<line x1="2609" y1="577.1" x2="2613" y2="581.5" stroke="#5e5baf" stroke-width="1.7"/>
<line x1="2616.9" y1="585.8" x2="2620.9" y2="590.3" stroke="#5f61b3" stroke-width="1.7"/>
<line x1="2624.8" y1="594.5" x2="2628.8" y2="599" stroke="#5e5db0" stroke-width="1.7"/>
<line x1="2236.2" y1="174.2" x2="2240.2" y2="178.7" stroke="#5e5aaf" stroke-width="1.7"/>
<line x1="2244.1" y1="182.9" x2="2248.1" y2="187.4" stroke="#5f60b2" stroke-width="1.7"/>
<line x1="2252" y1="191.7" x2="2256.1" y2="196.1" stroke="#5e5aaf" stroke-width="1.7"/>
<line x1="2259.9" y1="200.4" x2="2264" y2="204.9" stroke="#5e5db0" stroke-width="1.7"/>
<line x1="2267.9" y1="209.1" x2="2271.9" y2="213.6" stroke="#5f5fb2" stroke-width="1.7"/>
<line x1="2275.8" y1="217.9" x2="2279.8" y2="222.3" stroke="#5e5aaf" stroke-width="1.7"/>
<line x1="2283.7" y1="226.6" x2="2287.7" y2="231" stroke="#5f5fb1" stroke-width="1.7"/>
<line x1="2291.6" y1="235.3" x2="2295.6" y2="239.8" stroke="#5f5eb1" stroke-width="1.7"/>
<line x1="2299.5" y1="244.1" x2="2303.6" y2="248.5" stroke="#5e5aaf" stroke-width="1.7"/>
<line x1="2307.4" y1="252.8" x2="2311.5" y2="257.2" stroke="#5f60b2" stroke-width="1.7"/>
<line x1="2315.4" y1="261.5" x2="2319.4" y2="266" stroke="#5e5caf" stroke-width="1.7"/>
<line x1="2323.3" y1="270.2" x2="2327.3" y2="274.7" stroke="#5e5baf" stroke-width="1.7"/>
<line x1="2331.2" y1="279" x2="2335.2" y2="283.4" stroke="#5f60b2" stroke-width="1.7"/>
<line x1="2339.1" y1="287.7" x2="2343.1" y2="292.2" stroke="#5e5aaf" stroke-width="1.7"/>
<line x1="2347" y1="296.4" x2="2351.1" y2="300.9" stroke="#5f5eb0" stroke-width="1.7"/>
<line x1="2355" y1="305.2" x2="2359" y2="309.6" stroke="#5f5fb1" stroke-width="1.7"/>
<line x1="2362.9" y1="313.9" x2="2366.9" y2="318.3" stroke="#5e5aaf" stroke-width="1.7"/>
<line x1="2370.8" y1="322.6" x2="2374.8" y2="327.1" stroke="#5f5fb1" stroke-width="1.7"/>
<line x1="2378.7" y1="331.4" x2="2382.7" y2="335.8" stroke="#5f5db0" stroke-width="1.7"/>
<line x1="2386.6" y1="340.1" x2="2390.6" y2="344.5" stroke="#5e5aaf" stroke-width="1.7"/>
<line x1="2394.5" y1="348.8" x2="2398.6" y2="353.3" stroke="#5f60b2" stroke-width="1.7"/>
<line x1="2402.5" y1="357.5" x2="2406.5" y2="362" stroke="#5e5baf" stroke-width="1.7"/>
<line x1="2410.4" y1="366.3" x2="2414.4" y2="370.7" stroke="#5e5caf" stroke-width="1.7"/>
<line x1="2418.3" y1="375" x2="2422.3" y2="379.5" stroke="#5f60b2" stroke-width="1.7"/>
<line x1="2426.2" y1="383.7" x2="2430.2" y2="388.2" stroke="#5e5aaf" stroke-width="1.7"/>
<line x1="2434.1" y1="392.5" x2="2438.2" y2="396.9" stroke="#5f5eb1" stroke-width="1.7"/>
<line x1="2442" y1="401.2" x2="2446.1" y2="405.6" stroke="#5f5fb1" stroke-width="1.7"/>
<line x1="2450" y1="409.9" x2="2454" y2="414.4" stroke="#5e5aaf" stroke-width="1.7"/>
<line x1="2457.9" y1="418.7" x2="2461.9" y2="423.1" stroke="#5f5fb2" stroke-width="1.7"/>
<line x1="2465.8" y1="427.4" x2="2469.8" y2="431.8" stroke="#5e5db0" stroke-width="1.7"/>
<line x1="2473.7" y1="436.1" x2="2477.7" y2="440.6" stroke="#5e5aaf" stroke-width="1.7"/>
<line x1="2481.6" y1="444.8" x2="2485.7" y2="449.3" stroke="#5f60b2" stroke-width="1.7"/>
<line x1="2489.5" y1="453.6" x2="2493.6" y2="458" stroke="#5e5aaf" stroke-width="1.7"/>
<line x1="2497.5" y1="462.3" x2="2501.5" y2="466.8" stroke="#5e5cb0" stroke-width="1.7"/>
<line x1="2505.4" y1="471" x2="2509.4" y2="475.5" stroke="#5f60b2" stroke-width="1.7"/>
<line x1="2513.3" y1="479.8" x2="2517.3" y2="484.2" stroke="#5e5aaf" stroke-width="1.7"/>
<line x1="2521.2" y1="488.5" x2="2525.2" y2="492.9" stroke="#5f5fb1" stroke-width="1.7"/>
<line x1="2529.1" y1="497.2" x2="2533.2" y2="501.7" stroke="#5f5fb1" stroke-width="1.7"/>
<line x1="2537.1" y1="506" x2="2541.1" y2="510.4" stroke="#5e5aaf" stroke-width="1.7"/>
<line x1="2545" y1="514.7" x2="2549" y2="519.1" stroke="#5f60b2" stroke-width="1.7"/>
<line x1="2552.9" y1="523.4" x2="2556.9" y2="527.9" stroke="#5e5cb0" stroke-width="1.7"/>
<line x1="2560.8" y1="532.1" x2="2564.8" y2="536.6" stroke="#5e5baf" stroke-width="1.7"/>
<line x1="2568.7" y1="540.9" x2="2572.8" y2="545.3" stroke="#5f60b2" stroke-width="1.7"/>
<line x1="2576.6" y1="549.6" x2="2580.7" y2="554.1" stroke="#5e5aaf" stroke-width="1.7"/>
<line x1="2584.6" y1="558.3" x2="2588.6" y2="562.8" stroke="#5f5db0" stroke-width="1.7"/>
<line x1="2592.5" y1="567.1" x2="2596.5" y2="571.5" stroke="#5f5fb2" stroke-width="1.7"/>
<line x1="2600.4" y1="575.8" x2="2604.4" y2="580.2" stroke="#5e5aaf" stroke-width="1.7"/>
<line x1="2608.3" y1="584.5" x2="2612.3" y2="589" stroke="#5f5fb1" stroke-width="1.7"/>
<line x1="2616.2" y1="593.3" x2="2620.3" y2="597.7" stroke="#5f5eb0" stroke-width="1.7"/>
<line x1="2624.1" y1="602" x2="2628.2" y2="606.4" stroke="#5e5aaf" stroke-width="1.7"/>
<rect x="183.6" y="759" width="18.9" height="39" fill="#3e3a9f"/>
<rect x="202.1" y="759" width="18.9" height="39" fill="#3f3ea1"/>
<rect x="220.7" y="759" width="18.9" height="39" fill="#4041a3"/>
<rect x="239.2" y="759" width="18.9" height="39" fill="#4145a5"/>
<rect x="257.7" y="759" width="18.9" height="39" fill="#4249a6"/>
<rect x="276.3" y="759" width="18.9" height="39" fill="#434da8"/>
<rect x="294.8" y="759" width="18.9" height="39" fill="#4450aa"/>
<rect x="313.3" y="759" width="18.9" height="39" fill="#4453ac"/>
<rect x="331.9" y="759" width="18.9" height="39" fill="#4557ae"/>
<rect x="350.4" y="759" width="18.9" height="39" fill="#455ab0"/>
<rect x="368.9" y="759" width="18.9" height="39" fill="#455db2"/>
<rect x="387.4" y="759" width="18.9" height="39" fill="#4660b4"/>
<rect x="406" y="759" width="18.9" height="39" fill="#4663b6"/>
<rect x="424.5" y="759" width="18.9" height="39" fill="#4667b9"/>
<rect x="443" y="759" width="18.9" height="39" fill="#476bbc"/>
<rect x="461.6" y="759" width="18.9" height="39" fill="#476fbe"/>
<rect x="480.1" y="759" width="18.9" height="39" fill="#4774c1"/>
<rect x="498.6" y="759" width="18.9" height="39" fill="#4778c3"/>
<rect x="517.2" y="759" width="18.9" height="39" fill="#487cc6"/>
<rect x="535.7" y="759" width="18.9" height="39" fill="#4880c9"/>
<rect x="554.2" y="759" width="18.9" height="39" fill="#4885cb"/>
<rect x="572.8" y="759" width="18.9" height="39" fill="#498ace"/>
<rect x="591.3" y="759" width="18.9" height="39" fill="#498fd0"/>
<rect x="609.8" y="759" width="18.9" height="39" fill="#4994d2"/>
<rect x="628.3" y="759" width="18.9" height="39" fill="#4a99d5"/>
<rect x="646.9" y="759" width="18.9" height="39" fill="#4a9dd5"/>
<rect x="665.4" y="759" width="18.9" height="39" fill="#4aa1d2"/>
<rect x="683.9" y="759" width="18.9" height="39" fill="#4aa5d0"/>
<rect x="702.5" y="759" width="18.9" height="39" fill="#4aa8cd"/>
<rect x="721" y="759" width="18.9" height="39" fill="#4aaccb"/>
<rect x="739.5" y="759" width="18.9" height="39" fill="#4ab0c5"/>
<rect x="758.1" y="759" width="18.9" height="39" fill="#4ab4bf"/>
<rect x="776.6" y="759" width="18.9" height="39" fill="#4ab7b9"/>
<rect x="795.1" y="759" width="18.9" height="39" fill="#4abbb2"/>
<rect x="813.7" y="759" width="18.9" height="39" fill="#4dbda9"/>
<rect x="832.2" y="759" width="18.9" height="39" fill="#4fc0a0"/>
<rect x="850.7" y="759" width="18.9" height="39" fill="#51c297"/>
<rect x="869.3" y="759" width="18.9" height="39" fill="#55c58e"/>
<rect x="887.8" y="759" width="18.9" height="39" fill="#5bc683"/>
<rect x="906.3" y="759" width="18.9" height="39" fill="#62c878"/>
<rect x="924.8" y="759" width="18.9" height="39" fill="#69c96d"/>
<rect x="943.4" y="759" width="18.9" height="39" fill="#70ca64"/>
<rect x="961.9" y="759" width="18.9" height="39" fill="#79c95b"/>
<rect x="980.4" y="759" width="18.9" height="39" fill="#81c953"/>
<rect x="999" y="759" width="18.9" height="39" fill="#8ac84a"/>
<rect x="1017.5" y="759" width="18.9" height="39" fill="#95c445"/>
<rect x="1036" y="759" width="18.9" height="39" fill="#a1be40"/>
<rect x="1054.6" y="759" width="18.9" height="39" fill="#aeb93b"/>
<rect x="1073.1" y="759" width="18.9" height="39" fill="#bab337"/>
<rect x="1091.6" y="759" width="18.9" height="39" fill="#c7af36"/>
<rect x="1110.2" y="759" width="18.9" height="39" fill="#d5ac36"/>
<rect x="1128.7" y="759" width="18.9" height="39" fill="#e0aa36"/>
<rect x="1147.2" y="759" width="18.9" height="39" fill="#e8aa37"/>
<rect x="1165.8" y="759" width="18.9" height="39" fill="#f0aa38"/>
<rect x="1184.3" y="759" width="18.9" height="39" fill="#f2af36"/>
<rect x="1202.8" y="759" width="18.9" height="39" fill="#f1b634"/>
<rect x="1221.3" y="759" width="18.9" height="39" fill="#f0bd31"/>
<rect x="1239.9" y="759" width="18.9" height="39" fill="#efc430"/>
<rect x="1258.4" y="759" width="18.9" height="39" fill="#eccc2f"/>
<rect x="1276.9" y="759" width="18.9" height="39" fill="#ead32e"/>
<rect x="1295.5" y="759" width="18.9" height="39" fill="#e8da2f"/>
<rect x="1314" y="759" width="18.9" height="39" fill="#e7df31"/>
<rect x="1332.5" y="759" width="18.9" height="39" fill="#e7e433"/>
<rect x="1351.1" y="759" width="18.9" height="39" fill="#e6e935"/>
<rect x="183.8" y="759" width="1186" height="39" fill="none" stroke="#231f20" stroke-width="2.3"/>
<g transform="translate(175.7 848.1)"><text font-size="41">0</text></g>
<line x1="299.9" y1="759" x2="299.9" y2="770" stroke="#231f20" stroke-width="1.8" stroke-linecap="butt"/>
<line x1="299.9" y1="798" x2="299.9" y2="787" stroke="#231f20" stroke-width="1.8" stroke-linecap="butt"/>
<g transform="translate(273.9 848.1)"><text font-size="41">0.5</text></g>
<line x1="415.9" y1="759" x2="415.9" y2="770" stroke="#231f20" stroke-width="1.8" stroke-linecap="butt"/>
<line x1="415.9" y1="798" x2="415.9" y2="787" stroke="#231f20" stroke-width="1.8" stroke-linecap="butt"/>
<g transform="translate(388.9 848.1)"><text font-size="41">1.0</text></g>
<line x1="532" y1="759" x2="532" y2="770" stroke="#231f20" stroke-width="1.8" stroke-linecap="butt"/>
<line x1="532" y1="798" x2="532" y2="787" stroke="#231f20" stroke-width="1.8" stroke-linecap="butt"/>
<g transform="translate(505 848.1)"><text font-size="41">1.5</text></g>
<line x1="648.1" y1="759" x2="648.1" y2="770" stroke="#231f20" stroke-width="1.8" stroke-linecap="butt"/>
<line x1="648.1" y1="798" x2="648.1" y2="787" stroke="#231f20" stroke-width="1.8" stroke-linecap="butt"/>
<g transform="translate(622.1 848.1)"><text font-size="41">2.0</text></g>
<line x1="764.1" y1="759" x2="764.1" y2="770" stroke="#231f20" stroke-width="1.8" stroke-linecap="butt"/>
<line x1="764.1" y1="798" x2="764.1" y2="787" stroke="#231f20" stroke-width="1.8" stroke-linecap="butt"/>
<g transform="translate(738.1 848.1)"><text font-size="41">2.5</text></g>
<line x1="880.2" y1="759" x2="880.2" y2="770" stroke="#231f20" stroke-width="1.8" stroke-linecap="butt"/>
<line x1="880.2" y1="798" x2="880.2" y2="787" stroke="#231f20" stroke-width="1.8" stroke-linecap="butt"/>
<g transform="translate(854.2 848.1)"><text font-size="41">3.0</text></g>
<line x1="996.3" y1="759" x2="996.3" y2="770" stroke="#231f20" stroke-width="1.8" stroke-linecap="butt"/>
<line x1="996.3" y1="798" x2="996.3" y2="787" stroke="#231f20" stroke-width="1.8" stroke-linecap="butt"/>
<g transform="translate(970.3 848.1)"><text font-size="41">3.5</text></g>
<line x1="1112.4" y1="759" x2="1112.4" y2="770" stroke="#231f20" stroke-width="1.8" stroke-linecap="butt"/>
<line x1="1112.4" y1="798" x2="1112.4" y2="787" stroke="#231f20" stroke-width="1.8" stroke-linecap="butt"/>
<g transform="translate(1086.9 848.1)"><text font-size="41">4.0</text></g>
<line x1="1228.4" y1="759" x2="1228.4" y2="770" stroke="#231f20" stroke-width="1.8" stroke-linecap="butt"/>
<line x1="1228.4" y1="798" x2="1228.4" y2="787" stroke="#231f20" stroke-width="1.8" stroke-linecap="butt"/>
<g transform="translate(1202.9 848.1)"><text font-size="41">4.5</text></g>
<line x1="1344.5" y1="759" x2="1344.5" y2="770" stroke="#231f20" stroke-width="1.8" stroke-linecap="butt"/>
<line x1="1344.5" y1="798" x2="1344.5" y2="787" stroke="#231f20" stroke-width="1.8" stroke-linecap="butt"/>
<g transform="translate(1318.5 848.1)"><text font-size="41">5.0</text></g>
<g transform="translate(685.5 907.5)"><text font-size="42.5" transform="scale(1.04 1)">滑移量</text></g>
<g transform="translate(820 907.4)"><text font-size="45">/</text></g>
<g transform="translate(833.3 907.4)"><text font-size="44">m</text></g>
<g transform="translate(724.5 971.9)"><text font-size="42">（</text></g>
<g transform="translate(765.8 968.9)"><text font-size="44">a</text></g>
<g transform="translate(788.6 971.9)"><text font-size="42">）</text></g>
<rect x="1458" y="758" width="18.7" height="39" fill="#3e3a9f"/>
<rect x="1476.3" y="758" width="18.7" height="39" fill="#3f3ea1"/>
<rect x="1494.6" y="758" width="18.7" height="39" fill="#4041a3"/>
<rect x="1512.9" y="758" width="18.7" height="39" fill="#4145a5"/>
<rect x="1531.2" y="758" width="18.7" height="39" fill="#4249a6"/>
<rect x="1549.6" y="758" width="18.7" height="39" fill="#434da8"/>
<rect x="1567.9" y="758" width="18.7" height="39" fill="#4450aa"/>
<rect x="1586.2" y="758" width="18.7" height="39" fill="#4453ac"/>
<rect x="1604.5" y="758" width="18.7" height="39" fill="#4557ae"/>
<rect x="1622.8" y="758" width="18.7" height="39" fill="#455ab0"/>
<rect x="1641.1" y="758" width="18.7" height="39" fill="#455db2"/>
<rect x="1659.4" y="758" width="18.7" height="39" fill="#4660b4"/>
<rect x="1677.8" y="758" width="18.7" height="39" fill="#4663b6"/>
<rect x="1696.1" y="758" width="18.7" height="39" fill="#4667b9"/>
<rect x="1714.4" y="758" width="18.7" height="39" fill="#476bbc"/>
<rect x="1732.7" y="758" width="18.7" height="39" fill="#476fbe"/>
<rect x="1751" y="758" width="18.7" height="39" fill="#4774c1"/>
<rect x="1769.3" y="758" width="18.7" height="39" fill="#4778c3"/>
<rect x="1787.6" y="758" width="18.7" height="39" fill="#487cc6"/>
<rect x="1805.9" y="758" width="18.7" height="39" fill="#4880c9"/>
<rect x="1824.2" y="758" width="18.7" height="39" fill="#4885cb"/>
<rect x="1842.6" y="758" width="18.7" height="39" fill="#498ace"/>
<rect x="1860.9" y="758" width="18.7" height="39" fill="#498fd0"/>
<rect x="1879.2" y="758" width="18.7" height="39" fill="#4994d2"/>
<rect x="1897.5" y="758" width="18.7" height="39" fill="#4a99d5"/>
<rect x="1915.8" y="758" width="18.7" height="39" fill="#4a9dd5"/>
<rect x="1934.1" y="758" width="18.7" height="39" fill="#4aa1d2"/>
<rect x="1952.4" y="758" width="18.7" height="39" fill="#4aa5d0"/>
<rect x="1970.7" y="758" width="18.7" height="39" fill="#4aa8cd"/>
<rect x="1989.1" y="758" width="18.7" height="39" fill="#4aaccb"/>
<rect x="2007.4" y="758" width="18.7" height="39" fill="#4ab0c5"/>
<rect x="2025.7" y="758" width="18.7" height="39" fill="#4ab4bf"/>
<rect x="2044" y="758" width="18.7" height="39" fill="#4ab7b9"/>
<rect x="2062.3" y="758" width="18.7" height="39" fill="#4abbb2"/>
<rect x="2080.6" y="758" width="18.7" height="39" fill="#4dbda9"/>
<rect x="2098.9" y="758" width="18.7" height="39" fill="#4fc0a0"/>
<rect x="2117.2" y="758" width="18.7" height="39" fill="#51c297"/>
<rect x="2135.6" y="758" width="18.7" height="39" fill="#55c58e"/>
<rect x="2153.9" y="758" width="18.7" height="39" fill="#5bc683"/>
<rect x="2172.2" y="758" width="18.7" height="39" fill="#62c878"/>
<rect x="2190.5" y="758" width="18.7" height="39" fill="#69c96d"/>
<rect x="2208.8" y="758" width="18.7" height="39" fill="#70ca64"/>
<rect x="2227.1" y="758" width="18.7" height="39" fill="#79c95b"/>
<rect x="2245.4" y="758" width="18.7" height="39" fill="#81c953"/>
<rect x="2263.8" y="758" width="18.7" height="39" fill="#8ac84a"/>
<rect x="2282.1" y="758" width="18.7" height="39" fill="#95c445"/>
<rect x="2300.4" y="758" width="18.7" height="39" fill="#a1be40"/>
<rect x="2318.7" y="758" width="18.7" height="39" fill="#aeb93b"/>
<rect x="2337" y="758" width="18.7" height="39" fill="#bab337"/>
<rect x="2355.3" y="758" width="18.7" height="39" fill="#c7af36"/>
<rect x="2373.6" y="758" width="18.7" height="39" fill="#d5ac36"/>
<rect x="2391.9" y="758" width="18.7" height="39" fill="#e0aa36"/>
<rect x="2410.2" y="758" width="18.7" height="39" fill="#e8aa37"/>
<rect x="2428.6" y="758" width="18.7" height="39" fill="#f0aa38"/>
<rect x="2446.9" y="758" width="18.7" height="39" fill="#f2af36"/>
<rect x="2465.2" y="758" width="18.7" height="39" fill="#f1b634"/>
<rect x="2483.5" y="758" width="18.7" height="39" fill="#f0bd31"/>
<rect x="2501.8" y="758" width="18.7" height="39" fill="#efc430"/>
<rect x="2520.1" y="758" width="18.7" height="39" fill="#eccc2f"/>
<rect x="2538.4" y="758" width="18.7" height="39" fill="#ead32e"/>
<rect x="2556.8" y="758" width="18.7" height="39" fill="#e8da2f"/>
<rect x="2575.1" y="758" width="18.7" height="39" fill="#e7df31"/>
<rect x="2593.4" y="758" width="18.7" height="39" fill="#e7e433"/>
<rect x="2611.7" y="758" width="18.7" height="39" fill="#e6e935"/>
<rect x="1458.2" y="758" width="1172" height="39" fill="none" stroke="#231f20" stroke-width="2.3"/>
<line x1="1605.3" y1="758" x2="1605.3" y2="769" stroke="#231f20" stroke-width="1.8" stroke-linecap="butt"/>
<line x1="1605.3" y1="797" x2="1605.3" y2="786" stroke="#231f20" stroke-width="1.8" stroke-linecap="butt"/>
<g transform="translate(1579.3 848.1)"><text font-size="41">0.5</text></g>
<line x1="1752" y1="758" x2="1752" y2="769" stroke="#231f20" stroke-width="1.8" stroke-linecap="butt"/>
<line x1="1752" y1="797" x2="1752" y2="786" stroke="#231f20" stroke-width="1.8" stroke-linecap="butt"/>
<g transform="translate(1725 848.1)"><text font-size="41">1.0</text></g>
<line x1="1898.7" y1="758" x2="1898.7" y2="769" stroke="#231f20" stroke-width="1.8" stroke-linecap="butt"/>
<line x1="1898.7" y1="797" x2="1898.7" y2="786" stroke="#231f20" stroke-width="1.8" stroke-linecap="butt"/>
<g transform="translate(1871.7 848.1)"><text font-size="41">1.5</text></g>
<line x1="2045.4" y1="758" x2="2045.4" y2="769" stroke="#231f20" stroke-width="1.8" stroke-linecap="butt"/>
<line x1="2045.4" y1="797" x2="2045.4" y2="786" stroke="#231f20" stroke-width="1.8" stroke-linecap="butt"/>
<g transform="translate(2019.4 848.1)"><text font-size="41">2.0</text></g>
<line x1="2192.1" y1="758" x2="2192.1" y2="769" stroke="#231f20" stroke-width="1.8" stroke-linecap="butt"/>
<line x1="2192.1" y1="797" x2="2192.1" y2="786" stroke="#231f20" stroke-width="1.8" stroke-linecap="butt"/>
<g transform="translate(2166.1 848.1)"><text font-size="41">2.5</text></g>
<line x1="2338.8" y1="758" x2="2338.8" y2="769" stroke="#231f20" stroke-width="1.8" stroke-linecap="butt"/>
<line x1="2338.8" y1="797" x2="2338.8" y2="786" stroke="#231f20" stroke-width="1.8" stroke-linecap="butt"/>
<g transform="translate(2312.8 848.1)"><text font-size="41">3.0</text></g>
<line x1="2485.5" y1="758" x2="2485.5" y2="769" stroke="#231f20" stroke-width="1.8" stroke-linecap="butt"/>
<line x1="2485.5" y1="797" x2="2485.5" y2="786" stroke="#231f20" stroke-width="1.8" stroke-linecap="butt"/>
<g transform="translate(2459.5 848.1)"><text font-size="41">3.5</text></g>
<g transform="translate(1954.8 907.5)"><text font-size="42.5" transform="scale(1.04 1)">滑移量</text></g>
<g transform="translate(2089.3 907.4)"><text font-size="45">/</text></g>
<g transform="translate(2102.6 907.4)"><text font-size="44">m</text></g>
<g transform="translate(1990 970.5)"><text font-size="42">（</text></g>
<g transform="translate(2036.6 967.5)"><text font-size="44">b</text></g>
<g transform="translate(2057.9 970.5)"><text font-size="42">）</text></g>
</svg>
</body></html>
